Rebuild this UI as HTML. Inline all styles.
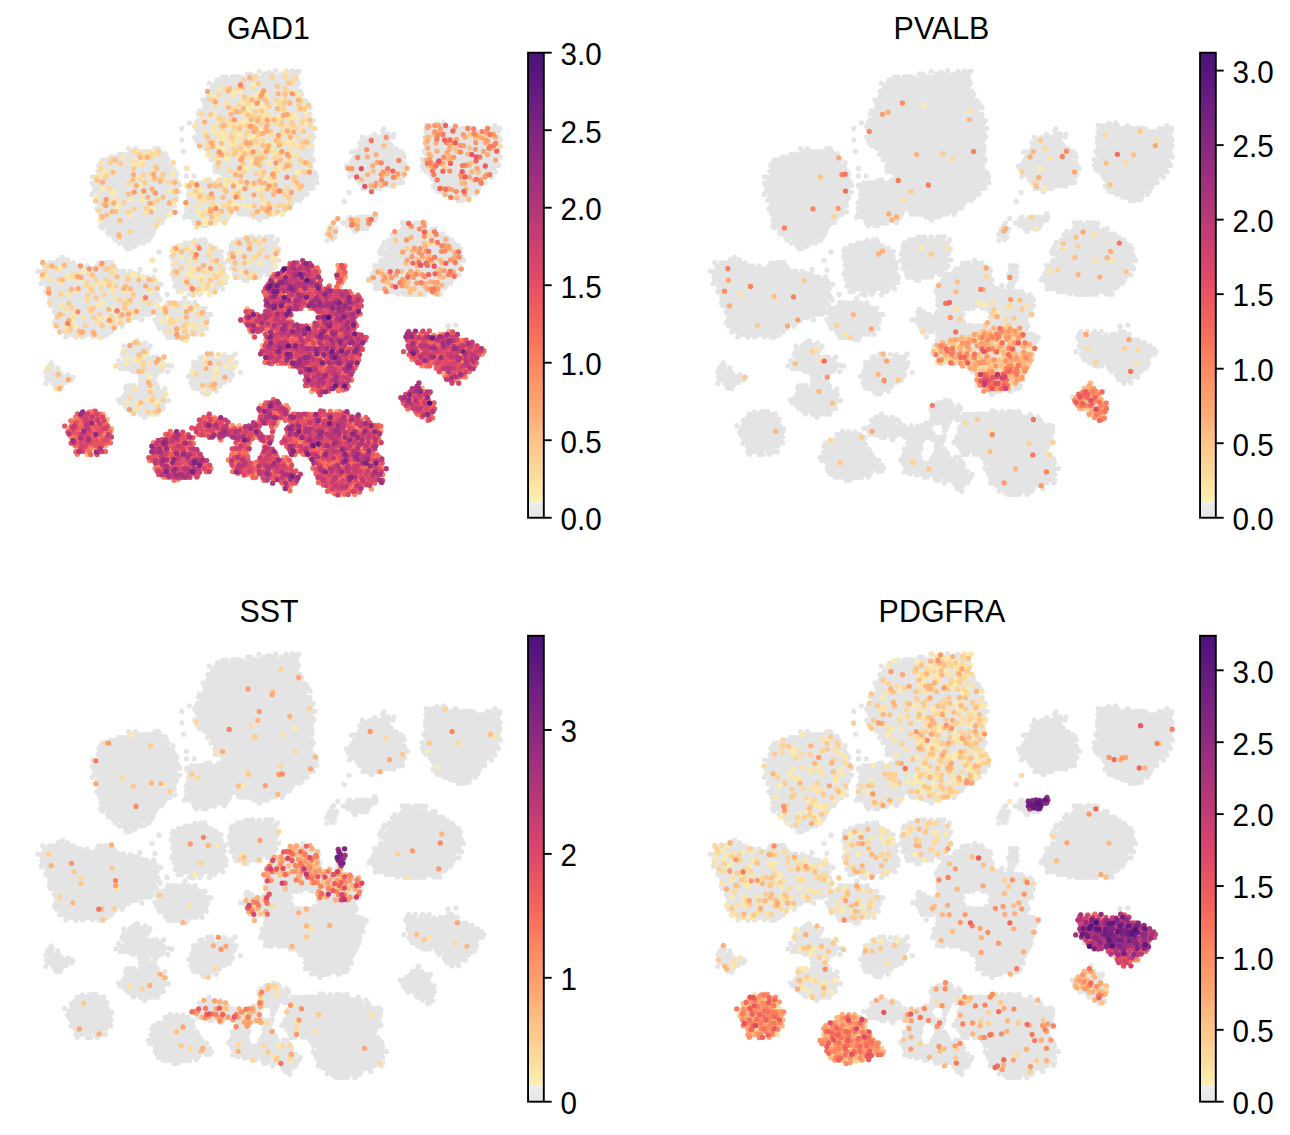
<!DOCTYPE html>
<html><head><meta charset="utf-8"><style>
html,body{margin:0;padding:0;background:#fff;width:1290px;height:1135px;overflow:hidden}
svg{display:block}
text{font-family:"Liberation Sans",sans-serif;fill:#000}
.ti{font-size:31.7px;text-anchor:middle}
.tk{font-size:31.3px}
</style></head><body>
<svg width="1290" height="1135" viewBox="0 0 1290 1135">
<defs>
<linearGradient id="cbg" x1="0" y1="1" x2="0" y2="0"><stop offset="0" stop-color="#e5e5e5"/><stop offset="0.036" stop-color="#efefef"/><stop offset="0.0360" stop-color="#fcf0b2"/><stop offset="0.0842" stop-color="#fddea0"/><stop offset="0.1324" stop-color="#fecd90"/><stop offset="0.1806" stop-color="#febd82"/><stop offset="0.2288" stop-color="#feaa74"/><stop offset="0.2770" stop-color="#fd9a6a"/><stop offset="0.3252" stop-color="#fc8961"/><stop offset="0.3734" stop-color="#f8765c"/><stop offset="0.4216" stop-color="#f3655c"/><stop offset="0.4698" stop-color="#eb5760"/><stop offset="0.5180" stop-color="#df4a68"/><stop offset="0.5662" stop-color="#d2426f"/><stop offset="0.6144" stop-color="#c43c75"/><stop offset="0.6626" stop-color="#b3367a"/><stop offset="0.7108" stop-color="#a5317e"/><stop offset="0.7590" stop-color="#962c80"/><stop offset="0.8072" stop-color="#862781"/><stop offset="0.8554" stop-color="#782281"/><stop offset="0.9036" stop-color="#6a1c81"/><stop offset="0.9518" stop-color="#5a167e"/><stop offset="1.0000" stop-color="#4c117a"/></linearGradient>
<g id="grey">
<path fill="none" stroke="#e4e4e4" stroke-width="5.3" stroke-linecap="round" d="M931.1 71.4h0M941.0 72.3h0M947.5 71.0h0M957.9 71.3h0M964.0 71.0h0M967.5 71.9h0M970.8 71.2h0M919.6 74.1h0M922.7 74.1h0M936.6 74.0h0M939.2 74.7h0M942.9 74.1h0M946.5 74.8h0M952.6 74.2h0M955.7 74.1h0M958.9 74.3h0M962.6 73.7h0M968.7 74.5h0M894.8 77.5h0M898.1 77.1h0M904.4 76.8h0M908.3 76.5h0M910.8 77.2h0M914.6 77.7h0M921.5 77.5h0M924.7 77.5h0M927.9 76.7h0M930.7 77.7h0M934.3 76.6h0M937.6 77.4h0M941.0 77.2h0M943.5 77.2h0M947.5 77.6h0M950.8 77.1h0M954.0 77.1h0M957.5 77.0h0M960.4 76.8h0M964.0 77.0h0M967.2 76.7h0M889.6 80.0h0M892.6 80.1h0M896.3 79.9h0M899.7 80.1h0M903.0 79.6h0M906.6 80.0h0M909.6 80.0h0M912.6 80.1h0M916.0 79.7h0M919.5 80.2h0M922.9 80.1h0M925.9 79.9h0M929.3 79.6h0M932.9 80.0h0M935.6 80.4h0M939.8 79.6h0M942.5 79.7h0M946.1 79.6h0M949.3 80.1h0M952.8 79.4h0M955.5 79.9h0M959.3 80.0h0M962.6 80.1h0M965.4 80.0h0M968.8 79.9h0M881.4 83.1h0M888.2 82.5h0M890.9 82.7h0M894.2 82.7h0M898.0 82.9h0M901.9 82.6h0M904.5 82.7h0M907.6 83.5h0M911.0 82.8h0M914.4 83.6h0M917.7 82.6h0M921.5 82.7h0M923.8 83.2h0M928.0 82.4h0M930.6 82.8h0M934.0 82.4h0M937.2 83.4h0M941.2 82.5h0M944.1 82.9h0M947.4 82.8h0M951.3 82.7h0M953.9 82.8h0M957.2 82.7h0M960.6 82.5h0M964.4 82.6h0M970.3 82.9h0M885.6 86.1h0M890.0 85.9h0M893.0 85.4h0M896.5 85.7h0M899.2 86.0h0M902.5 85.6h0M906.8 85.5h0M909.6 86.0h0M912.8 85.3h0M916.0 85.7h0M919.0 86.1h0M922.8 85.9h0M926.1 85.8h0M929.2 85.3h0M932.8 85.7h0M936.4 85.3h0M939.3 86.3h0M942.1 85.3h0M945.9 86.2h0M948.8 85.7h0M952.4 85.5h0M955.6 86.1h0M959.1 85.3h0M962.1 85.7h0M965.2 85.5h0M968.8 85.1h0M884.2 88.4h0M887.8 88.4h0M891.4 88.7h0M894.5 88.6h0M897.6 88.5h0M901.6 88.4h0M904.5 88.6h0M908.1 88.7h0M911.1 88.3h0M914.6 87.7h0M917.9 88.3h0M921.3 88.5h0M924.8 88.4h0M927.1 88.6h0M930.8 88.5h0M934.6 88.3h0M937.8 88.8h0M941.2 88.0h0M944.2 88.4h0M947.4 88.3h0M950.7 88.8h0M954.6 88.8h0M957.0 88.9h0M960.3 88.5h0M964.3 88.4h0M967.5 88.5h0M880.1 91.4h0M883.3 91.9h0M886.8 91.7h0M889.7 91.2h0M892.8 91.7h0M896.0 91.5h0M900.1 90.9h0M903.0 91.1h0M906.2 91.6h0M909.2 91.0h0M912.7 91.5h0M916.0 91.1h0M919.6 91.1h0M922.3 91.5h0M926.7 91.3h0M929.3 91.1h0M932.4 91.1h0M936.0 91.2h0M939.0 91.7h0M942.1 91.7h0M945.8 91.1h0M949.1 91.3h0M952.5 91.4h0M956.3 91.7h0M959.4 91.1h0M962.2 91.8h0M965.8 91.4h0M968.9 91.7h0M971.7 91.2h0M881.6 94.2h0M884.7 94.8h0M888.4 94.5h0M891.2 94.5h0M894.7 94.5h0M898.1 95.1h0M901.3 94.0h0M905.0 94.7h0M908.3 93.5h0M910.9 94.1h0M914.0 94.3h0M918.0 94.6h0M921.4 94.3h0M924.9 94.4h0M926.9 94.2h0M930.8 94.4h0M934.2 94.2h0M938.0 94.1h0M940.5 94.4h0M944.4 94.3h0M947.5 94.1h0M950.4 94.1h0M953.8 94.7h0M957.3 94.7h0M960.7 94.0h0M964.0 94.3h0M967.7 93.7h0M970.5 94.4h0M973.7 94.3h0M879.9 97.2h0M883.0 97.3h0M886.8 97.0h0M890.1 97.0h0M893.3 97.1h0M896.2 97.2h0M899.3 96.6h0M902.9 97.0h0M905.9 97.8h0M909.6 96.9h0M913.0 97.3h0M916.0 97.0h0M918.8 97.2h0M923.3 97.5h0M926.3 96.9h0M929.0 97.4h0M932.7 97.0h0M935.8 97.4h0M939.4 97.0h0M942.5 96.6h0M945.4 97.3h0M949.0 96.8h0M952.5 97.5h0M955.4 97.0h0M958.9 97.8h0M962.6 97.2h0M965.2 97.3h0M969.1 97.0h0M972.0 97.0h0M875.0 100.0h0M878.2 100.4h0M881.6 100.2h0M885.2 100.0h0M888.2 100.2h0M891.3 100.4h0M894.5 100.0h0M898.0 99.9h0M901.3 99.9h0M903.9 100.4h0M907.8 100.3h0M910.9 100.2h0M914.1 100.5h0M917.8 99.9h0M920.3 99.3h0M924.3 99.8h0M927.5 99.9h0M931.3 99.9h0M934.2 99.8h0M937.3 100.1h0M940.8 99.9h0M944.3 100.0h0M947.7 100.2h0M950.4 99.8h0M954.4 99.9h0M957.6 99.7h0M960.0 99.4h0M963.8 99.9h0M968.0 100.2h0M970.8 100.3h0M973.4 100.0h0M977.2 100.6h0M876.6 103.2h0M879.5 102.9h0M883.5 103.0h0M886.7 102.2h0M889.5 102.8h0M892.9 102.2h0M896.7 103.0h0M899.1 102.8h0M903.0 103.2h0M906.5 102.6h0M909.4 103.0h0M913.2 102.8h0M916.0 103.1h0M919.5 103.3h0M922.9 103.2h0M925.5 102.5h0M928.9 102.7h0M932.8 102.8h0M936.1 102.7h0M939.6 103.1h0M942.0 102.6h0M945.7 103.1h0M949.4 103.4h0M952.0 102.9h0M955.7 102.8h0M959.0 102.2h0M962.4 102.7h0M965.3 103.3h0M968.7 102.9h0M972.0 102.4h0M975.4 103.0h0M978.5 103.0h0M877.9 105.3h0M882.0 105.8h0M884.4 106.3h0M888.2 105.8h0M890.5 106.1h0M894.7 106.1h0M898.5 105.3h0M901.8 106.0h0M904.6 105.0h0M908.5 105.8h0M911.4 105.4h0M914.7 105.9h0M918.2 105.4h0M920.4 105.5h0M924.1 105.8h0M927.6 105.8h0M931.4 106.2h0M934.3 105.2h0M937.6 105.6h0M940.9 105.7h0M944.2 105.0h0M947.6 105.9h0M950.9 105.7h0M954.3 105.2h0M957.3 105.9h0M960.5 105.7h0M964.3 105.6h0M967.0 105.5h0M970.7 105.4h0M973.9 105.6h0M977.2 105.9h0M980.7 105.7h0M876.7 108.7h0M879.8 108.2h0M882.8 108.5h0M886.6 108.5h0M889.5 108.7h0M892.7 108.8h0M897.2 108.4h0M900.0 108.3h0M903.0 108.7h0M906.6 108.6h0M910.0 108.2h0M912.8 108.6h0M916.2 108.5h0M920.0 108.5h0M923.1 108.7h0M926.7 108.5h0M929.6 108.8h0M931.7 108.7h0M936.3 109.1h0M938.9 108.5h0M942.9 108.3h0M945.6 108.8h0M949.4 109.0h0M952.8 108.7h0M955.5 108.4h0M959.1 108.7h0M962.4 108.8h0M965.4 108.5h0M968.6 109.2h0M972.2 108.9h0M976.0 108.7h0M982.1 108.1h0M871.3 110.8h0M874.7 111.8h0M878.0 111.5h0M881.5 112.1h0M885.2 111.2h0M888.0 111.8h0M891.5 111.5h0M895.1 111.6h0M898.1 112.4h0M901.4 111.0h0M904.7 111.5h0M908.4 111.5h0M911.0 111.6h0M914.1 111.3h0M917.9 111.2h0M920.5 111.1h0M924.2 111.6h0M927.6 111.4h0M930.7 111.5h0M934.1 111.6h0M937.7 111.9h0M941.1 111.3h0M943.9 111.5h0M947.7 111.9h0M950.6 111.0h0M953.5 111.1h0M957.3 111.3h0M960.6 111.4h0M964.1 110.9h0M967.3 111.4h0M970.5 111.3h0M973.3 111.6h0M977.0 111.4h0M870.4 114.1h0M873.4 114.3h0M876.5 114.6h0M880.1 114.5h0M883.0 114.3h0M886.0 114.5h0M889.4 114.2h0M893.3 114.2h0M896.4 114.1h0M900.5 113.9h0M902.8 114.3h0M907.1 114.1h0M909.6 114.6h0M912.2 114.6h0M916.3 114.8h0M920.0 114.5h0M923.1 114.1h0M925.7 114.3h0M929.5 114.3h0M932.8 114.5h0M936.5 114.3h0M939.2 114.5h0M942.7 114.5h0M946.4 114.1h0M949.4 114.8h0M952.9 113.9h0M955.7 114.7h0M959.1 114.5h0M962.4 114.8h0M965.8 114.3h0M969.0 114.8h0M972.4 113.9h0M975.0 114.6h0M978.4 114.4h0M982.0 114.4h0M875.1 116.9h0M878.0 116.9h0M881.3 117.4h0M884.6 117.2h0M887.9 117.1h0M891.6 117.4h0M894.4 117.2h0M897.7 117.4h0M901.1 116.9h0M904.9 117.0h0M907.9 117.4h0M911.0 117.1h0M914.7 117.8h0M918.0 117.4h0M921.1 117.2h0M924.9 116.9h0M927.5 117.6h0M930.8 116.8h0M934.5 117.5h0M938.1 117.8h0M940.2 117.1h0M944.1 117.3h0M947.3 117.2h0M950.9 117.2h0M953.9 117.2h0M957.1 116.9h0M960.6 117.4h0M963.4 117.1h0M967.7 117.2h0M970.4 117.2h0M974.4 117.1h0M977.0 117.4h0M980.4 117.0h0M870.0 119.9h0M872.7 120.0h0M876.4 119.9h0M880.2 120.2h0M883.4 119.9h0M886.9 119.8h0M890.0 119.6h0M893.1 119.7h0M895.9 120.2h0M899.7 120.2h0M903.0 120.1h0M906.2 120.0h0M909.6 120.7h0M912.5 119.6h0M915.9 119.8h0M919.6 120.3h0M923.1 120.0h0M926.3 120.6h0M929.6 120.4h0M932.4 120.3h0M936.2 119.7h0M939.3 120.2h0M942.3 120.3h0M946.2 120.1h0M949.1 120.0h0M952.6 120.4h0M955.4 120.1h0M959.1 119.8h0M962.0 120.0h0M965.2 120.1h0M968.9 119.7h0M972.3 119.8h0M975.3 120.4h0M978.6 119.2h0M982.2 119.7h0M985.2 120.5h0M868.5 122.7h0M871.9 122.6h0M875.2 122.6h0M877.4 122.6h0M881.7 122.9h0M884.9 122.7h0M888.2 122.6h0M891.9 123.3h0M894.8 122.7h0M897.8 123.1h0M901.4 122.6h0M904.8 123.1h0M908.1 123.0h0M911.3 122.9h0M914.4 122.7h0M918.2 122.4h0M921.1 123.1h0M925.1 122.8h0M928.1 123.3h0M931.3 123.4h0M933.8 123.2h0M937.6 123.0h0M940.9 122.6h0M943.7 123.0h0M947.5 122.5h0M950.8 122.6h0M953.9 122.9h0M957.7 122.3h0M960.7 123.1h0M963.6 122.8h0M967.4 123.2h0M970.3 122.4h0M973.7 122.7h0M977.2 122.9h0M979.9 123.1h0M983.3 123.0h0M866.7 125.9h0M869.9 125.9h0M872.7 125.8h0M876.6 126.0h0M879.6 125.7h0M883.4 126.7h0M886.6 126.0h0M889.7 126.4h0M893.1 125.7h0M896.5 125.4h0M899.4 125.7h0M902.8 126.1h0M906.2 126.5h0M909.7 125.6h0M913.0 126.0h0M916.2 125.9h0M919.4 125.5h0M922.8 126.3h0M926.0 125.8h0M928.9 125.6h0M932.8 125.7h0M936.3 126.1h0M939.1 125.7h0M942.8 125.9h0M945.8 125.2h0M949.6 125.8h0M952.5 125.5h0M956.2 125.7h0M959.1 125.2h0M962.2 125.7h0M965.8 126.0h0M968.9 126.1h0M972.2 125.7h0M975.6 125.2h0M978.2 126.3h0M981.6 125.6h0M868.4 128.4h0M871.4 128.3h0M874.7 128.5h0M877.9 128.9h0M881.8 128.7h0M885.0 128.2h0M887.9 128.4h0M891.5 128.8h0M894.9 128.2h0M898.0 128.9h0M901.2 128.7h0M904.1 128.6h0M907.8 128.0h0M911.4 129.0h0M914.7 128.5h0M917.8 128.4h0M921.3 128.7h0M924.8 128.6h0M928.0 128.5h0M930.8 128.6h0M934.0 128.3h0M937.8 128.8h0M940.7 128.3h0M944.1 128.4h0M947.7 128.5h0M950.4 128.3h0M954.2 129.2h0M957.5 128.2h0M960.4 128.6h0M963.9 128.6h0M967.9 128.3h0M970.3 128.6h0M973.9 128.6h0M977.4 128.6h0M980.8 128.6h0M983.9 128.1h0M986.8 128.5h0M869.9 131.6h0M873.3 131.2h0M876.8 131.6h0M879.8 131.4h0M883.2 131.0h0M886.8 130.7h0M889.4 131.2h0M893.2 131.5h0M896.4 131.1h0M900.0 131.7h0M902.3 131.5h0M905.7 131.3h0M909.7 131.4h0M912.5 131.2h0M916.5 131.5h0M919.6 130.9h0M922.9 131.5h0M925.8 131.8h0M929.3 131.7h0M932.5 131.6h0M936.1 131.4h0M939.3 131.5h0M942.5 131.1h0M945.9 131.4h0M949.2 131.2h0M952.9 131.7h0M956.1 132.0h0M959.3 131.4h0M962.0 131.8h0M965.7 131.7h0M969.3 131.4h0M972.0 131.6h0M975.4 131.2h0M979.0 131.4h0M982.3 131.1h0M871.2 134.1h0M875.1 134.5h0M877.6 134.5h0M881.9 134.4h0M884.9 134.3h0M888.2 134.2h0M891.8 134.3h0M894.3 134.5h0M898.3 134.4h0M901.0 134.5h0M903.7 134.8h0M908.1 133.7h0M910.6 135.0h0M914.6 134.1h0M917.9 134.2h0M921.0 134.4h0M924.5 134.0h0M927.8 134.4h0M930.7 134.6h0M934.4 134.0h0M938.1 134.5h0M941.3 134.1h0M944.0 134.3h0M947.3 134.2h0M950.4 134.9h0M954.3 134.7h0M957.9 134.3h0M961.3 133.6h0M963.9 134.1h0M967.3 133.9h0M970.9 134.9h0M974.0 134.5h0M976.5 134.1h0M980.6 134.1h0M983.9 134.2h0M866.8 137.2h0M870.4 137.7h0M874.0 137.1h0M876.8 136.8h0M880.1 137.3h0M883.1 137.6h0M886.5 136.7h0M890.2 137.2h0M893.3 137.0h0M896.2 136.8h0M899.4 137.4h0M903.1 136.7h0M906.3 137.2h0M909.4 137.3h0M912.6 137.5h0M916.1 137.2h0M918.5 137.0h0M922.8 137.0h0M926.0 136.9h0M929.6 136.8h0M932.5 137.6h0M936.3 137.1h0M938.9 136.6h0M942.6 137.2h0M945.7 137.1h0M949.7 137.4h0M952.4 137.1h0M955.6 137.2h0M959.0 137.2h0M962.2 137.4h0M965.7 136.8h0M969.8 137.2h0M972.1 136.8h0M975.6 137.0h0M979.3 137.3h0M982.0 136.6h0M985.7 136.7h0M868.3 139.7h0M874.8 139.6h0M878.0 140.2h0M881.8 140.3h0M885.1 140.6h0M888.0 140.4h0M891.2 140.6h0M895.0 139.7h0M898.2 140.3h0M901.1 140.1h0M904.9 140.6h0M907.7 140.5h0M910.9 139.8h0M914.9 140.3h0M917.6 140.5h0M921.3 140.1h0M924.3 139.3h0M927.7 140.3h0M931.0 140.3h0M934.3 140.4h0M936.7 140.2h0M940.6 140.1h0M944.4 140.4h0M947.8 140.4h0M950.5 140.1h0M953.5 140.1h0M956.9 140.3h0M960.8 139.9h0M963.8 140.1h0M967.1 139.6h0M970.7 139.8h0M974.0 139.7h0M976.8 140.7h0M980.7 140.4h0M983.7 140.0h0M869.9 142.9h0M873.3 143.3h0M876.4 143.2h0M880.1 143.0h0M883.2 142.7h0M886.3 143.0h0M889.9 142.8h0M893.4 143.0h0M896.4 142.9h0M900.0 143.1h0M903.1 142.5h0M906.8 142.5h0M909.7 142.6h0M912.4 141.9h0M916.2 143.0h0M919.4 142.7h0M922.3 142.9h0M926.0 142.4h0M929.2 142.8h0M932.3 143.2h0M935.5 143.5h0M939.6 142.7h0M943.0 143.2h0M946.2 142.9h0M948.9 142.2h0M952.5 142.8h0M955.6 143.5h0M959.2 142.4h0M962.3 143.0h0M965.3 142.9h0M968.8 142.4h0M972.4 143.1h0M974.8 143.0h0M978.7 142.8h0M981.6 142.6h0M871.6 145.6h0M875.0 145.8h0M877.9 145.8h0M881.8 145.4h0M884.4 146.0h0M888.3 146.0h0M891.9 145.7h0M894.4 145.8h0M897.8 145.9h0M901.5 145.8h0M904.8 145.8h0M908.0 145.4h0M911.7 145.5h0M914.4 145.5h0M917.7 145.6h0M920.5 146.2h0M924.5 145.7h0M927.7 146.1h0M931.3 145.8h0M934.6 145.0h0M937.9 145.7h0M940.7 145.4h0M944.2 145.2h0M947.6 145.5h0M951.0 145.2h0M954.2 145.6h0M957.0 146.1h0M961.0 145.4h0M963.9 146.2h0M967.3 145.5h0M970.3 145.5h0M974.1 146.0h0M977.1 145.4h0M980.2 145.2h0M983.9 145.7h0M876.9 148.3h0M879.2 148.5h0M882.5 148.5h0M886.8 149.0h0M889.4 148.7h0M892.7 148.7h0M896.7 148.4h0M900.1 148.7h0M903.7 148.4h0M906.0 149.0h0M909.8 148.8h0M912.6 148.6h0M916.0 149.1h0M919.6 148.4h0M922.5 148.2h0M925.9 148.6h0M929.5 148.9h0M932.5 149.0h0M935.4 148.6h0M939.5 148.5h0M942.6 148.9h0M945.7 148.7h0M949.5 148.3h0M952.8 148.6h0M955.3 148.7h0M959.3 148.6h0M962.5 148.8h0M965.7 148.7h0M969.2 148.9h0M972.3 148.1h0M975.2 148.5h0M979.2 148.8h0M982.7 148.8h0M881.2 151.3h0M884.7 151.4h0M888.4 151.7h0M891.4 152.0h0M894.9 151.1h0M898.4 151.1h0M900.9 151.3h0M904.5 151.4h0M907.9 151.2h0M911.0 151.7h0M914.6 151.4h0M917.6 151.5h0M920.8 151.1h0M924.7 151.7h0M927.6 151.9h0M931.0 151.7h0M934.5 151.5h0M937.7 151.9h0M941.2 150.9h0M944.4 150.8h0M947.2 151.6h0M950.5 151.8h0M954.0 151.6h0M957.5 151.7h0M961.1 151.0h0M964.0 151.5h0M967.6 151.6h0M970.5 151.1h0M973.4 151.2h0M977.3 151.5h0M981.0 151.6h0M984.1 151.1h0M879.7 154.3h0M883.1 153.9h0M886.5 154.0h0M890.0 155.0h0M893.7 155.1h0M896.3 154.2h0M899.9 154.1h0M903.2 154.2h0M906.4 154.2h0M910.1 154.7h0M913.1 154.0h0M916.6 154.2h0M919.1 154.4h0M923.1 153.9h0M926.3 154.3h0M929.3 154.5h0M932.6 154.1h0M936.3 153.6h0M939.6 154.0h0M943.0 154.0h0M946.3 153.8h0M949.7 154.4h0M952.4 154.3h0M956.1 154.3h0M959.3 154.4h0M962.1 154.9h0M965.7 154.5h0M969.1 154.4h0M972.8 154.5h0M975.5 154.4h0M978.8 154.0h0M884.7 157.2h0M888.3 157.5h0M891.7 156.9h0M894.7 157.0h0M898.2 156.8h0M900.8 157.2h0M904.4 157.0h0M907.9 156.9h0M911.2 156.8h0M914.1 157.3h0M917.7 157.5h0M921.2 156.9h0M924.2 156.8h0M927.7 157.3h0M931.0 157.2h0M934.0 157.5h0M937.8 157.4h0M940.5 157.1h0M944.0 157.6h0M947.4 157.8h0M950.9 157.0h0M954.4 157.7h0M957.3 157.0h0M960.7 156.8h0M963.7 156.5h0M967.1 156.8h0M970.6 157.2h0M974.2 157.2h0M977.1 157.5h0M980.3 156.5h0M983.4 157.0h0M883.0 159.8h0M886.7 159.8h0M889.8 159.9h0M892.7 160.6h0M896.2 159.7h0M899.6 160.6h0M902.5 160.4h0M906.1 160.1h0M909.6 160.3h0M912.7 160.6h0M916.1 159.6h0M919.5 160.3h0M923.0 160.3h0M926.0 160.5h0M929.6 159.8h0M932.6 159.8h0M935.9 160.1h0M939.2 160.0h0M942.8 160.3h0M946.3 159.1h0M949.0 159.9h0M952.3 159.8h0M955.5 160.3h0M959.5 159.7h0M962.6 159.4h0M965.8 160.5h0M969.3 159.8h0M972.0 160.0h0M976.0 160.2h0M978.9 160.2h0M981.9 159.4h0M985.3 159.9h0M887.9 162.6h0M890.9 163.0h0M894.9 162.8h0M898.2 162.9h0M901.8 162.8h0M904.6 162.5h0M907.9 162.7h0M911.0 163.3h0M914.7 163.2h0M917.9 162.6h0M921.1 163.2h0M924.1 162.8h0M927.7 163.2h0M931.0 163.1h0M934.5 162.8h0M937.6 162.5h0M940.7 163.0h0M944.3 163.0h0M947.5 163.1h0M951.0 162.9h0M953.6 163.8h0M958.1 162.6h0M961.2 162.8h0M964.4 162.6h0M967.3 162.8h0M970.8 163.2h0M974.0 162.2h0M977.2 162.6h0M981.0 162.7h0M983.2 162.9h0M886.9 166.0h0M890.1 165.8h0M892.8 166.1h0M896.2 165.8h0M899.9 165.7h0M902.8 165.4h0M906.6 166.3h0M909.3 166.1h0M913.5 166.3h0M916.5 165.6h0M919.1 165.6h0M922.9 166.2h0M926.5 165.8h0M929.5 165.7h0M932.2 165.6h0M936.3 166.0h0M939.3 165.8h0M943.3 165.9h0M945.8 165.4h0M949.0 165.9h0M952.4 165.9h0M955.7 166.6h0M959.0 166.1h0M962.2 165.9h0M966.0 165.9h0M968.5 166.2h0M972.5 165.5h0M975.5 166.0h0M978.6 166.0h0M981.8 165.8h0M887.7 168.5h0M891.2 168.6h0M894.6 168.7h0M897.8 168.2h0M902.0 168.6h0M904.7 168.2h0M907.7 168.4h0M911.5 168.3h0M914.6 168.5h0M917.6 168.8h0M921.2 168.3h0M924.6 168.2h0M927.8 168.6h0M931.7 168.7h0M934.9 168.8h0M937.5 168.8h0M940.5 168.2h0M944.2 169.1h0M947.8 168.2h0M950.2 168.7h0M953.6 168.3h0M957.2 168.3h0M960.4 168.5h0M964.3 168.4h0M967.3 168.7h0M970.7 168.6h0M973.7 168.6h0M976.7 168.6h0M980.9 168.8h0M982.9 168.7h0M887.0 171.3h0M890.1 171.5h0M893.2 171.4h0M896.4 171.8h0M899.7 171.2h0M902.9 171.1h0M906.4 171.7h0M909.6 171.9h0M913.3 171.4h0M916.5 171.4h0M919.5 171.4h0M922.8 171.1h0M926.0 171.1h0M929.8 171.3h0M932.7 171.0h0M935.8 171.6h0M938.7 171.6h0M942.4 172.1h0M946.1 171.8h0M949.3 171.8h0M952.2 172.0h0M956.0 171.0h0M959.2 171.5h0M962.8 171.4h0M965.7 171.6h0M969.0 172.0h0M972.4 171.3h0M975.7 171.5h0M979.4 171.2h0M981.7 172.1h0M985.5 171.9h0M894.6 174.2h0M898.2 174.0h0M901.4 174.2h0M905.0 174.2h0M908.1 174.6h0M911.0 174.4h0M914.5 174.8h0M918.0 174.1h0M921.7 174.2h0M924.4 174.4h0M927.9 174.1h0M930.9 174.2h0M934.4 174.1h0M937.5 173.9h0M941.4 174.5h0M944.6 174.1h0M947.0 173.8h0M950.4 174.5h0M954.0 174.2h0M957.0 174.8h0M960.3 174.3h0M963.9 174.3h0M967.3 174.4h0M971.4 174.7h0M974.0 174.0h0M977.7 174.8h0M980.3 174.5h0M983.1 174.0h0M987.5 173.8h0M896.7 177.2h0M899.3 176.7h0M902.8 177.5h0M906.4 177.4h0M909.4 176.7h0M912.8 176.6h0M915.9 177.3h0M919.2 176.7h0M922.9 177.3h0M926.1 176.6h0M929.5 177.1h0M932.8 177.5h0M936.1 177.5h0M939.4 177.0h0M942.4 177.7h0M946.5 177.1h0M949.2 177.3h0M952.7 176.7h0M956.0 177.2h0M959.1 177.1h0M962.8 177.1h0M966.2 177.7h0M968.8 177.5h0M972.6 177.1h0M975.0 177.1h0M979.0 177.9h0M982.6 177.5h0M985.6 177.5h0M988.6 177.0h0M891.2 180.2h0M895.0 179.7h0M898.0 180.0h0M901.2 180.3h0M904.5 180.2h0M908.0 180.2h0M911.1 179.8h0M914.7 180.0h0M918.0 179.9h0M920.9 180.2h0M924.4 180.0h0M927.9 180.0h0M931.0 180.2h0M934.0 180.3h0M937.6 179.9h0M940.9 179.8h0M943.7 180.0h0M947.4 180.5h0M951.2 179.9h0M954.2 180.3h0M957.5 180.0h0M960.6 179.7h0M964.2 180.2h0M967.3 180.0h0M971.1 180.2h0M974.3 179.7h0M977.0 179.8h0M980.7 179.9h0M984.2 180.1h0M987.4 179.9h0M893.2 182.7h0M895.9 182.9h0M899.6 183.1h0M903.2 183.2h0M906.0 182.8h0M909.0 182.9h0M912.7 182.2h0M916.3 183.0h0M919.0 182.2h0M922.6 182.9h0M926.0 183.2h0M930.0 182.9h0M932.5 182.7h0M936.5 182.8h0M939.4 183.1h0M942.8 183.0h0M946.4 183.0h0M949.2 182.5h0M952.3 182.8h0M956.0 182.7h0M959.1 182.8h0M961.5 182.9h0M966.1 182.4h0M969.2 182.5h0M972.1 182.8h0M975.8 182.8h0M978.8 183.1h0M982.4 182.8h0M985.6 183.3h0M988.9 182.6h0M897.6 185.3h0M901.5 186.1h0M904.9 186.0h0M908.4 186.2h0M911.1 185.8h0M913.8 186.0h0M917.8 185.8h0M921.4 185.3h0M924.4 185.5h0M928.2 185.4h0M930.8 185.9h0M934.8 185.7h0M937.2 185.5h0M941.0 185.9h0M943.8 186.1h0M947.2 185.5h0M950.7 185.4h0M953.7 185.7h0M956.7 185.6h0M960.3 185.8h0M963.7 186.0h0M967.4 185.9h0M970.6 185.5h0M974.0 185.9h0M977.2 185.8h0M980.6 185.7h0M983.6 185.8h0M896.1 188.9h0M899.9 189.2h0M902.7 188.7h0M906.4 188.9h0M909.2 188.6h0M912.7 188.8h0M917.1 188.8h0M919.9 188.8h0M922.7 188.7h0M926.1 188.6h0M929.6 188.8h0M932.4 188.0h0M935.8 188.7h0M939.7 188.7h0M942.7 188.9h0M946.2 188.4h0M949.1 188.8h0M952.3 188.4h0M955.7 188.6h0M959.4 188.5h0M962.1 188.5h0M965.9 188.1h0M969.1 188.9h0M972.2 188.5h0M975.2 188.4h0M978.8 189.0h0M982.4 188.5h0M985.1 188.3h0M898.0 191.6h0M901.6 191.2h0M904.5 191.5h0M908.1 191.3h0M911.3 191.7h0M914.5 191.6h0M918.1 191.1h0M921.1 191.5h0M925.0 190.9h0M927.5 191.0h0M930.7 191.5h0M934.0 191.4h0M937.6 191.4h0M941.1 191.5h0M943.9 191.3h0M947.6 191.3h0M950.9 191.4h0M953.9 191.3h0M957.1 191.5h0M960.5 191.2h0M963.9 192.1h0M967.6 191.3h0M970.3 191.7h0M973.6 191.8h0M977.0 191.8h0M905.6 194.0h0M909.5 194.3h0M912.7 194.2h0M916.3 194.0h0M919.6 194.5h0M922.2 194.4h0M926.0 194.5h0M929.5 193.7h0M933.2 194.3h0M936.2 194.6h0M938.9 194.3h0M942.5 195.0h0M945.4 194.8h0M949.4 194.3h0M952.1 194.3h0M956.0 194.0h0M959.1 194.5h0M962.6 194.2h0M965.8 194.5h0M968.3 194.0h0M971.8 194.1h0M975.8 194.5h0M979.0 194.2h0M904.5 197.4h0M907.8 197.5h0M911.1 197.3h0M914.8 197.2h0M917.3 197.5h0M921.1 197.4h0M923.6 197.2h0M927.7 197.1h0M931.0 196.9h0M934.0 197.3h0M937.5 197.4h0M941.0 197.0h0M944.2 197.1h0M947.7 197.7h0M950.8 197.0h0M954.7 197.1h0M957.2 197.1h0M960.1 197.6h0M964.3 197.5h0M967.5 197.1h0M970.5 197.0h0M974.1 197.5h0M906.2 200.2h0M909.8 199.6h0M912.9 200.4h0M916.5 200.1h0M919.3 200.2h0M922.7 199.7h0M925.4 200.2h0M929.7 200.6h0M933.1 200.2h0M936.0 200.1h0M939.5 199.7h0M942.6 200.0h0M946.1 200.2h0M948.6 199.6h0M952.5 200.2h0M955.5 200.1h0M959.1 199.9h0M962.2 200.2h0M966.0 199.9h0M969.1 200.1h0M972.1 199.9h0M908.2 203.2h0M911.2 202.9h0M914.5 203.5h0M917.6 203.2h0M921.2 202.5h0M924.6 203.3h0M927.8 202.6h0M931.2 203.1h0M934.2 203.2h0M937.1 202.6h0M940.8 202.9h0M944.5 203.2h0M947.3 203.2h0M951.3 203.2h0M954.1 202.8h0M957.2 202.3h0M960.5 202.5h0M964.1 203.0h0M909.8 205.6h0M913.3 206.2h0M916.4 205.3h0M919.3 205.8h0M922.8 205.8h0M926.3 205.5h0M929.0 205.3h0M933.0 206.0h0M935.8 205.7h0M939.6 205.6h0M942.7 206.0h0M945.9 206.0h0M949.5 205.6h0M951.9 205.7h0M955.3 205.2h0M959.2 205.4h0M962.2 205.8h0M910.8 208.1h0M914.2 208.5h0M917.7 208.5h0M921.2 208.2h0M924.2 209.0h0M927.6 208.6h0M931.2 208.2h0M934.4 208.5h0M937.3 208.6h0M941.3 208.7h0M944.1 209.1h0M947.6 209.2h0M951.2 208.6h0M953.9 208.5h0M957.7 208.2h0M961.4 207.8h0M909.9 211.3h0M916.6 211.0h0M919.1 211.4h0M922.8 211.3h0M925.6 212.1h0M929.5 211.9h0M932.9 211.7h0M935.4 211.6h0M939.3 211.5h0M942.3 211.1h0M945.9 211.7h0M949.5 211.5h0M951.9 211.4h0M955.6 211.3h0M911.1 214.1h0M914.4 214.2h0M918.2 213.7h0M920.8 214.5h0M924.4 214.3h0M927.1 214.5h0M930.8 214.7h0M933.6 214.4h0M937.7 214.8h0M940.9 214.1h0M944.2 214.2h0M947.5 213.7h0M954.1 214.3h0M925.9 217.0h0M929.0 216.9h0M935.6 216.8h0M939.0 216.9h0M931.4 220.1h0M800.7 148.6h0M807.3 148.7h0M827.0 148.7h0M830.1 148.4h0M802.6 152.0h0M805.6 151.4h0M809.0 151.7h0M812.0 151.6h0M815.1 151.8h0M818.5 151.3h0M822.2 151.8h0M825.2 151.3h0M829.2 151.3h0M831.8 151.3h0M791.0 154.3h0M793.9 154.6h0M797.2 154.7h0M800.7 154.2h0M804.3 154.2h0M807.4 154.7h0M810.4 154.1h0M814.1 154.6h0M816.5 154.5h0M820.8 154.1h0M824.1 154.2h0M826.9 154.2h0M830.6 154.2h0M833.5 154.3h0M837.2 153.7h0M782.7 157.1h0M785.8 157.1h0M789.6 157.1h0M792.1 158.3h0M795.5 157.0h0M798.7 157.3h0M802.1 156.9h0M805.9 157.6h0M809.0 156.8h0M812.3 157.0h0M815.6 157.2h0M818.5 157.4h0M822.1 157.1h0M825.1 157.4h0M828.5 157.2h0M831.7 156.8h0M834.9 156.7h0M838.5 157.5h0M774.2 160.2h0M777.3 159.8h0M780.7 160.2h0M784.5 159.8h0M787.2 160.0h0M790.4 159.6h0M794.2 159.9h0M797.8 159.7h0M801.1 160.4h0M803.8 160.1h0M806.5 160.1h0M810.6 159.8h0M814.2 159.3h0M817.3 160.0h0M820.5 159.6h0M823.9 159.9h0M827.1 160.3h0M830.1 159.2h0M833.7 160.1h0M836.9 159.8h0M840.0 160.1h0M772.8 163.2h0M776.1 162.7h0M779.0 163.1h0M782.3 162.7h0M785.6 163.3h0M788.6 163.2h0M792.7 163.4h0M795.8 163.6h0M799.2 162.6h0M801.9 162.9h0M805.7 163.0h0M809.2 163.2h0M811.5 162.9h0M815.5 163.1h0M818.6 163.2h0M822.1 163.3h0M825.2 162.9h0M828.3 162.6h0M831.9 162.7h0M835.4 163.0h0M838.6 162.9h0M845.1 162.7h0M770.8 165.6h0M774.5 166.5h0M777.0 165.7h0M780.6 166.1h0M784.2 165.5h0M787.7 165.9h0M790.7 166.0h0M794.1 166.0h0M797.0 165.9h0M800.9 165.5h0M805.0 166.2h0M807.3 165.6h0M810.5 165.7h0M814.0 165.3h0M816.8 166.1h0M820.0 166.3h0M823.7 165.3h0M826.8 166.2h0M830.4 165.4h0M834.0 165.9h0M836.8 165.4h0M839.8 165.7h0M843.7 166.2h0M772.5 168.6h0M775.3 168.7h0M779.5 168.8h0M782.1 168.6h0M785.9 168.9h0M789.4 168.9h0M792.3 168.8h0M795.6 168.5h0M798.5 168.7h0M802.2 168.1h0M806.0 168.5h0M809.0 168.7h0M812.1 168.6h0M815.8 168.3h0M818.4 168.9h0M822.2 168.4h0M825.7 168.2h0M828.7 168.7h0M832.0 168.7h0M835.1 168.1h0M838.4 168.8h0M841.9 168.6h0M845.1 168.9h0M770.1 171.4h0M774.2 171.4h0M777.7 171.6h0M780.6 171.3h0M784.6 172.1h0M787.5 171.5h0M791.0 171.6h0M794.1 171.5h0M797.8 171.3h0M800.8 171.1h0M804.1 171.6h0M807.3 171.6h0M810.1 171.3h0M813.8 171.5h0M817.2 171.3h0M820.5 171.6h0M824.5 171.5h0M827.2 171.6h0M830.3 171.4h0M833.9 171.4h0M836.8 171.5h0M840.8 171.2h0M843.5 171.6h0M847.1 172.0h0M772.1 175.0h0M776.6 174.1h0M778.6 174.4h0M782.4 174.3h0M785.3 173.9h0M789.3 173.9h0M791.8 174.5h0M795.9 174.2h0M798.7 174.8h0M802.2 174.5h0M805.2 173.9h0M809.0 174.8h0M811.9 174.1h0M815.4 174.7h0M818.8 174.4h0M822.4 174.5h0M825.9 173.9h0M828.8 174.4h0M831.6 174.4h0M835.4 174.2h0M838.4 174.7h0M842.0 174.3h0M845.3 174.2h0M848.6 174.5h0M764.6 176.9h0M767.6 177.7h0M771.3 176.7h0M774.5 177.2h0M777.8 177.3h0M780.6 177.8h0M783.4 176.9h0M787.8 177.2h0M790.9 176.9h0M794.3 177.0h0M797.0 176.8h0M801.0 177.1h0M804.2 177.3h0M807.2 176.8h0M810.6 177.4h0M813.5 177.0h0M816.9 176.5h0M820.5 177.3h0M823.7 177.2h0M827.1 177.5h0M830.6 177.5h0M833.4 177.3h0M836.9 176.8h0M840.4 176.7h0M843.2 177.5h0M847.1 176.6h0M769.3 180.1h0M772.1 180.2h0M775.9 180.3h0M779.1 180.1h0M782.4 180.6h0M785.3 179.7h0M788.8 179.1h0M792.2 180.5h0M795.9 180.3h0M798.9 179.8h0M802.2 179.6h0M805.0 180.3h0M808.9 180.4h0M811.8 180.0h0M815.0 180.5h0M818.8 179.7h0M821.8 180.4h0M825.0 179.9h0M828.7 179.7h0M832.4 180.5h0M835.1 180.0h0M838.8 180.2h0M842.1 179.7h0M845.2 179.6h0M848.4 180.1h0M764.1 183.1h0M767.8 183.5h0M771.2 183.1h0M774.2 182.6h0M777.5 182.8h0M780.8 183.2h0M783.9 183.4h0M787.2 182.5h0M791.0 182.8h0M793.8 183.0h0M797.2 182.9h0M800.5 182.9h0M803.7 183.1h0M807.1 182.9h0M809.9 183.0h0M813.7 182.8h0M817.0 182.7h0M820.1 183.1h0M823.6 182.8h0M826.9 182.6h0M830.6 182.7h0M833.7 182.6h0M836.5 182.4h0M840.4 182.3h0M843.0 182.7h0M847.0 182.6h0M850.4 182.8h0M766.2 185.6h0M769.5 185.7h0M772.7 185.5h0M775.9 185.3h0M779.0 185.9h0M782.3 185.5h0M786.1 186.0h0M788.8 185.8h0M792.6 185.5h0M795.5 185.7h0M799.5 185.7h0M802.3 184.9h0M805.7 186.0h0M808.6 186.0h0M812.3 186.0h0M815.5 185.8h0M819.6 186.3h0M821.8 185.2h0M825.5 185.9h0M828.7 185.7h0M832.4 184.8h0M835.0 185.9h0M838.7 185.9h0M841.7 186.3h0M845.5 186.0h0M851.6 185.3h0M767.7 188.8h0M771.0 188.3h0M774.3 188.6h0M776.6 188.2h0M780.7 188.4h0M784.2 189.2h0M787.4 188.4h0M790.7 188.3h0M793.8 188.4h0M797.5 188.4h0M800.7 188.7h0M803.6 188.8h0M807.7 188.5h0M810.6 188.9h0M814.2 188.7h0M817.1 188.7h0M820.1 188.3h0M823.6 188.7h0M826.7 188.7h0M829.8 188.3h0M833.4 188.7h0M837.5 188.1h0M840.3 188.5h0M843.7 188.4h0M847.1 187.9h0M766.2 191.2h0M769.2 191.3h0M772.8 191.0h0M776.0 191.6h0M779.2 191.4h0M782.7 191.7h0M785.9 191.5h0M789.3 191.7h0M792.1 191.1h0M795.6 191.3h0M798.9 191.4h0M802.7 191.5h0M805.7 191.7h0M808.7 191.4h0M811.7 191.2h0M815.7 191.4h0M818.7 192.0h0M822.6 191.5h0M825.2 191.1h0M828.7 191.1h0M832.0 191.3h0M835.3 191.4h0M839.0 191.4h0M842.4 191.3h0M845.7 191.2h0M848.6 191.4h0M851.5 192.1h0M764.1 194.3h0M771.1 194.4h0M774.4 194.4h0M777.6 194.4h0M781.0 194.6h0M784.7 194.2h0M788.0 194.6h0M791.1 194.2h0M794.2 194.5h0M797.3 194.6h0M800.3 194.1h0M804.2 194.5h0M806.8 194.5h0M810.6 194.6h0M813.8 194.3h0M816.9 194.3h0M820.3 194.5h0M823.1 194.3h0M827.4 193.5h0M830.5 194.4h0M833.7 194.4h0M836.7 194.6h0M840.3 193.8h0M843.7 194.0h0M846.5 194.4h0M769.3 197.0h0M772.1 197.3h0M776.1 197.1h0M779.1 197.3h0M782.7 197.7h0M786.0 197.4h0M788.9 196.8h0M792.8 196.9h0M795.9 197.2h0M798.8 197.2h0M802.8 197.6h0M805.5 197.1h0M808.3 196.8h0M812.0 197.2h0M815.6 197.0h0M819.2 196.9h0M822.3 196.9h0M825.3 197.2h0M828.9 197.0h0M831.9 197.1h0M835.4 197.6h0M838.8 197.1h0M841.8 197.5h0M845.6 197.5h0M848.5 196.9h0M767.9 200.4h0M771.0 199.9h0M774.5 199.9h0M778.0 200.0h0M781.2 199.8h0M784.4 200.2h0M787.5 200.4h0M791.0 200.1h0M794.1 200.2h0M797.4 199.9h0M800.5 200.0h0M803.7 199.5h0M807.5 199.9h0M811.3 200.1h0M814.1 200.3h0M817.2 200.0h0M820.0 199.8h0M823.4 199.7h0M826.6 200.1h0M829.8 200.5h0M833.4 200.2h0M837.1 200.2h0M840.3 200.0h0M843.6 200.3h0M847.1 200.1h0M772.9 203.0h0M775.7 203.6h0M779.0 203.4h0M782.2 202.4h0M785.8 202.7h0M788.3 202.8h0M793.1 202.8h0M795.8 202.8h0M799.0 202.9h0M802.3 202.9h0M805.7 203.0h0M808.9 202.4h0M811.9 202.5h0M815.4 203.3h0M818.8 202.7h0M822.7 203.1h0M825.2 203.0h0M829.0 203.2h0M831.8 202.9h0M835.1 202.5h0M838.7 202.3h0M841.8 203.2h0M845.4 202.9h0M771.3 205.5h0M774.6 206.2h0M777.8 205.6h0M781.2 205.6h0M784.1 205.3h0M787.1 205.5h0M791.2 205.8h0M794.1 205.6h0M797.2 205.4h0M800.5 206.1h0M803.9 206.4h0M807.4 205.6h0M810.9 205.7h0M814.1 205.6h0M817.6 205.9h0M820.5 206.0h0M823.6 205.1h0M826.8 206.0h0M830.8 205.3h0M833.8 205.9h0M836.5 205.2h0M840.8 205.9h0M843.4 205.9h0M846.3 205.9h0M769.0 208.8h0M772.4 208.8h0M775.9 209.0h0M778.8 208.6h0M782.7 208.7h0M785.3 208.3h0M788.9 208.2h0M792.2 208.4h0M795.5 208.4h0M798.7 208.8h0M802.6 208.5h0M806.0 208.9h0M808.7 209.1h0M812.6 208.8h0M815.4 208.7h0M818.6 208.8h0M822.0 208.2h0M825.0 208.4h0M828.4 208.7h0M832.2 208.6h0M835.2 208.5h0M838.4 208.3h0M842.0 208.4h0M771.1 211.1h0M774.4 211.4h0M777.2 211.7h0M780.9 212.0h0M784.0 211.9h0M787.6 211.2h0M791.0 211.7h0M794.4 211.3h0M796.6 211.3h0M800.7 211.8h0M804.3 211.9h0M807.5 211.5h0M810.4 211.6h0M813.7 211.6h0M817.1 211.7h0M820.4 211.3h0M823.6 211.7h0M826.9 211.9h0M830.1 211.6h0M833.6 211.1h0M836.9 211.6h0M840.5 211.4h0M843.2 211.3h0M846.7 212.0h0M772.3 214.0h0M775.5 213.9h0M779.1 214.8h0M781.5 214.3h0M785.9 214.7h0M789.5 214.4h0M791.9 214.0h0M795.6 214.1h0M799.2 214.1h0M801.9 214.3h0M805.8 214.1h0M808.6 214.0h0M812.2 214.4h0M815.3 214.1h0M819.0 215.0h0M822.9 215.0h0M825.2 214.4h0M828.7 214.2h0M831.8 214.3h0M835.4 214.7h0M839.0 214.2h0M841.8 214.6h0M774.3 216.9h0M778.2 216.8h0M780.9 217.2h0M783.6 217.1h0M787.1 216.7h0M790.2 217.1h0M794.3 217.4h0M797.3 217.3h0M800.0 217.2h0M803.7 217.3h0M807.4 217.2h0M810.4 217.1h0M814.4 217.0h0M817.2 217.4h0M820.8 216.7h0M823.8 216.8h0M826.9 217.4h0M829.8 217.2h0M833.6 217.4h0M836.9 217.2h0M773.0 220.2h0M775.4 219.9h0M778.8 219.6h0M782.2 219.5h0M785.3 219.8h0M788.9 219.4h0M792.2 220.5h0M795.6 219.8h0M798.8 220.6h0M802.5 220.2h0M805.7 220.0h0M809.4 219.9h0M811.5 220.2h0M815.7 220.1h0M818.9 220.1h0M822.2 220.6h0M825.8 220.2h0M828.7 219.9h0M831.6 219.6h0M834.9 219.9h0M774.0 223.6h0M777.7 223.1h0M780.6 222.5h0M784.3 223.3h0M787.3 222.5h0M791.0 222.7h0M794.2 222.6h0M797.3 222.6h0M800.5 222.6h0M804.0 222.8h0M807.3 222.7h0M810.9 222.7h0M813.7 223.2h0M817.2 222.7h0M820.3 222.6h0M824.0 222.9h0M827.0 222.4h0M830.6 223.2h0M834.0 222.5h0M772.8 225.9h0M775.9 225.9h0M779.2 225.5h0M782.7 225.8h0M785.8 225.7h0M789.8 225.9h0M792.7 225.7h0M795.9 225.6h0M798.9 225.7h0M802.3 226.3h0M805.4 226.0h0M809.0 225.8h0M812.8 225.7h0M815.0 226.1h0M819.0 225.3h0M822.3 225.5h0M825.4 226.1h0M828.4 225.7h0M774.2 227.9h0M781.3 228.5h0M784.2 227.9h0M787.6 228.7h0M791.2 228.8h0M794.2 228.7h0M796.8 228.9h0M800.7 228.7h0M804.1 228.5h0M807.2 228.6h0M810.7 229.0h0M814.0 228.8h0M816.9 229.2h0M820.9 228.9h0M823.4 228.8h0M826.7 228.5h0M779.5 231.3h0M782.2 231.4h0M784.9 231.2h0M789.3 231.4h0M792.3 231.5h0M795.6 231.2h0M798.9 231.0h0M802.4 231.4h0M805.8 231.3h0M809.4 231.5h0M812.0 231.8h0M815.2 231.9h0M819.4 231.1h0M821.7 231.6h0M825.6 231.7h0M780.7 234.0h0M784.1 234.0h0M787.4 234.7h0M790.7 234.6h0M794.1 234.1h0M797.6 234.2h0M800.8 234.3h0M804.3 234.5h0M807.3 234.1h0M811.2 234.3h0M813.9 234.4h0M817.1 234.0h0M820.3 234.1h0M824.1 235.0h0M785.7 237.3h0M789.4 237.4h0M791.9 237.2h0M795.6 237.5h0M798.3 237.2h0M802.3 237.3h0M805.5 237.1h0M808.9 236.7h0M812.2 236.7h0M815.2 237.4h0M818.9 237.3h0M822.4 237.3h0M787.4 240.1h0M794.3 240.2h0M797.4 239.9h0M800.3 240.1h0M803.9 239.9h0M807.7 240.0h0M811.0 240.6h0M820.5 240.1h0M791.8 243.2h0M795.9 242.6h0M799.2 243.1h0M802.1 242.4h0M805.9 242.9h0M808.7 243.1h0M812.0 243.2h0M816.0 242.7h0M797.4 246.1h0M804.0 245.7h0M807.0 246.2h0M798.9 248.7h0M802.3 248.6h0M878.5 180.3h0M881.6 180.0h0M863.7 182.8h0M866.6 183.2h0M869.7 183.0h0M873.3 182.8h0M876.2 182.2h0M879.8 182.5h0M883.2 182.7h0M886.3 183.3h0M889.9 182.6h0M858.4 185.5h0M861.7 185.0h0M864.6 185.7h0M868.5 185.3h0M871.7 186.4h0M874.8 185.5h0M877.6 185.2h0M881.3 185.6h0M884.9 186.2h0M887.8 185.8h0M891.8 185.9h0M859.9 187.8h0M863.6 188.8h0M867.2 188.6h0M870.0 188.9h0M872.7 188.7h0M876.4 189.2h0M879.8 188.9h0M883.0 187.6h0M886.9 188.9h0M890.1 188.5h0M861.9 191.5h0M864.8 191.3h0M867.9 191.3h0M871.5 191.7h0M875.1 191.1h0M877.6 192.0h0M881.5 191.2h0M884.9 191.2h0M887.9 190.7h0M891.2 191.9h0M894.9 191.3h0M860.5 194.6h0M863.1 194.2h0M867.1 194.0h0M869.4 194.9h0M873.6 194.4h0M877.0 194.4h0M880.1 194.5h0M883.4 194.0h0M886.5 194.4h0M889.4 193.9h0M893.0 194.8h0M896.3 194.6h0M900.0 194.7h0M862.0 196.9h0M865.4 197.1h0M868.3 197.2h0M871.6 197.0h0M875.1 197.8h0M878.1 197.4h0M881.2 197.3h0M884.6 197.6h0M888.0 197.4h0M891.5 196.8h0M894.7 197.2h0M898.3 197.1h0M860.2 199.9h0M863.1 200.1h0M866.9 200.1h0M869.3 200.4h0M872.7 200.4h0M877.0 201.0h0M879.5 199.9h0M883.2 200.2h0M886.3 200.4h0M889.7 200.1h0M893.1 200.3h0M896.5 199.6h0M899.9 199.8h0M902.7 199.9h0M858.3 202.7h0M862.0 203.1h0M865.0 203.2h0M868.3 202.8h0M871.8 203.0h0M875.6 202.5h0M878.5 202.6h0M881.8 202.6h0M884.3 203.4h0M888.1 203.4h0M891.2 202.7h0M895.1 202.7h0M898.0 202.6h0M901.3 202.3h0M904.5 202.9h0M859.8 205.7h0M863.8 205.1h0M866.3 205.5h0M870.1 205.5h0M873.4 205.1h0M876.2 205.9h0M879.1 205.8h0M883.5 205.9h0M886.6 205.4h0M889.5 206.0h0M893.1 206.2h0M896.4 205.8h0M899.6 206.2h0M858.4 208.5h0M861.3 208.8h0M864.8 208.3h0M868.2 208.9h0M871.8 208.2h0M874.2 209.0h0M878.2 209.2h0M881.6 208.7h0M884.7 208.6h0M888.1 208.6h0M891.9 208.5h0M894.6 208.9h0M897.7 208.5h0M901.3 208.1h0M904.7 208.5h0M908.1 208.6h0M860.3 211.6h0M862.8 211.4h0M866.6 211.9h0M870.3 211.1h0M872.5 211.2h0M877.2 211.5h0M879.9 211.7h0M883.1 211.6h0M886.2 211.2h0M889.9 211.5h0M893.3 211.5h0M896.7 211.6h0M899.8 211.8h0M903.0 211.1h0M858.4 214.0h0M861.5 214.4h0M864.8 214.8h0M868.6 214.2h0M872.1 214.3h0M875.0 214.9h0M878.8 214.3h0M881.7 214.3h0M885.1 214.3h0M888.5 213.8h0M891.5 214.7h0M894.8 213.8h0M898.1 214.0h0M901.2 214.3h0M856.6 217.2h0M860.0 216.7h0M863.4 216.9h0M866.6 217.4h0M870.3 217.3h0M873.3 217.1h0M876.3 217.3h0M879.9 217.0h0M883.3 216.8h0M886.5 217.0h0M889.5 216.9h0M892.9 216.9h0M896.3 217.2h0M900.5 216.6h0M865.6 219.9h0M867.9 219.7h0M871.6 219.9h0M875.0 219.8h0M877.9 220.4h0M881.9 220.2h0M884.5 220.4h0M889.1 219.7h0M891.6 220.0h0M894.8 220.1h0M898.2 219.8h0M866.5 223.0h0M870.5 223.1h0M873.4 222.8h0M876.4 223.2h0M880.2 222.7h0M883.1 222.8h0M886.4 223.2h0M896.4 222.8h0M868.5 225.8h0M875.1 225.6h0M878.2 225.5h0M867.2 240.3h0M873.0 239.8h0M876.7 240.0h0M857.6 243.0h0M862.0 243.1h0M865.2 242.6h0M868.7 243.3h0M872.4 243.3h0M875.4 242.3h0M877.8 242.5h0M850.3 245.7h0M853.4 245.9h0M857.1 246.1h0M860.0 245.6h0M863.8 246.0h0M867.1 245.8h0M869.9 245.9h0M872.8 246.0h0M876.4 245.6h0M879.9 245.4h0M883.0 246.2h0M845.1 248.4h0M848.5 248.6h0M851.8 248.9h0M854.4 248.6h0M857.9 248.8h0M861.5 248.1h0M865.2 248.9h0M868.1 249.1h0M871.5 248.5h0M874.9 248.6h0M878.0 249.1h0M881.4 248.8h0M884.7 248.4h0M887.9 248.3h0M844.3 250.8h0M846.7 251.6h0M849.9 251.0h0M853.5 251.6h0M857.0 250.9h0M860.0 251.6h0M863.9 251.7h0M866.3 251.5h0M869.9 251.6h0M873.4 251.9h0M876.3 251.7h0M879.7 251.2h0M882.9 251.3h0M886.6 251.6h0M888.9 251.4h0M893.2 251.6h0M845.1 254.7h0M848.6 254.9h0M851.5 254.0h0M855.0 253.9h0M858.0 254.1h0M861.5 254.9h0M864.7 254.4h0M868.1 254.0h0M871.7 254.6h0M875.3 254.2h0M878.5 254.5h0M881.4 254.6h0M884.6 254.7h0M887.7 254.0h0M890.7 254.4h0M843.4 256.3h0M847.1 257.0h0M850.7 257.7h0M853.3 257.1h0M856.9 257.2h0M860.5 257.7h0M862.9 256.5h0M866.9 257.7h0M869.9 257.0h0M873.3 257.0h0M875.8 256.6h0M879.6 257.4h0M882.9 257.1h0M886.0 257.4h0M889.1 257.3h0M893.1 257.2h0M844.8 259.7h0M848.5 260.3h0M852.0 259.9h0M855.1 260.5h0M858.5 259.9h0M862.1 261.1h0M864.9 259.7h0M868.2 259.6h0M871.3 259.9h0M874.8 259.9h0M878.0 259.6h0M881.6 259.9h0M884.7 260.2h0M888.0 260.1h0M892.2 259.7h0M846.7 262.8h0M850.3 262.5h0M853.2 262.8h0M856.5 262.7h0M859.9 262.9h0M862.9 263.0h0M866.6 263.0h0M869.9 262.9h0M873.0 262.8h0M876.1 262.9h0M880.2 262.7h0M883.2 262.3h0M886.1 263.0h0M889.5 262.9h0M893.2 262.7h0M896.7 262.4h0M844.8 265.1h0M848.6 265.7h0M851.8 265.7h0M855.3 267.0h0M858.6 265.8h0M861.7 266.4h0M864.6 265.8h0M868.7 265.5h0M872.0 265.5h0M874.9 265.6h0M878.2 265.0h0M881.4 265.7h0M884.7 266.1h0M888.3 265.6h0M891.6 265.5h0M894.7 265.9h0M846.9 268.4h0M850.2 269.2h0M853.2 268.1h0M856.2 268.7h0M859.9 269.3h0M863.0 268.1h0M866.6 268.8h0M870.4 269.2h0M873.6 268.6h0M876.5 268.4h0M880.0 268.7h0M882.8 268.5h0M886.1 268.7h0M889.9 268.8h0M892.8 268.4h0M896.3 268.1h0M845.5 271.7h0M848.3 271.9h0M851.8 271.5h0M855.2 271.3h0M858.3 271.5h0M861.7 271.4h0M865.2 271.3h0M867.9 271.5h0M871.5 271.6h0M875.4 271.8h0M878.5 271.5h0M881.6 271.4h0M884.9 271.7h0M888.4 271.5h0M891.2 271.8h0M894.2 271.3h0M843.9 274.4h0M847.2 274.2h0M850.0 273.8h0M853.6 274.1h0M856.9 274.1h0M859.7 273.7h0M863.2 274.1h0M866.7 273.9h0M870.0 274.1h0M873.1 274.0h0M876.4 274.4h0M880.2 274.1h0M883.1 274.6h0M886.3 274.7h0M889.6 274.3h0M893.2 274.4h0M896.6 274.6h0M847.9 277.1h0M851.8 276.9h0M855.5 276.7h0M859.0 277.3h0M861.9 276.9h0M864.7 277.3h0M868.9 277.2h0M872.0 277.3h0M874.7 277.4h0M878.5 277.2h0M881.7 277.3h0M885.2 277.1h0M888.0 277.5h0M891.0 277.2h0M894.6 277.1h0M898.3 277.3h0M846.2 279.3h0M850.5 280.2h0M853.9 280.3h0M857.1 280.1h0M859.7 279.8h0M863.6 280.1h0M866.9 280.5h0M869.9 280.7h0M873.1 280.0h0M876.8 280.3h0M879.8 280.3h0M882.7 280.2h0M886.7 280.1h0M889.8 280.1h0M892.8 280.6h0M896.4 280.0h0M848.8 282.6h0M851.8 282.6h0M855.2 282.3h0M858.6 282.5h0M861.8 282.9h0M865.0 282.9h0M868.8 282.6h0M871.4 283.2h0M875.1 283.3h0M878.3 282.8h0M881.5 283.0h0M885.0 283.0h0M887.9 282.8h0M891.9 282.7h0M895.1 282.5h0M897.7 282.4h0M847.0 286.2h0M850.5 285.5h0M853.3 285.5h0M856.4 286.1h0M859.8 285.6h0M862.8 285.8h0M866.2 286.4h0M869.9 285.7h0M873.3 285.5h0M876.4 285.7h0M879.9 285.9h0M883.1 285.1h0M886.3 285.5h0M889.6 285.8h0M893.0 286.3h0M851.4 288.3h0M855.3 288.7h0M857.9 288.9h0M861.9 288.6h0M864.6 289.1h0M869.1 288.5h0M871.0 289.3h0M875.0 288.8h0M878.4 288.4h0M881.4 288.5h0M884.9 288.5h0M888.5 288.6h0M894.7 288.7h0M850.1 291.5h0M853.0 291.4h0M863.6 291.0h0M866.7 291.2h0M870.5 291.1h0M873.4 292.0h0M882.8 291.2h0M886.6 291.6h0M861.6 294.1h0M865.3 294.9h0M871.7 294.4h0M881.5 294.6h0M917.9 237.3h0M921.0 237.5h0M924.5 236.9h0M931.1 237.1h0M937.8 237.2h0M940.6 237.0h0M943.8 236.7h0M909.7 240.0h0M913.1 239.8h0M916.1 239.7h0M919.6 239.5h0M922.9 239.9h0M926.5 240.1h0M929.5 239.9h0M932.8 240.3h0M936.1 240.6h0M939.3 240.7h0M942.2 239.9h0M949.3 240.0h0M904.4 243.0h0M907.7 242.8h0M911.1 243.3h0M914.7 242.5h0M917.8 242.8h0M921.2 243.1h0M924.3 243.3h0M928.1 242.6h0M931.0 242.6h0M933.8 242.5h0M937.2 242.6h0M941.0 243.0h0M944.0 242.6h0M947.6 243.1h0M903.1 246.0h0M906.1 246.3h0M909.8 245.5h0M912.8 245.7h0M915.8 245.6h0M919.2 246.1h0M923.3 245.9h0M926.5 245.5h0M929.4 245.7h0M932.9 245.6h0M935.9 245.7h0M939.1 245.4h0M942.8 245.5h0M945.9 245.3h0M904.3 248.8h0M907.5 248.3h0M911.3 249.2h0M914.8 249.0h0M917.5 249.0h0M921.0 248.5h0M925.2 249.1h0M927.8 248.3h0M931.1 248.9h0M934.4 249.1h0M937.5 248.8h0M941.3 248.6h0M944.1 249.1h0M947.6 248.8h0M950.6 248.8h0M902.9 251.1h0M905.7 250.9h0M909.4 251.5h0M912.2 251.3h0M916.3 251.2h0M919.7 251.3h0M922.9 251.5h0M926.4 251.9h0M929.0 251.8h0M933.1 250.9h0M936.4 251.6h0M939.0 251.9h0M942.7 251.3h0M945.7 251.4h0M949.1 251.5h0M901.3 253.9h0M905.1 254.0h0M908.0 254.5h0M911.5 254.4h0M914.8 254.5h0M917.9 254.3h0M921.2 254.1h0M924.2 254.4h0M928.3 253.8h0M931.0 254.5h0M934.1 254.2h0M937.9 253.9h0M941.1 254.5h0M944.2 254.6h0M947.7 254.3h0M903.6 257.3h0M905.6 257.0h0M909.7 257.3h0M912.9 257.1h0M916.0 256.9h0M918.9 257.3h0M922.9 257.9h0M926.3 257.1h0M929.6 257.4h0M932.2 257.2h0M936.1 256.9h0M939.1 257.0h0M942.8 257.0h0M946.0 256.7h0M901.3 260.1h0M904.6 259.8h0M907.9 260.1h0M911.2 259.7h0M914.6 259.7h0M918.0 259.4h0M921.0 259.8h0M924.5 259.8h0M928.3 259.9h0M931.3 260.1h0M934.3 260.5h0M937.7 259.7h0M940.9 259.8h0M944.3 260.0h0M946.8 259.7h0M950.7 260.2h0M903.0 262.2h0M906.6 262.9h0M909.5 263.0h0M912.8 263.1h0M916.1 262.8h0M919.2 263.4h0M922.2 262.3h0M926.0 262.6h0M930.1 263.5h0M932.7 262.6h0M936.1 262.7h0M939.7 263.0h0M942.9 263.4h0M945.8 263.4h0M904.9 265.9h0M908.1 266.6h0M911.5 265.8h0M914.5 265.5h0M917.9 265.5h0M921.4 265.7h0M924.0 265.9h0M928.1 266.0h0M931.2 266.2h0M934.1 265.9h0M937.6 265.9h0M940.6 266.1h0M947.9 265.9h0M903.0 268.4h0M906.7 268.8h0M909.4 268.4h0M912.8 268.8h0M916.4 268.9h0M919.6 268.8h0M922.5 268.5h0M926.1 268.8h0M929.0 268.9h0M933.0 268.1h0M935.4 268.3h0M939.0 268.7h0M942.9 269.0h0M945.8 268.4h0M907.9 271.3h0M911.2 271.4h0M914.4 271.7h0M918.0 272.1h0M921.1 271.5h0M924.7 271.6h0M927.6 271.5h0M930.6 271.3h0M934.4 271.5h0M937.4 271.4h0M941.7 271.9h0M906.4 274.1h0M909.7 274.4h0M912.9 274.2h0M916.2 274.4h0M919.3 274.4h0M922.4 274.3h0M926.2 273.8h0M929.3 274.3h0M932.4 274.5h0M939.3 274.5h0M943.1 274.3h0M907.8 277.3h0M911.7 277.3h0M914.3 276.8h0M917.6 277.0h0M920.8 276.9h0M924.2 277.0h0M927.7 277.1h0M931.4 277.1h0M916.4 280.2h0M918.9 280.6h0M734.7 257.4h0M730.1 260.0h0M733.0 259.5h0M739.5 259.9h0M714.8 262.7h0M721.3 262.9h0M724.3 262.9h0M728.4 263.2h0M731.2 262.7h0M734.7 262.8h0M737.5 263.1h0M741.3 263.1h0M745.2 262.8h0M770.8 263.0h0M774.0 263.2h0M778.0 262.7h0M781.0 262.7h0M783.7 262.3h0M716.4 265.7h0M719.4 265.8h0M723.4 265.7h0M726.5 265.5h0M729.7 265.9h0M733.0 265.2h0M736.1 265.7h0M739.5 265.9h0M742.8 265.2h0M746.1 265.5h0M749.8 265.9h0M752.9 266.2h0M759.1 266.0h0M769.4 266.0h0M772.5 265.4h0M775.9 265.6h0M779.0 265.6h0M782.7 265.7h0M785.4 265.9h0M717.8 268.9h0M721.8 268.1h0M725.5 268.4h0M728.4 268.3h0M731.5 268.7h0M734.9 268.7h0M737.7 269.1h0M740.8 268.5h0M744.0 268.9h0M747.9 268.5h0M751.6 268.8h0M754.3 268.6h0M757.8 268.6h0M761.4 268.8h0M764.4 268.8h0M767.5 268.9h0M771.4 268.8h0M774.2 268.6h0M777.4 269.0h0M781.2 268.5h0M784.3 268.5h0M787.5 268.5h0M710.0 271.2h0M713.6 271.3h0M716.8 271.5h0M719.8 271.7h0M723.1 271.6h0M726.4 271.6h0M729.4 271.1h0M733.1 271.5h0M736.3 271.3h0M739.1 271.6h0M743.1 271.4h0M745.7 271.0h0M749.7 271.4h0M752.8 271.3h0M756.3 271.5h0M759.1 271.0h0M762.5 271.1h0M765.6 271.8h0M769.6 271.6h0M772.6 272.1h0M775.7 271.5h0M779.0 271.2h0M782.8 271.4h0M785.6 271.2h0M789.0 271.3h0M792.0 271.2h0M795.8 271.0h0M802.4 271.3h0M714.8 274.3h0M717.9 274.6h0M721.6 274.4h0M725.2 274.0h0M728.1 274.1h0M730.9 274.2h0M734.4 274.8h0M737.8 273.9h0M741.8 274.6h0M744.8 274.5h0M748.0 274.7h0M751.5 274.2h0M754.8 273.6h0M757.7 274.3h0M761.0 274.5h0M764.4 274.8h0M767.1 274.1h0M771.1 274.5h0M773.9 274.3h0M777.4 274.3h0M780.8 274.0h0M783.9 274.0h0M787.4 274.7h0M791.2 274.6h0M794.1 273.8h0M797.4 273.9h0M800.3 274.1h0M804.0 274.4h0M806.9 273.8h0M810.6 274.3h0M713.9 277.0h0M716.3 277.1h0M719.7 276.7h0M723.0 277.0h0M726.8 277.4h0M729.1 276.6h0M733.5 277.1h0M735.7 277.0h0M740.0 277.3h0M743.5 277.7h0M746.1 277.5h0M749.1 277.4h0M752.9 277.3h0M756.3 277.8h0M759.2 277.0h0M762.7 277.1h0M766.3 277.2h0M768.9 277.3h0M772.5 276.8h0M776.2 277.0h0M779.1 277.4h0M782.3 277.0h0M785.7 277.3h0M789.1 277.5h0M792.2 277.6h0M795.9 277.4h0M799.0 276.8h0M802.2 277.4h0M805.9 277.1h0M808.9 277.3h0M812.5 277.3h0M815.2 276.9h0M818.9 277.1h0M825.5 277.0h0M714.9 279.9h0M718.1 280.2h0M721.5 279.5h0M724.3 280.5h0M728.0 280.4h0M731.3 280.1h0M734.5 280.2h0M738.2 280.1h0M741.5 280.1h0M744.0 280.2h0M748.1 279.8h0M751.4 279.7h0M754.4 280.2h0M757.0 280.2h0M761.0 280.3h0M764.2 280.0h0M767.6 280.0h0M770.7 280.4h0M773.9 279.9h0M777.6 279.8h0M781.1 279.9h0M784.0 280.2h0M788.0 280.0h0M791.1 279.9h0M794.0 280.1h0M797.6 280.2h0M800.4 279.9h0M803.9 280.2h0M808.0 280.0h0M811.1 280.7h0M813.7 279.8h0M817.5 279.6h0M820.9 280.0h0M824.0 280.2h0M826.6 280.3h0M719.9 282.3h0M723.1 283.3h0M726.6 282.9h0M729.7 283.2h0M732.7 283.0h0M736.6 282.6h0M739.5 283.1h0M743.5 282.6h0M746.5 283.4h0M749.7 282.9h0M752.8 282.5h0M756.5 282.5h0M759.4 282.8h0M762.8 282.8h0M766.4 282.4h0M768.7 282.9h0M772.2 283.1h0M776.1 283.1h0M778.9 282.7h0M782.3 282.9h0M785.8 283.1h0M788.9 283.5h0M792.5 283.0h0M795.0 282.6h0M799.3 282.7h0M802.1 282.6h0M805.5 283.1h0M808.9 283.2h0M811.9 283.1h0M815.5 282.9h0M818.4 282.9h0M822.2 282.4h0M825.9 282.9h0M828.3 283.2h0M718.4 285.4h0M721.3 286.0h0M725.0 286.0h0M727.4 286.2h0M731.1 285.6h0M734.9 285.6h0M737.8 285.8h0M741.2 285.8h0M744.4 285.5h0M747.7 285.7h0M751.0 285.9h0M755.0 285.4h0M757.8 285.9h0M760.7 285.6h0M764.2 285.7h0M767.5 285.6h0M771.2 285.3h0M774.4 286.0h0M777.7 285.3h0M780.4 285.6h0M783.9 285.5h0M787.8 285.5h0M791.0 286.1h0M794.5 286.3h0M797.7 285.8h0M800.2 285.7h0M803.8 286.3h0M807.5 285.8h0M810.2 285.4h0M813.7 285.8h0M817.4 285.9h0M820.5 286.0h0M823.4 285.6h0M826.9 285.8h0M720.0 289.1h0M723.3 288.4h0M726.5 288.8h0M729.9 288.1h0M732.4 289.1h0M736.5 288.7h0M739.5 288.9h0M743.3 288.9h0M746.0 288.7h0M750.1 288.6h0M752.5 288.9h0M756.0 288.7h0M759.9 289.0h0M762.4 288.9h0M766.4 289.1h0M769.3 288.7h0M773.2 288.2h0M775.6 288.4h0M779.5 288.9h0M782.6 289.0h0M785.7 288.4h0M789.0 288.1h0M792.0 288.7h0M795.7 288.4h0M799.3 288.8h0M802.3 288.6h0M805.9 289.3h0M808.7 288.6h0M812.1 288.8h0M815.2 288.6h0M819.3 288.6h0M821.8 288.8h0M825.6 288.5h0M829.1 288.7h0M717.9 291.5h0M721.8 292.0h0M724.5 291.1h0M728.3 291.7h0M732.1 291.3h0M735.1 291.8h0M738.0 290.5h0M741.3 291.4h0M743.9 291.7h0M747.6 291.1h0M751.0 291.8h0M755.0 291.8h0M757.9 291.5h0M760.5 291.1h0M764.3 291.4h0M767.4 292.0h0M771.3 291.2h0M774.5 291.5h0M778.3 291.8h0M781.1 291.6h0M784.5 291.5h0M788.0 291.5h0M790.3 291.5h0M794.3 291.0h0M796.8 291.4h0M801.0 291.7h0M803.1 291.7h0M807.1 291.2h0M810.5 292.2h0M813.4 291.4h0M816.5 291.6h0M820.5 291.5h0M823.9 291.1h0M827.0 291.4h0M723.1 294.2h0M726.6 294.4h0M729.6 294.4h0M732.8 294.5h0M736.4 293.7h0M739.8 294.2h0M742.8 294.5h0M746.2 294.4h0M749.1 294.7h0M752.7 294.7h0M756.1 294.4h0M759.7 294.6h0M762.7 294.5h0M766.6 294.4h0M769.2 294.5h0M772.2 294.5h0M775.8 294.4h0M778.5 294.6h0M782.6 294.1h0M786.1 294.2h0M788.7 294.0h0M792.3 294.2h0M795.7 294.2h0M799.1 294.5h0M802.0 294.7h0M805.3 294.6h0M809.2 294.3h0M812.0 294.0h0M816.1 293.9h0M818.7 294.3h0M822.4 294.6h0M825.3 294.1h0M829.3 294.3h0M721.9 297.5h0M724.8 297.3h0M727.6 296.8h0M731.2 296.9h0M734.4 297.3h0M737.9 297.1h0M741.9 297.0h0M744.5 297.5h0M747.8 297.5h0M750.9 297.6h0M754.6 296.7h0M757.7 297.4h0M760.9 297.3h0M764.2 297.4h0M767.6 297.5h0M771.1 297.5h0M774.5 297.1h0M777.5 297.3h0M781.2 297.4h0M783.8 297.6h0M787.6 297.6h0M790.5 297.1h0M793.9 296.9h0M797.8 297.2h0M800.4 296.8h0M803.8 297.4h0M807.7 297.4h0M810.5 297.3h0M813.3 296.8h0M817.1 297.3h0M820.4 297.3h0M823.6 297.1h0M827.1 297.1h0M830.2 297.1h0M722.5 300.2h0M726.3 299.8h0M730.0 300.5h0M732.8 300.1h0M736.4 300.0h0M739.7 299.7h0M742.7 300.2h0M746.2 300.7h0M749.4 300.0h0M752.9 300.3h0M756.2 300.5h0M759.5 300.4h0M762.6 300.4h0M766.2 299.7h0M769.7 300.4h0M772.4 300.2h0M776.4 300.0h0M779.7 300.0h0M782.9 300.2h0M785.0 300.1h0M789.0 300.2h0M792.3 300.4h0M795.8 300.1h0M799.0 300.1h0M802.1 300.2h0M805.3 299.9h0M808.6 300.4h0M812.6 299.9h0M815.4 299.6h0M818.3 300.2h0M822.8 299.9h0M825.7 299.6h0M832.1 300.2h0M721.3 303.0h0M725.1 302.7h0M727.9 303.0h0M731.5 303.2h0M734.9 302.6h0M738.1 302.6h0M741.3 303.1h0M744.7 302.9h0M747.6 303.2h0M751.3 302.3h0M754.8 303.2h0M757.2 303.3h0M761.3 303.1h0M764.0 302.7h0M767.7 303.1h0M771.1 303.4h0M774.1 302.5h0M777.3 303.1h0M781.1 303.2h0M784.3 303.2h0M787.5 303.1h0M791.1 303.1h0M793.9 302.6h0M797.3 303.7h0M800.7 302.6h0M803.7 302.7h0M807.5 303.2h0M810.2 302.7h0M813.7 302.2h0M817.1 302.8h0M820.5 302.6h0M823.6 303.0h0M827.0 303.2h0M722.9 305.6h0M726.5 306.0h0M729.5 305.9h0M733.1 305.4h0M736.2 306.4h0M739.3 305.8h0M742.6 305.7h0M746.2 305.5h0M749.7 306.2h0M753.0 305.2h0M756.1 305.7h0M759.4 306.1h0M762.4 306.0h0M765.8 305.9h0M769.3 305.8h0M772.9 306.2h0M775.5 305.8h0M778.5 305.6h0M782.9 305.4h0M785.6 305.5h0M789.0 305.9h0M792.6 305.5h0M795.4 305.7h0M799.2 305.9h0M802.6 305.9h0M805.5 305.9h0M808.6 306.2h0M812.1 305.6h0M815.4 305.9h0M818.7 305.2h0M822.6 305.6h0M824.9 305.2h0M828.6 305.3h0M728.5 308.5h0M731.2 308.6h0M734.7 309.0h0M737.9 308.5h0M741.2 308.2h0M744.7 308.5h0M748.4 308.5h0M751.2 308.4h0M754.7 309.2h0M758.5 308.5h0M761.5 308.9h0M764.7 308.7h0M767.8 308.7h0M770.7 308.7h0M774.7 308.3h0M777.8 308.4h0M780.9 309.1h0M783.8 309.0h0M786.9 309.1h0M790.6 309.7h0M794.0 308.3h0M797.0 308.6h0M800.4 308.7h0M803.7 309.0h0M807.8 308.4h0M810.8 308.6h0M814.1 308.9h0M817.2 308.6h0M819.8 309.3h0M823.3 309.0h0M830.0 308.8h0M726.2 311.3h0M729.9 311.6h0M733.1 311.0h0M736.7 311.6h0M739.7 311.5h0M743.2 311.3h0M746.2 311.3h0M749.9 311.9h0M752.7 312.2h0M755.9 311.4h0M759.5 311.2h0M762.6 311.2h0M765.8 311.5h0M769.6 311.2h0M772.0 311.1h0M775.4 311.4h0M779.4 311.7h0M782.1 312.0h0M785.4 311.4h0M789.1 311.2h0M792.6 311.2h0M795.6 311.2h0M798.7 311.4h0M802.1 311.4h0M805.7 311.1h0M808.8 311.0h0M812.4 311.4h0M815.7 311.3h0M818.7 311.4h0M821.9 311.2h0M825.7 311.5h0M728.0 314.2h0M731.6 314.2h0M734.4 314.5h0M737.9 313.8h0M741.1 314.4h0M744.9 313.7h0M747.8 314.2h0M751.0 314.0h0M754.6 314.4h0M757.4 314.1h0M761.7 313.9h0M763.8 314.2h0M767.9 314.4h0M770.8 314.5h0M774.1 314.4h0M777.9 314.0h0M780.8 313.9h0M783.6 314.0h0M787.7 315.0h0M791.3 314.2h0M794.3 314.4h0M797.8 314.4h0M800.6 314.5h0M804.3 314.1h0M807.4 314.1h0M811.1 314.1h0M813.8 314.6h0M817.4 314.2h0M820.5 314.0h0M822.8 313.7h0M729.3 317.3h0M732.9 316.9h0M735.8 316.9h0M739.2 317.9h0M743.1 317.6h0M746.2 317.3h0M749.5 317.5h0M752.9 317.1h0M755.9 316.7h0M759.0 317.5h0M762.5 317.6h0M765.4 317.3h0M769.7 316.7h0M772.1 317.2h0M776.0 317.3h0M779.0 317.4h0M782.7 316.5h0M785.4 317.1h0M788.9 317.0h0M792.5 316.7h0M795.6 317.7h0M799.2 317.2h0M802.2 317.5h0M805.8 317.4h0M808.6 317.1h0M727.9 320.3h0M731.2 320.1h0M734.8 320.2h0M737.7 320.4h0M740.8 320.2h0M744.2 319.9h0M748.0 320.0h0M751.6 319.7h0M754.0 319.7h0M758.1 319.8h0M761.5 319.9h0M763.9 319.7h0M767.7 319.9h0M770.5 320.2h0M774.5 319.8h0M777.4 320.3h0M780.9 320.0h0M784.2 320.5h0M787.7 320.2h0M790.2 320.0h0M793.8 319.9h0M797.8 320.1h0M800.4 320.3h0M813.6 319.9h0M726.4 322.8h0M730.0 322.9h0M733.3 323.5h0M736.3 322.6h0M739.7 323.4h0M743.5 323.4h0M746.5 323.2h0M749.3 322.3h0M752.9 322.8h0M756.0 322.6h0M759.7 322.5h0M762.5 323.3h0M765.9 322.8h0M769.4 322.8h0M772.8 323.3h0M776.0 323.1h0M779.2 322.8h0M782.2 323.4h0M786.0 322.4h0M789.3 323.0h0M792.8 323.1h0M795.8 322.9h0M728.4 326.1h0M731.5 325.0h0M735.0 325.9h0M738.2 326.1h0M742.1 325.5h0M744.7 326.6h0M747.7 326.1h0M751.4 325.9h0M754.0 325.8h0M757.6 325.5h0M760.8 325.6h0M764.5 325.3h0M767.6 325.7h0M770.6 325.6h0M774.2 325.6h0M777.0 325.8h0M780.7 325.8h0M783.6 326.1h0M787.1 325.9h0M793.9 326.3h0M732.9 329.0h0M736.6 328.7h0M739.8 329.0h0M742.5 328.8h0M746.2 328.5h0M749.5 328.5h0M752.7 328.8h0M756.0 328.2h0M759.4 328.8h0M762.7 328.0h0M765.5 328.9h0M769.3 328.6h0M772.3 328.8h0M776.2 328.6h0M779.2 328.8h0M782.6 328.7h0M786.2 328.1h0M731.6 332.0h0M734.3 331.2h0M737.9 331.8h0M741.4 331.0h0M744.2 331.6h0M748.4 331.2h0M751.0 331.2h0M754.4 331.9h0M757.6 330.8h0M760.8 331.1h0M764.5 331.7h0M767.5 331.4h0M771.4 331.8h0M774.3 331.0h0M777.6 331.6h0M783.4 331.8h0M739.4 335.0h0M743.0 334.1h0M745.9 334.8h0M750.0 334.4h0M752.6 334.1h0M756.1 334.9h0M759.2 334.7h0M762.9 334.1h0M766.1 334.7h0M769.4 334.4h0M772.4 335.4h0M776.4 334.9h0M779.2 334.7h0M737.9 336.9h0M747.8 337.2h0M754.6 336.9h0M764.6 336.7h0M771.2 337.2h0M774.7 336.9h0M856.9 297.8h0M839.9 302.4h0M843.1 302.9h0M846.8 302.8h0M849.3 303.3h0M853.6 302.3h0M856.8 302.6h0M860.8 303.0h0M867.0 302.7h0M838.1 306.2h0M841.6 305.8h0M845.7 306.0h0M848.7 305.3h0M851.3 305.8h0M855.2 306.0h0M858.5 305.8h0M861.6 305.7h0M865.0 305.4h0M868.1 305.8h0M833.5 308.4h0M836.8 308.7h0M840.0 308.6h0M843.2 308.9h0M846.6 308.8h0M850.0 308.3h0M853.3 308.7h0M856.9 308.9h0M860.0 308.8h0M863.1 308.0h0M867.0 308.6h0M870.1 308.1h0M873.3 308.7h0M876.9 308.3h0M828.6 311.5h0M831.9 312.0h0M835.7 311.4h0M838.3 312.0h0M841.4 311.5h0M845.4 311.7h0M848.1 311.4h0M851.5 311.4h0M854.8 311.5h0M858.2 311.5h0M861.4 311.3h0M864.7 311.8h0M868.2 311.6h0M871.3 311.6h0M874.7 311.6h0M829.7 314.1h0M833.5 313.7h0M836.9 314.4h0M840.4 314.3h0M843.4 314.7h0M846.7 314.0h0M850.1 314.1h0M853.6 314.3h0M857.3 314.6h0M859.9 314.2h0M863.1 314.5h0M866.6 314.5h0M869.8 314.4h0M873.3 314.0h0M877.1 314.3h0M879.8 314.4h0M882.8 314.7h0M831.9 316.8h0M835.1 317.2h0M839.0 317.1h0M841.7 317.3h0M845.6 317.0h0M848.6 317.4h0M851.5 316.8h0M855.2 316.8h0M857.8 316.9h0M861.8 317.3h0M864.6 317.5h0M868.1 317.3h0M871.2 317.4h0M875.5 317.0h0M877.8 317.1h0M826.9 319.3h0M830.4 319.7h0M833.6 320.4h0M837.1 320.5h0M840.5 320.1h0M843.2 319.9h0M847.1 319.9h0M850.2 319.8h0M853.9 320.1h0M856.5 320.5h0M859.9 320.2h0M864.1 320.5h0M866.4 319.7h0M870.0 320.1h0M873.1 320.3h0M876.6 320.1h0M879.4 319.7h0M829.1 323.3h0M831.8 322.8h0M835.4 322.7h0M838.9 323.1h0M841.4 322.5h0M845.5 322.6h0M848.5 322.9h0M851.8 322.8h0M855.2 323.4h0M858.4 323.0h0M861.7 323.0h0M865.0 323.2h0M868.1 322.5h0M872.1 322.9h0M875.1 323.1h0M878.5 322.5h0M830.8 325.9h0M834.0 325.9h0M836.8 325.5h0M840.4 325.8h0M843.6 325.7h0M847.0 325.5h0M850.3 325.7h0M853.4 325.8h0M856.1 325.8h0M860.8 325.4h0M863.7 325.6h0M867.0 325.6h0M869.8 325.4h0M873.6 325.9h0M875.8 325.7h0M831.5 328.6h0M835.5 328.6h0M838.1 328.3h0M842.0 328.9h0M845.0 328.4h0M848.5 328.6h0M851.7 328.8h0M855.1 328.3h0M858.1 328.6h0M861.2 328.7h0M864.8 329.4h0M868.2 328.4h0M871.6 328.9h0M875.0 328.3h0M878.2 328.4h0M837.0 331.3h0M840.3 331.1h0M843.6 331.1h0M847.1 332.1h0M850.2 331.4h0M853.4 331.4h0M856.9 331.7h0M860.4 331.7h0M863.6 331.5h0M866.2 331.4h0M869.9 331.4h0M872.7 331.1h0M838.0 334.1h0M842.1 335.4h0M845.4 334.1h0M848.6 334.4h0M851.5 334.7h0M855.1 334.4h0M858.0 334.0h0M861.6 334.0h0M864.8 334.0h0M868.4 334.2h0M874.2 334.3h0M840.4 337.4h0M843.7 337.4h0M847.5 337.6h0M849.9 336.9h0M853.7 337.3h0M856.9 336.8h0M859.4 336.7h0M854.8 339.6h0M858.1 340.0h0M1055.9 128.8h0M1054.8 131.1h0M1046.7 134.3h0M1055.6 134.1h0M1060.0 133.8h0M1065.9 134.1h0M1034.5 137.2h0M1041.6 137.5h0M1045.5 137.3h0M1048.5 137.2h0M1051.6 137.3h0M1055.1 137.0h0M1058.2 137.3h0M1061.3 137.0h0M1064.9 137.1h0M1036.5 139.6h0M1040.5 139.9h0M1043.1 140.2h0M1046.4 139.8h0M1049.8 140.3h0M1053.4 139.6h0M1055.9 140.1h0M1059.6 139.9h0M1032.0 142.6h0M1034.9 142.9h0M1038.0 143.1h0M1041.4 142.7h0M1045.1 142.7h0M1048.3 143.2h0M1051.7 143.3h0M1054.6 143.3h0M1057.9 142.4h0M1061.3 143.5h0M1033.4 145.7h0M1036.4 145.7h0M1040.1 145.4h0M1043.0 145.3h0M1046.4 145.7h0M1049.6 145.4h0M1052.8 145.9h0M1056.2 145.9h0M1059.5 145.5h0M1063.2 145.5h0M1031.9 148.4h0M1035.2 148.0h0M1038.7 149.1h0M1042.3 148.4h0M1044.7 148.3h0M1047.8 147.9h0M1051.7 148.6h0M1054.8 148.1h0M1058.1 149.2h0M1061.4 148.9h0M1064.3 149.0h0M1068.0 148.7h0M1023.3 152.1h0M1026.8 151.8h0M1029.9 151.8h0M1033.1 151.1h0M1035.9 151.5h0M1039.8 151.5h0M1042.9 151.5h0M1046.5 151.1h0M1050.4 152.1h0M1053.2 151.6h0M1056.6 151.7h0M1059.5 151.6h0M1063.6 151.4h0M1066.2 151.2h0M1069.5 150.8h0M1072.9 151.8h0M1028.5 154.3h0M1031.7 154.8h0M1035.0 154.5h0M1038.1 154.3h0M1041.4 154.1h0M1044.6 154.2h0M1047.8 154.5h0M1051.7 154.1h0M1054.9 154.1h0M1058.2 154.5h0M1060.9 153.6h0M1064.8 154.5h0M1068.0 154.2h0M1071.0 153.5h0M1075.0 153.6h0M1026.5 157.5h0M1029.8 157.1h0M1033.0 157.7h0M1037.1 156.8h0M1039.4 157.3h0M1043.3 157.2h0M1046.5 157.1h0M1050.1 157.4h0M1053.5 157.4h0M1056.2 157.0h0M1059.6 157.2h0M1062.8 156.9h0M1066.2 157.0h0M1069.6 157.6h0M1073.3 157.0h0M1076.2 157.1h0M1025.1 159.9h0M1028.4 159.7h0M1031.7 159.7h0M1035.1 160.0h0M1038.4 160.4h0M1041.7 160.1h0M1045.1 159.9h0M1048.2 160.2h0M1051.1 159.9h0M1055.4 160.1h0M1058.2 160.2h0M1061.3 159.9h0M1064.6 160.4h0M1068.5 159.9h0M1071.3 160.2h0M1023.4 162.7h0M1026.4 163.1h0M1030.2 163.3h0M1033.1 162.6h0M1037.4 163.1h0M1040.1 162.6h0M1043.0 163.1h0M1045.6 162.5h0M1049.9 162.3h0M1053.3 162.8h0M1055.9 162.8h0M1059.7 162.8h0M1063.1 162.4h0M1066.1 163.0h0M1069.6 162.9h0M1073.7 162.7h0M1076.0 163.0h0M1018.5 166.0h0M1021.4 165.6h0M1024.5 166.5h0M1028.0 165.4h0M1031.7 165.6h0M1035.2 165.5h0M1038.3 165.8h0M1041.7 166.3h0M1044.8 165.5h0M1048.3 165.5h0M1051.7 165.8h0M1054.8 165.3h0M1057.6 165.5h0M1061.3 165.1h0M1064.5 165.8h0M1067.7 166.0h0M1071.3 166.2h0M1074.3 165.9h0M1077.0 165.5h0M1020.1 168.7h0M1023.4 168.9h0M1026.7 168.5h0M1030.2 168.6h0M1033.4 168.4h0M1036.6 168.9h0M1040.2 168.3h0M1043.2 168.3h0M1046.7 168.3h0M1049.2 168.2h0M1052.7 169.3h0M1056.2 168.8h0M1059.5 168.7h0M1063.3 168.9h0M1066.7 168.9h0M1069.5 168.7h0M1072.9 168.4h0M1079.1 168.4h0M1022.1 171.6h0M1024.9 171.8h0M1028.4 171.3h0M1031.0 171.6h0M1035.2 171.8h0M1038.0 171.5h0M1041.1 171.6h0M1045.0 171.3h0M1048.4 171.8h0M1051.8 171.3h0M1054.8 171.8h0M1058.1 171.4h0M1061.3 171.8h0M1064.7 171.0h0M1068.2 172.4h0M1071.5 171.9h0M1074.7 171.5h0M1023.5 174.7h0M1027.1 174.8h0M1030.4 174.7h0M1033.1 174.3h0M1036.5 174.2h0M1039.2 174.6h0M1042.9 174.2h0M1046.3 174.9h0M1050.0 174.8h0M1053.2 174.6h0M1056.7 174.3h0M1059.8 173.8h0M1062.7 174.4h0M1065.6 174.4h0M1069.7 174.2h0M1073.2 174.5h0M1076.6 174.4h0M1021.7 176.8h0M1028.7 177.0h0M1030.9 177.4h0M1035.1 177.5h0M1038.3 177.4h0M1041.8 177.0h0M1044.2 177.4h0M1048.2 177.1h0M1051.1 177.7h0M1054.8 177.2h0M1057.8 177.0h0M1061.4 176.8h0M1065.0 177.0h0M1068.3 177.2h0M1071.0 177.8h0M1074.5 177.0h0M1029.8 179.8h0M1033.7 179.9h0M1036.0 179.6h0M1039.7 179.9h0M1043.6 180.3h0M1046.5 180.1h0M1049.7 179.5h0M1053.1 180.0h0M1056.7 180.1h0M1060.0 179.9h0M1062.9 179.9h0M1066.1 180.3h0M1069.6 179.7h0M1072.7 180.6h0M1032.0 182.8h0M1035.0 182.7h0M1038.2 182.6h0M1041.6 182.3h0M1045.2 182.9h0M1048.3 182.8h0M1051.6 182.7h0M1054.5 182.7h0M1057.6 183.1h0M1061.2 182.8h0M1064.4 183.0h0M1068.2 182.8h0M1071.5 183.0h0M1074.6 182.4h0M1036.6 186.3h0M1043.0 185.1h0M1046.7 185.5h0M1050.0 185.8h0M1053.2 185.2h0M1056.3 185.6h0M1059.8 185.4h0M1062.6 186.0h0M1065.8 185.8h0M1035.1 188.5h0M1038.1 188.2h0M1042.1 188.8h0M1045.2 188.7h0M1048.5 188.5h0M1051.9 188.6h0M1043.2 191.7h0M1109.0 123.3h0M1115.7 123.0h0M1098.2 125.3h0M1101.2 126.2h0M1104.6 125.8h0M1107.5 125.6h0M1110.5 125.6h0M1113.8 125.7h0M1117.4 125.6h0M1127.4 125.9h0M1167.0 125.7h0M1099.4 128.0h0M1102.5 128.3h0M1106.2 127.6h0M1109.4 128.6h0M1112.4 128.7h0M1116.3 128.0h0M1119.0 128.6h0M1122.4 128.5h0M1125.8 128.6h0M1128.9 128.0h0M1132.5 129.0h0M1136.0 128.7h0M1139.3 128.2h0M1142.5 128.7h0M1145.5 129.0h0M1159.3 128.4h0M1162.1 129.1h0M1165.0 128.5h0M1168.2 129.1h0M1171.7 128.5h0M1098.1 131.7h0M1101.0 131.9h0M1104.2 130.8h0M1107.5 131.6h0M1111.0 131.6h0M1114.4 130.7h0M1118.1 131.6h0M1120.8 130.9h0M1124.3 131.1h0M1126.8 131.6h0M1130.8 131.4h0M1133.7 131.6h0M1137.3 131.5h0M1140.7 131.0h0M1144.0 131.1h0M1147.3 131.3h0M1150.3 131.9h0M1153.8 131.5h0M1157.3 132.1h0M1159.5 131.6h0M1163.6 131.8h0M1166.9 131.4h0M1170.4 131.4h0M1099.8 134.6h0M1102.5 134.5h0M1105.8 134.6h0M1109.0 134.8h0M1112.6 134.1h0M1115.3 134.6h0M1119.2 134.0h0M1122.1 134.1h0M1125.6 134.2h0M1129.0 134.3h0M1132.1 134.9h0M1135.5 134.1h0M1139.0 134.0h0M1142.3 134.3h0M1145.8 134.0h0M1148.2 134.6h0M1152.0 134.8h0M1155.6 134.1h0M1158.8 133.9h0M1161.7 134.3h0M1165.3 133.8h0M1097.4 137.6h0M1100.5 137.3h0M1104.4 136.7h0M1107.7 137.1h0M1110.9 137.1h0M1114.1 136.9h0M1116.9 137.7h0M1120.5 137.1h0M1123.9 137.1h0M1127.1 137.3h0M1130.7 137.0h0M1133.8 137.3h0M1137.0 137.3h0M1141.0 137.5h0M1144.0 136.7h0M1147.4 137.3h0M1150.9 137.0h0M1153.6 137.6h0M1156.8 137.5h0M1160.5 136.5h0M1163.5 137.0h0M1166.6 136.6h0M1170.3 136.9h0M1099.4 140.4h0M1102.6 139.8h0M1105.6 139.9h0M1109.1 139.3h0M1112.0 140.3h0M1116.1 140.3h0M1119.0 139.8h0M1122.4 140.1h0M1125.6 140.4h0M1128.8 139.3h0M1132.5 140.3h0M1135.5 140.3h0M1139.3 139.2h0M1142.3 139.7h0M1145.7 140.1h0M1149.1 139.9h0M1151.9 140.1h0M1156.1 140.2h0M1158.4 140.0h0M1161.9 140.4h0M1165.3 139.9h0M1168.7 139.8h0M1172.1 139.7h0M1097.4 142.8h0M1100.6 142.8h0M1104.7 142.5h0M1107.6 142.7h0M1111.1 142.5h0M1113.8 142.8h0M1118.1 142.6h0M1120.2 142.6h0M1124.3 143.1h0M1127.3 142.9h0M1130.2 143.0h0M1133.9 142.7h0M1137.5 143.2h0M1140.4 142.9h0M1143.3 142.5h0M1147.5 142.5h0M1150.2 143.2h0M1153.0 142.6h0M1157.3 142.7h0M1160.1 142.5h0M1163.7 142.6h0M1167.0 142.8h0M1170.2 143.2h0M1099.5 146.1h0M1102.3 145.3h0M1106.1 145.4h0M1109.1 146.3h0M1112.3 145.8h0M1115.8 145.7h0M1119.2 145.9h0M1122.4 146.2h0M1126.0 145.4h0M1129.4 145.7h0M1132.2 145.5h0M1135.8 145.7h0M1138.6 145.5h0M1142.5 145.6h0M1145.4 146.5h0M1148.9 145.9h0M1152.1 145.7h0M1155.1 145.9h0M1158.8 145.5h0M1162.0 146.2h0M1165.4 145.7h0M1168.4 145.5h0M1172.0 146.0h0M1098.0 148.9h0M1100.5 148.5h0M1104.7 148.8h0M1107.6 148.8h0M1110.6 148.3h0M1114.2 148.7h0M1118.0 148.6h0M1120.9 149.1h0M1123.9 148.6h0M1127.4 148.7h0M1130.8 148.9h0M1133.6 148.3h0M1137.3 148.2h0M1141.1 148.4h0M1143.7 148.8h0M1147.3 148.8h0M1150.5 148.2h0M1153.7 148.4h0M1156.6 148.5h0M1160.7 148.4h0M1163.5 148.4h0M1167.2 148.0h0M1170.4 148.7h0M1096.0 151.3h0M1099.6 151.4h0M1101.9 151.6h0M1105.9 151.5h0M1109.1 151.6h0M1113.0 151.8h0M1115.9 151.5h0M1118.9 152.0h0M1121.8 151.2h0M1125.7 151.5h0M1129.1 151.4h0M1132.9 151.9h0M1135.1 151.2h0M1138.5 151.9h0M1142.1 151.0h0M1145.4 151.1h0M1148.8 151.7h0M1151.8 151.6h0M1155.5 151.3h0M1158.9 151.3h0M1162.2 151.4h0M1165.2 151.9h0M1168.9 151.4h0M1097.8 153.9h0M1100.8 154.2h0M1104.7 154.1h0M1107.5 154.6h0M1110.9 154.5h0M1113.8 154.6h0M1117.4 154.4h0M1120.9 153.7h0M1124.4 154.1h0M1127.7 154.2h0M1130.7 153.8h0M1133.6 154.6h0M1137.0 154.3h0M1140.5 153.9h0M1143.7 154.2h0M1147.3 154.1h0M1150.2 154.7h0M1154.1 154.3h0M1156.7 154.4h0M1160.2 154.7h0M1163.6 154.1h0M1166.8 154.0h0M1170.2 153.9h0M1099.7 156.8h0M1103.2 156.6h0M1106.1 157.0h0M1109.2 157.1h0M1112.5 157.4h0M1115.7 157.2h0M1119.4 157.1h0M1121.7 157.0h0M1125.5 156.9h0M1129.1 157.2h0M1132.0 157.0h0M1135.1 157.0h0M1139.4 156.6h0M1142.7 157.1h0M1145.4 157.0h0M1148.4 157.3h0M1152.0 156.9h0M1155.3 157.6h0M1158.5 157.1h0M1162.4 156.8h0M1165.5 157.8h0M1168.6 156.6h0M1172.1 157.0h0M1094.2 159.6h0M1097.8 160.5h0M1101.2 159.9h0M1103.7 160.1h0M1107.4 159.9h0M1110.9 160.8h0M1114.1 159.8h0M1117.1 160.3h0M1120.5 159.5h0M1123.9 160.1h0M1127.0 160.0h0M1130.2 160.4h0M1133.6 160.0h0M1137.0 159.9h0M1140.7 159.9h0M1143.8 160.4h0M1147.9 160.3h0M1150.5 160.1h0M1153.4 159.7h0M1156.7 160.2h0M1160.3 159.9h0M1164.4 160.0h0M1167.2 160.2h0M1096.2 162.5h0M1099.6 162.9h0M1102.7 162.6h0M1106.0 163.1h0M1109.3 163.0h0M1112.6 162.8h0M1116.0 162.8h0M1119.1 163.0h0M1122.7 163.4h0M1126.1 162.9h0M1128.8 163.0h0M1132.0 162.6h0M1135.0 163.3h0M1139.3 162.6h0M1142.3 163.0h0M1146.0 163.3h0M1148.6 163.0h0M1151.6 162.9h0M1155.4 162.8h0M1158.4 162.8h0M1162.7 162.7h0M1165.3 163.2h0M1168.9 162.8h0M1094.3 165.3h0M1097.7 165.6h0M1100.7 166.1h0M1104.2 165.4h0M1107.7 165.7h0M1110.9 165.7h0M1114.2 165.8h0M1117.2 166.4h0M1120.8 165.0h0M1124.3 165.3h0M1127.5 166.2h0M1130.5 165.7h0M1134.3 165.9h0M1137.4 165.7h0M1140.5 165.1h0M1143.7 165.7h0M1147.3 165.9h0M1150.0 165.5h0M1153.1 165.7h0M1157.5 165.8h0M1160.1 165.7h0M1163.6 165.3h0M1166.6 165.6h0M1170.5 165.5h0M1095.7 169.0h0M1099.5 168.2h0M1102.5 168.7h0M1105.6 168.3h0M1109.6 169.4h0M1113.0 168.8h0M1115.8 168.3h0M1119.3 168.4h0M1122.4 168.6h0M1126.0 168.8h0M1128.4 168.4h0M1132.6 169.0h0M1135.8 168.9h0M1138.6 168.6h0M1142.2 168.9h0M1145.5 168.4h0M1149.1 168.6h0M1152.3 168.1h0M1155.4 168.8h0M1159.1 168.6h0M1161.5 168.2h0M1165.6 168.9h0M1097.9 171.0h0M1101.3 171.7h0M1104.1 170.9h0M1107.3 171.5h0M1111.4 171.2h0M1114.3 171.7h0M1117.7 171.3h0M1121.0 171.1h0M1123.5 171.5h0M1127.1 170.8h0M1131.1 171.7h0M1134.2 171.2h0M1137.1 171.0h0M1140.6 171.4h0M1143.9 171.9h0M1147.0 171.4h0M1150.1 172.0h0M1154.2 170.8h0M1156.4 172.0h0M1161.0 171.7h0M1164.1 171.1h0M1167.0 171.8h0M1102.2 174.4h0M1105.6 174.5h0M1109.3 174.7h0M1112.7 174.7h0M1115.5 174.8h0M1119.0 174.6h0M1122.4 174.7h0M1125.9 174.4h0M1129.2 174.3h0M1132.3 174.8h0M1135.8 174.4h0M1138.8 174.7h0M1142.0 174.3h0M1145.2 174.2h0M1148.8 174.5h0M1152.1 174.6h0M1154.9 175.0h0M1158.9 174.5h0M1161.8 174.6h0M1104.3 177.7h0M1107.6 177.3h0M1110.7 177.3h0M1114.3 177.0h0M1116.9 177.1h0M1121.1 177.0h0M1123.9 177.5h0M1127.3 176.6h0M1131.1 177.2h0M1133.8 177.1h0M1137.4 177.0h0M1141.1 177.3h0M1144.0 177.3h0M1147.0 177.2h0M1151.0 177.0h0M1153.7 177.3h0M1156.8 177.4h0M1163.4 177.1h0M1105.6 179.4h0M1109.0 179.7h0M1112.2 180.4h0M1116.0 180.3h0M1119.0 179.7h0M1122.1 180.5h0M1124.9 179.9h0M1129.0 179.6h0M1132.6 179.8h0M1135.6 180.5h0M1139.1 180.0h0M1142.2 180.4h0M1146.0 180.2h0M1148.3 179.9h0M1152.4 179.8h0M1107.6 183.1h0M1110.7 182.7h0M1114.3 182.4h0M1117.5 183.1h0M1120.9 182.9h0M1123.9 182.8h0M1127.8 183.0h0M1130.7 182.6h0M1134.1 183.1h0M1136.6 183.4h0M1140.8 182.8h0M1143.3 183.6h0M1147.4 182.7h0M1150.0 183.2h0M1153.2 182.9h0M1157.0 182.5h0M1105.1 186.1h0M1109.7 184.6h0M1112.5 185.6h0M1115.7 185.2h0M1119.0 185.1h0M1122.5 186.0h0M1126.0 185.2h0M1128.6 185.5h0M1132.7 185.6h0M1136.0 185.8h0M1139.1 185.3h0M1141.6 185.5h0M1145.1 185.2h0M1148.9 186.2h0M1151.8 185.7h0M1107.5 187.8h0M1111.0 188.6h0M1114.5 188.2h0M1117.4 188.9h0M1120.3 188.6h0M1123.4 189.2h0M1127.1 188.6h0M1130.8 188.1h0M1133.8 188.1h0M1137.4 189.1h0M1139.9 188.6h0M1143.4 188.7h0M1147.3 188.9h0M1150.6 188.1h0M1109.2 191.2h0M1112.6 191.9h0M1115.5 191.7h0M1119.1 191.5h0M1122.3 191.5h0M1125.9 191.0h0M1128.8 191.3h0M1132.1 191.0h0M1135.4 191.1h0M1139.0 191.5h0M1142.3 191.6h0M1145.4 191.2h0M1149.0 191.3h0M1117.0 194.5h0M1120.9 194.2h0M1124.3 194.3h0M1127.9 194.2h0M1131.1 194.7h0M1134.1 194.1h0M1137.2 193.9h0M1140.3 194.1h0M1147.3 194.2h0M1122.7 196.9h0M1125.4 197.3h0M1128.9 197.3h0M1132.7 196.9h0M1135.8 196.9h0M1138.9 197.2h0M1141.9 196.5h0M1130.4 200.5h0M1133.9 200.5h0M1137.3 199.6h0M1140.6 199.5h0M1005.4 222.8h0M1003.5 225.8h0M1001.9 228.5h0M1005.6 228.6h0M1008.6 228.7h0M1000.6 231.5h0M1003.7 231.4h0M1007.2 232.0h0M998.6 234.4h0M1001.8 234.1h0M1004.9 234.3h0M1003.1 237.3h0M1006.7 237.3h0M998.8 240.3h0M1004.5 239.5h0M1046.8 214.0h0M1021.6 217.1h0M1028.5 217.7h0M1031.9 217.2h0M1035.6 217.2h0M1039.0 217.2h0M1041.0 217.6h0M1044.8 217.1h0M1048.1 217.2h0M1019.9 219.6h0M1023.7 219.9h0M1027.1 220.4h0M1029.8 220.4h0M1033.5 220.0h0M1037.0 220.2h0M1040.0 219.7h0M1043.6 220.0h0M1046.9 220.0h0M1015.4 222.9h0M1018.6 223.4h0M1022.0 223.0h0M1025.1 223.1h0M1028.5 222.9h0M1032.0 222.9h0M1035.2 222.8h0M1038.6 223.0h0M1041.4 222.7h0M1019.9 225.8h0M1023.7 225.3h0M1026.2 225.7h0M1029.8 225.5h0M1033.2 225.3h0M1037.1 225.8h0M1040.1 225.6h0M1025.2 228.7h0M1028.5 228.8h0M1032.0 228.0h0M1035.5 228.7h0M1038.4 228.5h0M1027.0 231.4h0M1074.3 222.7h0M1077.6 223.2h0M1081.1 222.9h0M1087.8 222.7h0M1090.8 223.1h0M1094.5 222.9h0M1097.9 223.1h0M1076.3 225.4h0M1079.6 225.5h0M1083.2 226.2h0M1085.7 225.1h0M1092.7 225.6h0M1096.4 225.8h0M1074.8 228.5h0M1078.0 228.4h0M1080.9 228.6h0M1084.7 228.0h0M1087.5 228.4h0M1091.2 228.5h0M1094.5 229.0h0M1097.8 228.7h0M1104.2 229.1h0M1107.3 228.6h0M1066.8 231.7h0M1072.7 231.3h0M1076.5 231.3h0M1079.8 231.8h0M1082.8 231.4h0M1085.9 231.5h0M1089.4 231.5h0M1092.6 231.5h0M1096.5 231.5h0M1099.1 231.2h0M1102.8 231.4h0M1106.0 231.5h0M1064.3 234.7h0M1067.6 234.7h0M1071.6 234.9h0M1074.5 233.9h0M1078.0 234.6h0M1081.3 234.4h0M1085.0 234.7h0M1087.5 234.5h0M1090.7 234.3h0M1093.8 234.1h0M1097.3 233.8h0M1100.9 234.4h0M1104.1 233.9h0M1108.0 234.3h0M1110.7 234.2h0M1114.5 234.0h0M1066.4 237.0h0M1069.3 237.0h0M1072.3 237.3h0M1076.4 236.9h0M1080.0 237.4h0M1083.3 237.4h0M1086.5 237.3h0M1089.1 237.2h0M1092.3 236.9h0M1096.0 236.8h0M1098.9 237.4h0M1102.5 237.1h0M1106.0 236.8h0M1109.2 236.9h0M1112.6 237.3h0M1115.8 237.6h0M1119.1 237.3h0M1061.3 240.0h0M1065.1 239.8h0M1067.5 239.8h0M1071.7 240.0h0M1074.7 240.2h0M1078.4 239.8h0M1081.3 240.1h0M1084.4 240.1h0M1087.2 240.2h0M1090.6 240.3h0M1094.3 239.5h0M1097.5 240.2h0M1100.7 239.4h0M1104.2 240.0h0M1107.5 240.1h0M1111.2 240.3h0M1114.5 240.0h0M1118.0 239.6h0M1120.3 239.7h0M1124.0 240.1h0M1056.1 242.3h0M1059.8 242.4h0M1063.2 243.2h0M1065.7 243.0h0M1069.8 243.1h0M1073.3 243.4h0M1076.3 243.0h0M1079.5 242.8h0M1083.2 243.2h0M1086.2 243.4h0M1089.9 243.3h0M1092.8 243.0h0M1096.6 243.4h0M1099.6 242.8h0M1102.6 243.0h0M1106.0 243.3h0M1109.5 242.4h0M1112.6 243.1h0M1115.5 242.5h0M1119.1 242.9h0M1122.9 243.0h0M1126.1 243.4h0M1055.3 245.5h0M1061.7 246.6h0M1064.6 245.6h0M1067.9 245.5h0M1070.7 245.6h0M1074.2 245.7h0M1077.8 245.6h0M1081.3 245.4h0M1084.8 246.0h0M1088.0 245.6h0M1091.1 246.1h0M1094.5 245.3h0M1097.8 245.6h0M1100.9 245.7h0M1103.8 245.5h0M1107.2 245.5h0M1111.0 246.0h0M1114.3 246.0h0M1117.4 245.7h0M1120.5 246.0h0M1124.0 245.9h0M1127.4 246.3h0M1130.4 245.7h0M1053.1 248.4h0M1060.1 248.6h0M1063.3 248.9h0M1066.3 248.7h0M1069.0 248.6h0M1072.6 248.9h0M1076.2 248.8h0M1079.4 248.4h0M1082.6 249.0h0M1086.3 248.6h0M1089.5 248.4h0M1092.8 248.5h0M1096.7 248.3h0M1099.4 248.3h0M1102.2 248.2h0M1106.4 248.8h0M1109.6 248.9h0M1112.4 248.3h0M1115.6 248.2h0M1119.0 248.5h0M1122.3 249.1h0M1125.3 248.7h0M1128.8 248.5h0M1132.2 249.0h0M1051.6 251.7h0M1055.0 251.3h0M1058.4 251.7h0M1061.2 251.4h0M1064.6 251.2h0M1067.3 251.4h0M1071.3 251.9h0M1074.7 252.0h0M1077.8 251.5h0M1081.2 251.4h0M1084.8 251.2h0M1087.8 251.5h0M1091.0 252.3h0M1094.5 251.4h0M1098.0 251.5h0M1101.1 251.3h0M1103.7 252.1h0M1107.7 251.4h0M1110.5 251.3h0M1114.0 251.4h0M1116.8 251.3h0M1121.2 251.7h0M1124.6 251.6h0M1127.2 251.9h0M1130.5 251.6h0M1053.3 253.9h0M1056.7 254.6h0M1060.2 254.2h0M1063.0 253.9h0M1065.8 254.5h0M1069.6 254.1h0M1073.1 254.7h0M1076.0 254.5h0M1079.5 254.4h0M1083.1 254.2h0M1086.3 253.8h0M1089.5 255.0h0M1093.2 254.6h0M1095.7 254.5h0M1099.3 254.2h0M1102.7 254.4h0M1106.2 254.3h0M1108.6 254.2h0M1112.9 254.3h0M1116.1 254.5h0M1119.1 254.6h0M1122.8 254.7h0M1125.4 254.4h0M1129.1 254.5h0M1131.9 254.1h0M1058.0 256.9h0M1061.4 257.2h0M1064.6 257.0h0M1068.3 257.6h0M1071.5 257.1h0M1074.6 257.5h0M1078.1 257.4h0M1081.4 257.6h0M1084.5 256.8h0M1087.9 257.3h0M1091.6 257.2h0M1094.4 257.3h0M1097.4 256.9h0M1100.6 256.8h0M1104.5 257.5h0M1106.9 257.2h0M1110.9 257.3h0M1114.5 256.4h0M1117.8 256.9h0M1119.9 257.5h0M1124.1 256.7h0M1126.6 257.1h0M1131.0 257.5h0M1133.7 257.0h0M1053.1 260.1h0M1056.1 260.5h0M1060.4 260.4h0M1063.1 260.5h0M1066.6 260.0h0M1069.6 260.3h0M1073.0 259.9h0M1076.2 260.4h0M1079.5 260.0h0M1082.9 259.4h0M1086.3 260.6h0M1089.4 259.5h0M1092.8 260.0h0M1095.5 259.8h0M1099.5 260.4h0M1102.6 260.0h0M1106.1 259.8h0M1109.1 260.0h0M1112.5 260.0h0M1115.8 260.3h0M1118.9 260.0h0M1122.4 260.0h0M1126.1 260.0h0M1129.5 260.1h0M1131.9 260.0h0M1135.4 260.4h0M1052.0 262.9h0M1054.8 262.4h0M1057.8 263.2h0M1061.2 262.3h0M1064.9 262.4h0M1068.1 263.6h0M1071.7 262.9h0M1074.3 262.6h0M1077.9 262.9h0M1081.6 262.9h0M1084.8 263.1h0M1088.3 262.1h0M1091.1 262.6h0M1094.2 262.3h0M1097.7 262.5h0M1101.3 263.5h0M1104.7 262.4h0M1107.5 263.2h0M1110.4 263.2h0M1114.5 262.6h0M1117.6 263.0h0M1120.8 263.2h0M1124.0 263.1h0M1127.3 262.7h0M1130.3 263.1h0M1046.7 265.7h0M1049.8 265.9h0M1052.4 265.9h0M1056.3 265.7h0M1059.2 265.5h0M1062.9 265.6h0M1066.3 265.5h0M1069.5 265.7h0M1073.4 265.7h0M1075.6 265.3h0M1079.6 266.0h0M1082.6 265.5h0M1086.2 265.2h0M1089.5 265.8h0M1092.8 265.2h0M1096.1 266.0h0M1099.2 265.5h0M1102.3 265.7h0M1106.1 265.8h0M1109.3 266.1h0M1112.3 265.3h0M1115.4 265.7h0M1119.1 265.8h0M1122.8 265.5h0M1125.6 265.2h0M1128.5 265.3h0M1132.1 266.4h0M1047.9 268.4h0M1051.3 268.5h0M1054.3 268.4h0M1058.2 269.0h0M1061.7 269.0h0M1065.2 268.7h0M1068.3 269.0h0M1071.2 268.7h0M1074.9 269.1h0M1077.6 269.1h0M1081.1 268.3h0M1084.2 268.1h0M1087.7 268.6h0M1091.5 268.9h0M1094.8 269.4h0M1098.2 268.5h0M1100.8 268.7h0M1104.2 268.8h0M1107.5 268.5h0M1111.2 268.8h0M1114.6 269.1h0M1117.3 268.9h0M1121.0 268.9h0M1124.3 268.5h0M1127.2 268.3h0M1130.3 268.4h0M1133.5 268.9h0M1046.7 271.2h0M1050.0 271.6h0M1052.9 271.4h0M1056.0 271.9h0M1059.7 271.1h0M1062.5 271.9h0M1065.8 271.4h0M1069.4 271.3h0M1073.0 271.7h0M1076.0 271.3h0M1079.7 271.6h0M1083.1 271.1h0M1086.4 271.8h0M1089.0 271.5h0M1092.8 271.5h0M1096.3 271.9h0M1099.7 271.2h0M1103.1 271.8h0M1105.7 271.2h0M1109.4 271.3h0M1112.3 271.2h0M1116.1 271.4h0M1119.5 271.1h0M1122.2 271.6h0M1126.0 272.1h0M1044.8 273.8h0M1047.9 274.1h0M1051.6 274.0h0M1055.1 274.0h0M1058.0 274.4h0M1061.2 274.0h0M1064.3 274.3h0M1067.7 274.8h0M1071.4 274.2h0M1074.1 274.6h0M1078.4 274.0h0M1080.6 274.5h0M1084.9 274.5h0M1087.4 274.1h0M1091.2 274.0h0M1094.4 274.5h0M1097.9 274.0h0M1100.9 274.5h0M1104.2 274.5h0M1107.4 274.0h0M1110.4 274.2h0M1114.1 274.6h0M1117.5 274.0h0M1120.8 274.8h0M1123.8 274.4h0M1126.8 275.0h0M1130.9 274.7h0M1042.9 277.3h0M1046.3 277.3h0M1050.0 277.4h0M1053.1 277.1h0M1056.8 277.6h0M1059.6 276.7h0M1063.0 277.5h0M1066.3 277.1h0M1069.9 277.6h0M1072.7 276.9h0M1076.1 276.8h0M1079.7 276.8h0M1083.2 277.1h0M1086.0 277.5h0M1089.6 277.3h0M1092.9 277.0h0M1096.6 276.8h0M1099.2 276.9h0M1102.3 277.5h0M1106.3 277.6h0M1109.3 276.7h0M1112.1 276.9h0M1115.6 277.3h0M1119.2 277.2h0M1122.0 277.4h0M1125.7 276.7h0M1041.0 279.9h0M1044.7 279.9h0M1047.9 280.2h0M1051.5 279.9h0M1054.9 280.1h0M1058.4 280.6h0M1061.9 279.9h0M1064.8 280.0h0M1068.1 280.2h0M1071.2 280.0h0M1074.8 279.9h0M1077.7 279.7h0M1080.8 280.3h0M1084.8 280.0h0M1087.5 280.5h0M1091.0 279.8h0M1094.2 280.2h0M1097.7 280.5h0M1101.2 280.1h0M1103.7 279.8h0M1108.0 280.4h0M1111.1 280.3h0M1114.2 280.1h0M1117.2 280.3h0M1120.9 279.7h0M1123.7 280.2h0M1046.7 282.9h0M1049.9 283.0h0M1052.5 283.4h0M1056.1 283.1h0M1059.5 282.7h0M1063.3 282.6h0M1066.1 282.2h0M1069.7 282.7h0M1072.6 283.2h0M1076.1 282.1h0M1079.6 282.6h0M1082.5 282.6h0M1085.6 282.7h0M1089.3 283.1h0M1093.0 282.7h0M1096.5 282.8h0M1099.7 283.0h0M1102.6 282.2h0M1106.2 282.4h0M1109.4 282.4h0M1111.9 282.4h0M1115.4 282.6h0M1119.2 283.0h0M1122.5 283.2h0M1048.3 285.6h0M1051.8 285.8h0M1054.3 285.7h0M1058.2 285.8h0M1060.8 285.9h0M1064.4 285.8h0M1067.3 286.2h0M1071.7 285.7h0M1074.1 285.9h0M1078.4 286.1h0M1081.8 285.3h0M1084.8 285.6h0M1087.6 286.0h0M1091.1 285.4h0M1093.7 285.6h0M1097.4 286.5h0M1100.7 286.2h0M1104.1 286.2h0M1107.8 286.2h0M1111.0 286.0h0M1114.1 285.5h0M1117.9 286.3h0M1047.1 288.9h0M1049.6 288.4h0M1052.8 288.4h0M1056.8 288.1h0M1059.3 288.3h0M1062.5 288.3h0M1066.6 288.5h0M1069.6 288.5h0M1073.0 288.9h0M1076.3 288.6h0M1079.2 288.2h0M1082.8 288.7h0M1086.3 288.7h0M1089.1 288.4h0M1092.8 288.4h0M1095.7 288.1h0M1099.0 288.8h0M1102.7 289.0h0M1106.0 288.7h0M1109.5 289.0h0M1112.4 287.8h0M1115.7 288.3h0M1058.0 291.5h0M1061.6 291.4h0M1065.0 291.4h0M1067.7 290.9h0M1071.4 291.8h0M1074.3 291.5h0M1077.6 291.2h0M1081.6 291.8h0M1083.8 291.7h0M1087.8 292.0h0M1091.1 291.5h0M1094.1 291.4h0M1097.5 291.0h0M1101.2 291.3h0M1104.3 291.7h0M1107.0 291.3h0M1110.6 291.2h0M1069.7 294.0h0M1075.9 294.1h0M1079.7 294.4h0M1082.3 294.4h0M1086.5 294.3h0M1089.6 294.3h0M1092.4 294.1h0M1096.2 294.5h0M1106.2 293.8h0M1109.1 294.1h0M1112.3 294.3h0M1080.7 331.7h0M1087.3 331.5h0M1094.8 331.4h0M1101.3 331.4h0M1120.7 331.2h0M1124.1 332.0h0M1079.2 334.2h0M1083.3 334.4h0M1086.2 334.6h0M1092.7 334.4h0M1098.8 334.1h0M1106.0 334.8h0M1112.3 334.4h0M1116.0 334.6h0M1119.3 334.6h0M1122.5 334.4h0M1125.9 334.3h0M1129.2 334.5h0M1077.9 337.2h0M1081.5 336.5h0M1084.2 337.1h0M1088.0 337.4h0M1091.4 337.4h0M1094.5 337.1h0M1097.4 337.6h0M1100.8 337.1h0M1104.7 337.5h0M1107.4 337.5h0M1111.2 337.1h0M1114.4 337.6h0M1117.2 337.3h0M1120.6 337.2h0M1123.7 337.0h0M1127.6 337.0h0M1079.7 339.7h0M1082.6 340.5h0M1086.1 339.8h0M1089.4 339.9h0M1092.9 339.6h0M1095.8 340.1h0M1099.0 339.7h0M1102.5 340.1h0M1105.9 340.2h0M1109.5 340.7h0M1112.3 340.2h0M1115.6 340.0h0M1119.3 340.7h0M1122.1 340.4h0M1125.4 340.7h0M1129.2 339.8h0M1132.3 340.0h0M1135.7 340.2h0M1138.3 340.2h0M1081.0 343.2h0M1084.7 343.4h0M1087.3 342.7h0M1091.1 343.4h0M1094.6 342.8h0M1097.6 343.1h0M1100.7 343.1h0M1104.3 343.3h0M1107.6 342.7h0M1110.3 342.9h0M1114.9 343.2h0M1117.3 342.6h0M1120.6 342.8h0M1124.0 343.2h0M1127.9 342.8h0M1130.3 343.0h0M1133.7 342.9h0M1136.7 343.2h0M1140.5 343.5h0M1144.0 342.5h0M1079.7 345.7h0M1083.1 345.8h0M1085.7 344.9h0M1089.3 345.7h0M1092.6 346.0h0M1095.8 345.8h0M1099.2 345.9h0M1102.7 345.5h0M1105.7 346.0h0M1109.1 345.3h0M1112.6 345.5h0M1115.4 345.8h0M1119.1 346.1h0M1122.0 345.5h0M1126.0 346.5h0M1129.0 345.7h0M1132.3 345.6h0M1135.4 346.0h0M1139.0 345.4h0M1142.5 345.7h0M1145.1 345.7h0M1149.4 345.7h0M1081.0 348.3h0M1084.2 349.5h0M1087.5 348.3h0M1091.3 348.8h0M1094.2 348.2h0M1097.0 348.5h0M1100.6 348.5h0M1104.7 348.4h0M1107.0 348.2h0M1111.2 348.6h0M1114.4 348.8h0M1118.0 348.6h0M1120.7 347.9h0M1124.2 348.6h0M1127.0 348.5h0M1130.7 348.7h0M1133.9 348.6h0M1137.0 349.1h0M1141.0 348.1h0M1143.9 348.6h0M1146.8 348.4h0M1150.8 348.9h0M1153.7 348.7h0M1075.8 351.7h0M1082.9 351.9h0M1086.0 351.5h0M1088.9 351.4h0M1092.7 351.2h0M1096.1 352.0h0M1099.2 351.3h0M1103.0 351.7h0M1105.8 351.7h0M1109.0 351.0h0M1112.4 351.7h0M1115.9 351.6h0M1118.9 351.2h0M1122.6 351.6h0M1126.3 351.1h0M1129.3 351.7h0M1132.3 350.9h0M1134.9 351.7h0M1139.2 351.7h0M1142.0 351.3h0M1145.5 351.0h0M1148.8 351.5h0M1152.3 351.1h0M1155.7 351.4h0M1081.2 354.3h0M1085.0 353.9h0M1087.5 353.8h0M1090.6 354.6h0M1094.7 354.6h0M1097.6 354.4h0M1101.5 354.8h0M1104.1 354.7h0M1107.5 354.8h0M1111.0 354.3h0M1113.8 354.3h0M1117.5 354.3h0M1120.7 354.1h0M1124.0 354.3h0M1127.7 354.4h0M1130.8 354.1h0M1133.7 354.0h0M1137.0 354.5h0M1141.0 354.2h0M1144.5 354.4h0M1147.4 353.9h0M1150.5 354.5h0M1154.1 354.2h0M1083.1 356.6h0M1086.0 357.0h0M1089.4 357.7h0M1092.6 357.2h0M1096.1 356.9h0M1098.8 357.3h0M1102.7 357.3h0M1105.9 356.9h0M1109.5 357.0h0M1112.9 357.0h0M1115.7 357.1h0M1119.6 357.2h0M1122.8 357.1h0M1126.3 357.4h0M1129.4 357.4h0M1132.1 357.7h0M1135.8 357.8h0M1138.5 356.9h0M1142.5 357.5h0M1144.9 357.1h0M1148.6 357.3h0M1084.2 359.7h0M1088.1 360.2h0M1091.5 360.1h0M1094.3 359.7h0M1097.6 360.2h0M1100.6 360.2h0M1104.1 359.8h0M1107.8 359.8h0M1110.8 360.3h0M1114.6 360.5h0M1117.4 360.4h0M1120.6 360.1h0M1124.5 360.2h0M1127.1 359.9h0M1130.2 359.8h0M1134.6 360.2h0M1137.2 360.0h0M1141.0 360.3h0M1144.0 359.9h0M1147.2 360.4h0M1089.6 362.8h0M1093.0 363.6h0M1095.7 362.6h0M1099.5 362.8h0M1102.7 362.7h0M1106.1 362.6h0M1109.0 362.8h0M1112.5 362.7h0M1115.7 362.7h0M1119.2 362.7h0M1122.5 363.4h0M1125.9 363.1h0M1128.8 362.4h0M1132.2 362.7h0M1135.5 363.1h0M1138.5 362.6h0M1142.1 363.1h0M1145.4 362.2h0M1148.6 363.1h0M1094.4 365.5h0M1097.8 366.2h0M1101.7 365.8h0M1107.6 365.4h0M1110.5 366.4h0M1115.1 365.9h0M1117.4 365.8h0M1121.3 365.4h0M1123.9 365.7h0M1127.9 366.2h0M1130.6 365.7h0M1133.9 365.7h0M1137.3 365.4h0M1140.4 365.5h0M1144.0 365.6h0M1147.2 366.1h0M1109.0 368.2h0M1112.9 368.9h0M1116.0 368.7h0M1119.1 368.5h0M1122.4 368.5h0M1125.6 368.8h0M1128.9 368.4h0M1131.9 368.6h0M1135.0 368.7h0M1139.1 369.4h0M1142.0 368.6h0M1145.4 368.6h0M1111.0 371.3h0M1118.0 372.0h0M1120.9 371.8h0M1123.9 370.8h0M1127.2 371.4h0M1130.7 371.5h0M1134.0 371.4h0M1137.8 371.9h0M1140.8 371.5h0M1116.1 374.4h0M1118.8 374.6h0M1122.7 374.1h0M1125.7 374.5h0M1128.9 374.3h0M1132.4 374.5h0M1135.5 374.4h0M1117.7 377.0h0M1120.6 377.3h0M1123.9 377.6h0M1127.6 376.6h0M1131.1 377.1h0M1134.1 376.7h0M1137.5 377.1h0M1118.7 379.5h0M1122.2 380.3h0M1126.1 379.9h0M1128.9 379.6h0M1124.0 382.9h0M1130.7 382.8h0M1090.8 383.0h0M1089.3 385.8h0M1084.1 388.5h0M1087.6 388.9h0M1091.0 388.4h0M1093.9 388.4h0M1082.4 391.8h0M1086.0 391.6h0M1089.4 391.3h0M1092.9 391.5h0M1095.9 391.5h0M1099.2 391.8h0M1102.4 391.7h0M1078.3 394.1h0M1081.2 394.5h0M1084.8 394.4h0M1087.4 394.5h0M1090.9 394.4h0M1094.8 394.5h0M1097.6 394.8h0M1101.0 394.0h0M1072.5 397.2h0M1076.2 397.6h0M1079.8 397.1h0M1082.9 397.6h0M1086.5 397.3h0M1089.3 397.4h0M1092.1 396.7h0M1095.4 397.3h0M1099.5 397.1h0M1074.7 400.1h0M1077.8 400.3h0M1080.8 399.9h0M1084.2 399.7h0M1087.6 400.5h0M1091.1 400.4h0M1094.1 400.5h0M1097.8 400.2h0M1100.7 399.5h0M1075.4 403.0h0M1079.4 402.7h0M1082.5 403.6h0M1086.6 403.2h0M1089.5 403.0h0M1092.6 403.0h0M1096.3 403.2h0M1099.3 402.7h0M1102.1 403.2h0M1106.0 403.0h0M1077.6 405.4h0M1081.4 405.9h0M1084.8 405.5h0M1087.5 405.4h0M1091.3 405.5h0M1094.7 406.0h0M1097.6 406.0h0M1101.0 405.8h0M1104.5 406.0h0M1080.0 409.0h0M1082.2 408.1h0M1085.9 408.2h0M1089.2 408.8h0M1092.5 408.5h0M1095.7 409.3h0M1099.2 408.6h0M1102.5 408.4h0M1106.3 408.5h0M1087.8 411.4h0M1091.0 411.7h0M1094.7 411.4h0M1097.8 411.8h0M1101.0 411.8h0M1104.8 411.3h0M1089.1 414.1h0M1092.8 414.6h0M1096.2 414.6h0M1099.0 414.3h0M1102.6 414.0h0M1094.3 417.1h0M1100.5 417.6h0M1104.4 417.7h0M1099.4 420.5h0M1101.9 419.6h0M723.2 362.9h0M721.7 366.0h0M724.4 366.0h0M719.6 368.4h0M723.3 368.6h0M730.0 367.9h0M717.8 371.8h0M721.8 371.6h0M724.1 371.2h0M728.3 371.6h0M730.5 371.9h0M723.3 374.5h0M726.5 374.0h0M729.7 374.2h0M733.0 374.5h0M739.7 374.9h0M718.7 376.9h0M721.6 376.9h0M725.3 377.1h0M728.4 377.2h0M731.2 377.7h0M734.5 377.0h0M738.1 377.3h0M741.4 376.8h0M744.9 377.1h0M719.9 379.8h0M723.1 379.5h0M726.8 379.4h0M729.6 380.1h0M733.3 380.2h0M736.4 380.1h0M740.1 379.5h0M743.3 380.1h0M717.8 383.3h0M725.0 382.9h0M728.3 382.9h0M731.8 383.2h0M733.9 383.1h0M738.0 382.4h0M726.8 385.8h0M729.2 385.7h0M733.3 385.6h0M728.0 388.2h0M731.7 388.7h0M809.2 340.6h0M804.4 343.8h0M806.9 342.3h0M810.0 342.9h0M817.2 342.8h0M795.9 346.0h0M802.1 345.8h0M805.3 345.9h0M808.9 346.0h0M812.3 345.5h0M815.3 345.4h0M822.0 346.0h0M800.8 348.6h0M803.8 348.3h0M807.0 348.8h0M810.2 348.8h0M814.0 348.2h0M817.0 349.0h0M820.4 348.6h0M795.6 351.4h0M799.4 351.5h0M802.4 351.5h0M805.5 351.5h0M809.2 351.1h0M812.8 351.5h0M815.4 351.8h0M818.5 351.5h0M794.2 354.5h0M797.3 354.1h0M801.0 354.3h0M804.1 354.2h0M807.2 354.5h0M810.8 354.5h0M813.7 354.8h0M817.3 354.6h0M796.1 357.1h0M799.2 357.3h0M802.3 357.2h0M805.9 356.9h0M809.1 357.5h0M812.3 357.0h0M815.1 356.9h0M818.7 357.4h0M821.4 357.6h0M825.1 357.4h0M828.4 357.0h0M835.8 356.9h0M790.7 360.2h0M797.6 359.6h0M801.0 360.3h0M803.9 360.0h0M807.2 359.8h0M810.6 360.3h0M814.1 360.2h0M816.7 359.8h0M820.8 360.2h0M823.9 360.6h0M826.7 360.4h0M830.6 359.8h0M833.1 359.7h0M792.4 363.0h0M795.8 363.3h0M798.7 363.2h0M802.1 362.7h0M805.3 362.5h0M809.2 363.4h0M812.3 363.6h0M815.1 362.5h0M819.0 363.3h0M821.6 362.7h0M825.4 362.7h0M828.7 362.2h0M831.6 363.2h0M835.5 363.3h0M787.8 366.0h0M794.8 366.1h0M797.0 366.2h0M800.3 365.6h0M803.6 365.5h0M806.7 365.6h0M810.6 366.6h0M813.9 365.9h0M817.3 366.0h0M819.8 365.7h0M824.2 365.0h0M827.0 365.9h0M830.7 365.5h0M833.1 365.9h0M836.9 365.6h0M840.6 365.3h0M843.7 366.2h0M792.6 368.7h0M795.2 368.4h0M799.1 368.5h0M802.1 368.7h0M805.4 368.7h0M808.5 368.6h0M811.6 368.5h0M815.4 368.5h0M818.6 368.4h0M821.6 368.6h0M825.4 368.0h0M828.7 368.1h0M831.9 369.0h0M834.7 369.3h0M804.1 371.0h0M807.4 371.5h0M810.4 371.2h0M814.1 371.2h0M817.0 371.6h0M820.3 371.7h0M823.6 371.7h0M827.2 371.5h0M830.3 372.0h0M833.4 371.1h0M839.9 371.5h0M811.8 374.9h0M825.5 374.0h0M828.2 374.3h0M814.1 376.5h0M815.9 374.7h0M819.2 374.4h0M817.3 377.1h0M820.4 377.4h0M827.1 377.1h0M812.5 379.7h0M815.3 380.4h0M818.9 380.0h0M821.6 380.2h0M825.4 380.1h0M817.7 382.9h0M820.5 382.9h0M823.8 382.7h0M827.2 382.9h0M818.7 386.0h0M814.0 383.0h0M798.6 385.9h0M802.3 385.7h0M805.8 385.4h0M812.1 385.4h0M815.4 385.5h0M822.2 385.6h0M825.2 386.0h0M829.1 386.0h0M797.7 388.7h0M800.6 389.0h0M803.9 388.4h0M806.6 388.3h0M811.1 388.3h0M814.2 388.4h0M817.6 388.7h0M820.3 388.5h0M823.8 388.5h0M827.4 389.0h0M829.6 388.7h0M836.9 388.9h0M798.9 391.7h0M802.4 391.4h0M806.2 391.4h0M809.2 391.3h0M812.0 391.6h0M814.8 391.7h0M819.1 391.7h0M822.0 391.9h0M825.4 391.7h0M829.1 391.3h0M831.9 391.3h0M835.0 392.1h0M797.5 394.4h0M800.5 394.5h0M803.6 394.6h0M807.1 394.0h0M811.0 394.4h0M813.4 394.6h0M817.2 394.6h0M819.9 393.8h0M823.6 394.2h0M827.3 394.5h0M830.7 394.4h0M833.7 394.6h0M837.3 394.6h0M795.3 397.1h0M799.6 397.1h0M801.7 397.2h0M805.8 397.0h0M808.9 397.3h0M812.2 396.9h0M815.8 397.5h0M818.8 397.4h0M822.9 397.4h0M825.3 397.5h0M828.2 397.5h0M831.7 397.0h0M835.0 397.3h0M790.7 400.1h0M793.5 400.5h0M797.5 399.8h0M801.0 399.5h0M804.3 400.2h0M807.1 399.7h0M810.8 400.4h0M813.7 400.2h0M817.7 399.6h0M820.7 399.8h0M824.0 400.4h0M827.0 400.4h0M831.1 399.6h0M834.2 400.1h0M836.8 400.0h0M840.5 400.7h0M792.3 403.1h0M796.2 403.2h0M799.1 403.3h0M802.2 403.5h0M805.9 403.2h0M809.2 403.0h0M812.3 402.5h0M815.4 402.7h0M818.3 403.0h0M821.9 402.8h0M825.9 403.2h0M828.7 403.0h0M831.9 403.0h0M835.5 402.7h0M797.4 405.9h0M800.5 406.0h0M804.2 406.1h0M807.0 405.9h0M810.2 405.7h0M814.2 405.4h0M817.3 405.9h0M820.2 405.8h0M823.6 405.3h0M827.3 405.5h0M830.5 406.0h0M833.6 405.6h0M799.2 408.7h0M801.6 409.2h0M805.4 408.9h0M809.0 408.6h0M811.8 409.0h0M815.3 408.3h0M818.7 408.7h0M822.1 409.0h0M825.1 408.5h0M829.1 408.4h0M831.7 408.5h0M835.3 408.4h0M803.7 411.5h0M807.6 410.9h0M810.4 411.2h0M813.9 410.9h0M817.2 411.9h0M820.0 411.5h0M823.8 411.4h0M827.1 412.0h0M830.7 410.9h0M805.5 413.8h0M812.3 414.3h0M815.5 414.5h0M818.7 414.2h0M821.7 414.1h0M825.3 414.2h0M829.1 414.3h0M816.9 417.4h0M879.6 354.1h0M883.2 353.9h0M890.5 354.4h0M896.3 354.7h0M872.0 357.6h0M874.3 357.0h0M880.9 357.6h0M884.7 357.0h0M895.2 357.1h0M897.3 357.3h0M901.3 356.8h0M904.5 357.5h0M873.5 359.8h0M876.5 360.2h0M879.7 360.1h0M882.5 360.6h0M886.4 360.5h0M889.7 360.3h0M893.2 360.4h0M896.1 360.2h0M899.2 359.8h0M902.6 360.1h0M865.5 362.7h0M868.1 362.4h0M871.9 362.9h0M875.4 362.8h0M878.1 362.5h0M881.8 362.9h0M885.0 362.5h0M887.7 363.0h0M891.2 362.8h0M894.4 362.9h0M897.9 362.9h0M901.0 363.6h0M904.5 363.3h0M908.2 362.7h0M866.2 365.3h0M869.9 365.9h0M872.9 365.8h0M876.4 365.7h0M880.0 365.5h0M883.3 365.6h0M886.1 365.5h0M889.7 365.7h0M892.9 366.0h0M896.3 365.1h0M899.4 365.8h0M903.0 365.5h0M906.5 366.2h0M865.2 368.5h0M868.0 368.6h0M871.6 368.9h0M875.6 368.7h0M878.0 368.5h0M881.9 368.6h0M884.5 368.5h0M888.1 368.6h0M891.5 368.9h0M894.2 368.8h0M898.0 368.4h0M901.6 369.1h0M904.8 368.2h0M863.8 371.7h0M866.6 371.7h0M869.8 371.4h0M872.9 371.4h0M876.3 371.7h0M879.6 371.5h0M883.0 371.5h0M886.3 371.0h0M890.0 371.6h0M893.3 371.7h0M896.7 371.8h0M899.7 372.0h0M902.9 371.1h0M864.9 373.9h0M868.3 374.4h0M871.5 374.4h0M874.9 374.3h0M878.5 374.1h0M881.0 374.7h0M885.1 375.0h0M888.0 374.1h0M891.6 374.5h0M895.1 374.6h0M897.9 373.5h0M901.2 374.8h0M904.5 374.4h0M860.6 376.3h0M863.3 377.1h0M866.7 377.1h0M870.4 377.0h0M873.5 377.3h0M876.6 377.4h0M879.4 377.7h0M883.0 377.4h0M886.6 377.5h0M889.8 377.1h0M892.6 376.7h0M896.4 377.2h0M900.1 376.6h0M903.0 376.9h0M864.5 380.1h0M868.2 380.0h0M871.0 380.0h0M875.0 379.9h0M878.1 380.5h0M881.0 380.4h0M884.6 380.0h0M888.4 380.1h0M891.3 380.9h0M895.2 380.2h0M898.2 379.8h0M901.3 380.3h0M863.2 382.8h0M867.1 383.2h0M870.2 383.1h0M873.6 382.3h0M876.6 382.6h0M879.9 383.2h0M882.9 382.6h0M886.1 383.7h0M889.4 383.1h0M893.6 382.7h0M896.5 382.2h0M864.7 386.5h0M868.5 385.8h0M871.2 385.6h0M874.5 385.5h0M878.3 385.7h0M881.6 385.5h0M885.3 385.5h0M887.9 385.6h0M891.3 386.3h0M866.6 388.4h0M870.5 388.8h0M873.4 388.9h0M876.0 388.5h0M879.7 389.1h0M883.0 388.3h0M886.3 388.7h0M874.5 392.0h0M881.3 391.9h0M888.2 391.2h0M876.1 393.7h0M879.7 393.8h0M754.6 411.8h0M761.4 412.0h0M764.2 411.5h0M767.5 411.5h0M749.2 414.1h0M752.8 414.2h0M755.9 414.0h0M759.4 414.1h0M762.6 414.2h0M766.2 414.4h0M768.9 414.3h0M772.8 414.5h0M775.6 414.2h0M747.9 417.1h0M751.1 417.7h0M754.8 417.0h0M758.0 417.2h0M760.8 417.4h0M764.3 416.9h0M767.9 417.0h0M770.5 417.5h0M774.8 417.3h0M743.1 420.6h0M746.3 419.7h0M749.5 420.3h0M752.6 419.7h0M755.7 420.1h0M759.4 419.8h0M762.2 420.4h0M765.9 420.7h0M769.3 419.9h0M772.3 420.7h0M775.6 420.3h0M779.0 419.3h0M744.4 422.6h0M747.8 422.7h0M751.1 422.8h0M754.3 423.0h0M757.7 423.3h0M761.1 423.7h0M764.0 422.8h0M767.5 422.8h0M771.1 423.2h0M774.3 423.0h0M777.4 422.9h0M736.9 425.7h0M743.1 426.5h0M746.6 426.1h0M749.6 425.9h0M752.7 425.5h0M756.3 425.9h0M758.9 425.7h0M762.3 426.1h0M765.7 425.9h0M769.9 426.6h0M772.6 425.2h0M775.9 426.0h0M779.4 425.9h0M741.3 429.0h0M744.7 428.5h0M748.0 428.8h0M751.2 428.2h0M754.8 428.8h0M757.8 428.9h0M760.9 428.3h0M764.4 428.3h0M767.6 428.6h0M770.7 428.5h0M773.7 429.0h0M777.0 428.7h0M781.1 429.0h0M783.6 428.8h0M739.8 432.1h0M742.5 431.2h0M746.1 432.3h0M749.3 432.1h0M752.7 431.5h0M756.1 431.2h0M759.6 431.5h0M762.3 431.8h0M766.2 431.5h0M769.6 431.7h0M772.3 432.1h0M775.9 431.5h0M779.7 431.7h0M782.4 431.7h0M741.3 434.8h0M744.4 435.1h0M747.8 435.0h0M751.0 433.9h0M754.4 434.7h0M758.1 434.3h0M761.1 434.9h0M764.4 433.8h0M768.0 434.3h0M770.8 434.2h0M774.3 434.1h0M777.1 434.3h0M780.3 434.2h0M742.9 437.0h0M746.7 437.9h0M749.6 437.2h0M752.7 437.8h0M756.5 436.6h0M759.9 437.4h0M762.7 437.3h0M766.2 437.3h0M769.4 437.1h0M772.5 437.1h0M776.0 436.8h0M779.4 436.8h0M782.8 437.2h0M744.6 440.3h0M747.8 440.3h0M750.7 439.8h0M754.1 439.8h0M757.5 440.2h0M760.9 440.0h0M764.2 440.5h0M767.8 439.9h0M771.1 440.2h0M774.1 440.0h0M777.3 440.1h0M780.5 440.1h0M743.0 443.0h0M746.1 442.7h0M749.0 442.9h0M752.9 442.8h0M755.9 442.5h0M759.3 442.8h0M762.9 443.3h0M765.9 442.9h0M769.3 442.9h0M772.2 442.8h0M775.9 442.8h0M778.7 442.7h0M782.5 442.9h0M747.6 446.2h0M751.5 445.9h0M754.5 445.6h0M757.7 446.2h0M760.9 445.8h0M764.3 445.8h0M767.7 445.6h0M770.8 446.1h0M773.9 445.9h0M777.6 446.0h0M749.7 449.1h0M752.6 448.2h0M755.7 448.7h0M759.9 448.9h0M762.8 448.3h0M766.2 448.5h0M769.7 448.5h0M772.7 448.7h0M747.8 451.5h0M751.3 451.6h0M754.0 451.5h0M757.8 451.1h0M761.0 451.4h0M767.8 451.9h0M771.3 451.3h0M774.0 451.5h0M777.4 451.7h0M749.4 454.3h0M759.2 454.4h0M762.6 454.5h0M769.3 454.2h0M842.5 431.5h0M848.8 431.8h0M855.0 431.9h0M837.1 434.3h0M840.2 434.3h0M843.1 435.0h0M847.3 434.2h0M849.9 434.5h0M853.7 434.3h0M856.3 434.5h0M860.1 434.3h0M838.7 437.2h0M841.7 437.2h0M845.5 437.3h0M848.6 437.1h0M851.8 437.3h0M855.1 437.6h0M858.1 437.2h0M861.9 437.2h0M864.9 437.7h0M830.4 440.2h0M833.7 439.9h0M837.1 440.2h0M839.7 440.0h0M843.6 440.6h0M846.3 440.2h0M850.1 439.8h0M853.8 441.0h0M856.6 440.4h0M860.0 440.4h0M863.5 440.0h0M825.6 442.8h0M828.3 442.7h0M831.9 443.6h0M835.3 443.1h0M838.1 443.1h0M841.9 442.9h0M845.1 442.7h0M848.6 442.7h0M851.8 443.0h0M855.4 443.4h0M857.7 442.9h0M861.9 442.9h0M865.3 443.8h0M823.9 445.9h0M827.2 446.1h0M830.8 446.1h0M833.6 445.2h0M837.3 445.7h0M839.9 446.2h0M843.4 445.7h0M846.3 445.8h0M850.2 446.1h0M853.5 445.9h0M857.0 445.6h0M860.0 446.1h0M863.5 445.5h0M826.0 449.1h0M828.8 448.7h0M832.0 449.0h0M835.6 448.8h0M838.6 449.1h0M841.9 448.2h0M845.7 448.6h0M848.8 448.8h0M851.5 448.1h0M854.9 448.8h0M858.1 448.4h0M862.3 449.1h0M865.1 448.2h0M868.8 448.8h0M823.5 451.9h0M827.1 451.7h0M830.8 451.6h0M832.8 451.3h0M837.1 451.7h0M839.4 451.6h0M843.7 451.7h0M847.5 451.9h0M850.3 452.2h0M853.9 451.6h0M856.0 451.4h0M860.1 451.6h0M863.4 451.2h0M867.0 451.8h0M869.7 451.6h0M825.4 454.6h0M829.1 454.3h0M831.6 454.4h0M835.1 453.9h0M838.1 454.1h0M841.6 454.8h0M844.7 454.1h0M848.8 453.5h0M852.0 454.6h0M855.4 454.2h0M858.3 454.9h0M861.8 454.2h0M865.0 454.2h0M868.7 454.3h0M871.7 454.6h0M820.5 457.4h0M824.0 457.3h0M827.2 457.1h0M830.2 457.3h0M833.7 456.9h0M837.1 457.3h0M839.7 456.6h0M843.6 457.1h0M847.2 457.2h0M850.3 457.7h0M853.4 457.1h0M857.4 457.1h0M859.9 456.9h0M863.4 457.3h0M866.4 457.0h0M869.6 457.8h0M873.4 457.5h0M822.0 460.6h0M825.2 459.6h0M828.7 460.1h0M832.7 460.1h0M835.3 459.9h0M838.9 460.1h0M842.2 460.0h0M845.7 460.1h0M848.9 460.2h0M851.5 459.9h0M855.2 459.0h0M858.6 460.2h0M862.0 459.3h0M864.9 460.2h0M867.9 459.6h0M871.2 460.2h0M875.0 460.4h0M878.5 460.3h0M827.4 463.6h0M831.3 463.3h0M833.6 462.4h0M836.6 463.1h0M840.1 462.9h0M844.4 463.4h0M846.7 463.3h0M850.0 462.9h0M853.4 463.1h0M856.6 462.6h0M860.3 463.0h0M863.4 462.9h0M867.0 463.0h0M869.9 463.0h0M872.9 463.0h0M876.8 462.2h0M829.3 465.9h0M832.0 466.1h0M834.7 466.0h0M838.7 465.8h0M842.6 465.8h0M845.5 465.8h0M848.3 466.1h0M852.0 465.5h0M855.1 466.0h0M858.9 465.7h0M861.3 465.6h0M865.0 465.6h0M868.6 465.8h0M871.6 465.4h0M875.1 465.8h0M878.0 465.8h0M881.6 465.4h0M827.3 468.1h0M830.5 469.0h0M833.8 468.5h0M836.9 468.8h0M839.6 468.7h0M842.9 468.2h0M846.7 469.1h0M849.9 468.8h0M853.7 469.0h0M856.7 468.5h0M860.1 468.8h0M863.2 468.9h0M866.4 469.2h0M870.1 468.5h0M873.5 468.3h0M876.6 468.9h0M879.9 468.5h0M883.3 468.5h0M828.5 471.0h0M831.6 471.6h0M835.3 471.4h0M838.4 471.5h0M842.2 472.3h0M845.2 471.5h0M848.5 471.4h0M852.0 471.5h0M855.1 471.1h0M858.3 471.6h0M861.8 471.9h0M864.8 471.7h0M868.5 471.7h0M871.6 472.2h0M878.2 471.5h0M881.4 471.2h0M830.3 474.3h0M833.7 474.6h0M836.3 474.5h0M840.2 474.8h0M844.0 474.5h0M846.9 474.5h0M850.2 474.5h0M853.8 474.4h0M856.4 474.7h0M860.0 474.8h0M863.2 474.3h0M867.1 473.8h0M869.6 474.6h0M835.1 477.0h0M838.3 477.2h0M841.8 477.1h0M845.5 477.4h0M848.7 477.1h0M851.6 477.5h0M855.0 477.6h0M857.5 477.5h0M861.8 477.3h0M868.4 476.9h0M846.3 480.4h0M850.1 480.0h0M974.6 260.4h0M962.2 263.4h0M965.9 263.0h0M968.9 262.9h0M975.1 263.3h0M978.5 263.3h0M981.9 263.0h0M963.9 265.6h0M966.8 265.8h0M970.1 266.1h0M973.6 266.4h0M976.5 266.0h0M980.0 265.7h0M983.6 265.9h0M1010.3 265.7h0M1013.9 265.4h0M1016.9 265.9h0M955.6 268.8h0M959.1 268.6h0M962.3 268.8h0M965.9 268.8h0M969.0 268.1h0M972.4 268.6h0M974.9 268.5h0M978.6 268.6h0M982.2 268.8h0M986.0 268.2h0M989.1 268.3h0M1011.5 269.0h0M1015.5 268.5h0M954.7 271.0h0M956.9 271.3h0M960.9 271.4h0M963.9 271.3h0M967.5 271.8h0M970.6 271.9h0M973.9 271.6h0M977.2 271.4h0M980.5 270.8h0M983.9 272.1h0M987.6 271.7h0M990.6 271.1h0M1010.7 271.4h0M1013.0 271.4h0M1016.9 272.2h0M945.9 274.5h0M949.4 274.2h0M952.6 273.8h0M955.9 274.2h0M959.0 275.0h0M962.3 273.8h0M965.7 274.5h0M968.9 274.3h0M972.4 274.4h0M975.2 274.1h0M978.9 274.4h0M982.2 274.7h0M985.7 274.2h0M988.9 274.6h0M1008.7 274.8h0M1012.0 274.4h0M1015.6 274.1h0M944.0 277.5h0M947.2 277.1h0M950.8 277.3h0M954.5 277.1h0M957.3 277.6h0M961.1 277.2h0M963.7 277.3h0M966.9 277.6h0M970.8 276.9h0M974.2 276.9h0M977.1 277.6h0M980.2 276.6h0M983.5 277.3h0M987.2 277.0h0M989.8 277.1h0M1009.8 277.4h0M1013.5 277.1h0M1016.8 277.3h0M942.8 280.3h0M945.9 280.4h0M949.2 280.9h0M952.8 280.5h0M955.4 280.0h0M959.1 280.2h0M962.5 280.2h0M965.4 280.7h0M969.1 280.3h0M972.3 280.1h0M975.6 280.6h0M978.8 280.2h0M982.6 279.7h0M985.2 279.8h0M988.9 279.6h0M992.0 280.1h0M1011.9 280.4h0M1015.1 280.1h0M940.6 283.5h0M944.5 282.7h0M947.2 283.1h0M951.1 282.8h0M954.3 283.0h0M957.5 283.0h0M960.3 282.7h0M964.1 282.9h0M967.7 282.5h0M970.7 283.6h0M974.1 283.2h0M977.1 282.8h0M980.6 282.7h0M983.5 282.5h0M986.7 283.2h0M990.6 283.2h0M1010.1 282.7h0M1013.3 282.8h0M939.1 285.8h0M942.1 285.5h0M946.1 286.0h0M949.2 285.8h0M952.4 285.4h0M955.5 285.6h0M959.0 285.4h0M962.0 286.1h0M965.6 286.0h0M968.9 285.5h0M972.1 285.4h0M975.8 286.0h0M979.1 285.8h0M982.0 285.5h0M985.7 285.7h0M988.6 285.6h0M992.0 285.6h0M1002.0 285.7h0M1008.7 286.3h0M1012.0 286.2h0M937.5 288.9h0M940.6 288.6h0M944.2 288.9h0M947.7 288.4h0M950.7 288.3h0M954.1 288.6h0M957.0 288.7h0M961.4 288.7h0M963.9 288.4h0M967.7 288.6h0M970.4 288.2h0M974.2 287.9h0M977.3 288.4h0M980.8 288.6h0M983.6 289.0h0M986.7 288.9h0M990.6 287.9h0M993.4 288.3h0M996.8 288.6h0M1000.2 288.8h0M1010.0 288.3h0M936.0 291.3h0M939.1 291.5h0M942.5 291.7h0M945.7 291.6h0M949.0 291.6h0M952.4 291.7h0M956.5 291.5h0M959.2 291.2h0M962.2 291.6h0M966.0 291.1h0M968.9 291.9h0M971.7 291.6h0M975.5 292.0h0M978.8 291.2h0M982.6 291.9h0M985.6 292.0h0M988.6 291.5h0M991.8 291.2h0M995.4 291.4h0M999.2 291.3h0M1002.0 290.8h0M1005.3 291.3h0M1008.4 291.5h0M1011.8 291.1h0M1015.3 291.5h0M1018.2 291.9h0M1021.7 291.7h0M937.8 294.9h0M940.6 293.9h0M944.6 294.8h0M947.9 294.4h0M951.2 294.4h0M954.0 294.4h0M956.9 294.6h0M961.0 294.1h0M963.6 294.5h0M967.7 293.7h0M970.6 294.2h0M974.4 294.9h0M976.8 294.2h0M980.0 294.4h0M983.9 294.7h0M986.5 293.8h0M990.5 294.4h0M993.5 294.3h0M997.2 294.3h0M1000.8 294.9h0M1003.8 294.3h0M1006.5 294.2h0M1010.1 293.4h0M1013.5 294.4h0M1016.8 293.8h0M1019.6 294.5h0M1023.7 294.1h0M1030.0 294.9h0M938.6 297.4h0M942.8 297.3h0M946.0 297.0h0M949.0 296.9h0M952.7 297.4h0M956.3 297.3h0M958.9 297.0h0M962.0 296.9h0M966.5 296.6h0M968.6 296.7h0M972.5 297.2h0M975.5 297.5h0M978.7 297.3h0M982.7 297.2h0M985.4 297.4h0M989.0 297.5h0M992.0 297.3h0M995.4 297.5h0M998.6 297.1h0M1001.6 297.1h0M1005.0 297.3h0M1008.9 297.1h0M1012.5 297.1h0M1015.5 297.4h0M1018.3 297.2h0M1021.3 297.4h0M1025.6 297.3h0M1028.9 297.2h0M1031.6 297.2h0M937.8 300.4h0M941.0 300.5h0M944.4 300.7h0M947.3 300.0h0M950.8 300.2h0M954.4 299.9h0M957.0 299.5h0M960.1 300.3h0M963.7 300.4h0M967.2 300.3h0M970.9 300.3h0M974.2 300.0h0M977.4 300.0h0M980.2 300.0h0M983.9 299.9h0M987.5 299.7h0M990.0 299.8h0M994.0 300.0h0M997.1 300.2h0M999.9 300.0h0M1003.9 300.3h0M1006.9 300.2h0M1010.3 300.3h0M1013.0 299.7h0M1017.2 300.0h0M1019.7 300.2h0M1023.4 299.7h0M1026.7 300.0h0M1030.2 300.0h0M1033.4 300.3h0M939.5 303.0h0M942.4 302.5h0M946.0 303.0h0M949.5 302.9h0M952.6 302.9h0M955.5 302.7h0M958.1 302.9h0M962.1 303.1h0M965.9 302.7h0M968.8 302.9h0M972.3 303.2h0M975.2 302.9h0M979.4 302.9h0M982.7 303.0h0M985.2 303.1h0M989.0 302.7h0M992.7 303.3h0M995.7 302.4h0M998.4 302.6h0M1001.9 303.1h0M1005.6 303.2h0M1008.4 303.5h0M1011.7 302.7h0M1015.1 303.4h0M1017.7 303.3h0M1021.6 302.7h0M1024.3 302.8h0M1028.1 302.8h0M1031.3 302.8h0M937.9 305.4h0M940.6 306.2h0M943.9 305.9h0M947.1 305.4h0M950.7 305.6h0M953.8 305.9h0M956.9 306.0h0M960.7 305.3h0M964.1 305.8h0M967.9 306.0h0M970.8 306.2h0M973.3 305.4h0M976.9 305.4h0M980.7 305.8h0M984.5 305.4h0M986.8 305.9h0M990.5 305.8h0M993.5 306.0h0M997.1 305.6h0M1000.5 305.2h0M1003.8 306.3h0M1006.7 306.4h0M1010.4 305.6h0M1013.8 305.4h0M1016.4 305.6h0M1020.2 305.5h0M1023.1 305.5h0M1027.2 306.0h0M1029.5 305.4h0M1033.4 306.1h0M919.2 309.1h0M942.0 309.3h0M945.5 308.3h0M949.5 308.5h0M952.1 308.9h0M956.5 308.8h0M958.7 308.3h0M962.1 308.2h0M965.3 308.5h0M968.8 308.6h0M972.8 308.1h0M982.4 308.0h0M986.0 308.2h0M988.9 309.1h0M991.9 308.9h0M994.9 308.3h0M998.4 308.5h0M1002.4 309.1h0M1004.8 308.1h0M1008.5 308.3h0M1011.4 308.5h0M1015.2 308.5h0M1018.3 308.4h0M1021.9 308.9h0M1025.1 308.4h0M1028.4 308.5h0M1031.2 308.6h0M918.1 311.4h0M921.2 311.4h0M923.9 311.8h0M937.9 311.5h0M940.8 311.4h0M944.0 311.6h0M947.9 311.8h0M950.7 311.4h0M954.5 311.7h0M957.6 311.8h0M960.7 311.7h0M990.0 311.2h0M993.9 310.8h0M997.2 311.7h0M1000.7 311.4h0M1003.9 311.0h0M1006.6 311.4h0M1010.6 311.3h0M1013.6 311.7h0M1016.5 311.3h0M1019.5 312.2h0M1023.7 311.4h0M1026.5 311.5h0M1030.5 311.1h0M919.0 314.3h0M922.7 314.4h0M925.4 314.2h0M929.5 314.7h0M936.1 314.3h0M938.7 314.4h0M942.2 314.9h0M945.9 314.7h0M949.5 314.1h0M952.3 314.6h0M955.8 314.1h0M958.8 314.6h0M962.9 314.4h0M992.2 314.2h0M995.7 314.0h0M998.8 314.0h0M1002.3 314.2h0M1005.5 313.9h0M1009.0 313.8h0M1011.3 313.8h0M1015.3 314.4h0M1018.3 314.0h0M1021.8 314.6h0M1025.0 313.9h0M1028.8 314.5h0M1031.8 314.1h0M918.2 317.3h0M921.3 317.1h0M924.7 317.4h0M927.5 317.2h0M931.1 316.8h0M934.7 317.1h0M937.7 317.3h0M940.5 317.3h0M943.8 317.3h0M947.3 317.3h0M950.5 316.8h0M954.2 316.6h0M957.2 317.1h0M960.9 317.4h0M990.1 317.2h0M994.0 317.0h0M997.3 316.9h0M1000.6 317.3h0M1003.2 317.1h0M1007.0 316.7h0M1010.1 317.9h0M1013.5 317.7h0M1016.3 316.7h0M1020.1 317.0h0M1023.7 316.5h0M1026.6 317.3h0M912.6 319.9h0M915.5 319.8h0M919.6 320.2h0M923.1 319.9h0M926.1 319.4h0M929.1 320.5h0M932.0 319.7h0M935.8 319.7h0M938.8 320.1h0M942.4 320.4h0M945.9 320.1h0M949.0 320.2h0M952.3 320.0h0M955.9 319.9h0M959.6 319.6h0M962.3 320.6h0M992.1 320.4h0M995.3 319.7h0M998.6 320.0h0M1002.2 320.2h0M1005.7 319.4h0M1008.5 319.9h0M1011.8 319.4h0M1015.4 320.0h0M1018.1 320.1h0M1022.0 320.1h0M1025.1 319.9h0M918.0 322.8h0M920.9 322.6h0M924.0 322.7h0M928.0 323.0h0M930.9 322.8h0M933.9 322.9h0M937.7 323.2h0M940.5 323.3h0M944.2 323.0h0M947.5 322.4h0M951.0 323.0h0M953.8 322.5h0M957.5 322.8h0M960.2 322.8h0M963.9 322.5h0M986.9 323.1h0M990.4 323.0h0M994.0 322.8h0M997.1 323.6h0M1000.1 323.2h0M1003.2 322.9h0M1007.2 322.5h0M1010.1 322.4h0M1013.5 322.6h0M1016.9 323.3h0M1020.0 322.6h0M1023.6 322.3h0M1026.6 322.6h0M919.7 325.2h0M923.6 326.1h0M925.8 325.3h0M929.8 326.0h0M932.7 325.7h0M935.9 325.4h0M938.8 325.3h0M942.3 325.4h0M946.1 325.6h0M949.3 325.5h0M951.8 325.6h0M955.8 325.4h0M958.6 325.8h0M962.5 325.5h0M965.6 325.8h0M969.2 325.4h0M972.4 325.9h0M975.8 326.1h0M978.6 325.9h0M982.1 326.2h0M985.3 325.5h0M988.6 325.4h0M992.2 325.5h0M995.3 326.0h0M998.5 325.6h0M1001.7 325.8h0M1004.7 326.2h0M1008.4 325.5h0M1012.4 325.7h0M1015.4 326.0h0M1018.4 325.5h0M1021.7 325.6h0M1025.3 325.5h0M1028.2 325.7h0M921.1 328.9h0M923.9 328.1h0M927.6 328.4h0M931.3 329.1h0M934.2 328.8h0M937.7 328.7h0M941.2 328.3h0M944.4 328.4h0M947.2 328.8h0M950.8 328.6h0M954.3 328.9h0M957.6 328.1h0M960.5 328.4h0M963.9 328.8h0M967.2 328.9h0M970.5 329.3h0M973.6 328.7h0M977.3 328.6h0M980.8 328.8h0M983.6 328.9h0M986.7 328.6h0M990.5 329.4h0M994.0 328.9h0M997.3 328.8h0M1000.2 328.6h0M1003.5 329.2h0M1007.1 328.7h0M1010.3 328.6h0M1013.4 329.1h0M1016.8 328.7h0M1020.2 328.1h0M1023.0 328.5h0M1026.4 328.2h0M922.6 331.5h0M925.7 331.3h0M929.8 331.7h0M932.8 331.1h0M939.3 331.5h0M942.8 331.7h0M945.7 331.4h0M949.4 331.2h0M952.8 332.1h0M955.6 331.9h0M958.4 331.8h0M962.1 331.1h0M965.2 331.2h0M968.7 331.8h0M972.5 331.2h0M975.2 331.0h0M978.9 331.7h0M982.4 331.4h0M984.8 331.4h0M989.0 331.2h0M992.1 332.0h0M995.5 331.7h0M998.8 331.7h0M1001.8 332.1h0M1005.1 331.8h0M1008.6 331.6h0M1011.8 331.7h0M1015.1 331.4h0M1018.3 331.5h0M1021.5 331.4h0M1024.9 331.7h0M937.7 334.6h0M941.0 334.2h0M944.1 334.3h0M947.2 334.5h0M950.9 334.1h0M954.1 334.5h0M957.2 334.2h0M960.6 334.7h0M964.3 334.4h0M967.5 334.5h0M970.8 334.0h0M973.9 334.6h0M976.5 334.0h0M980.9 334.4h0M984.0 334.1h0M987.3 334.4h0M990.3 334.4h0M993.4 333.9h0M996.6 333.7h0M1000.2 334.1h0M1003.8 334.5h0M1006.8 334.3h0M1010.1 333.7h0M1013.6 334.3h0M1017.0 334.7h0M1020.5 334.6h0M1022.8 334.6h0M1026.8 334.1h0M1030.3 334.2h0M1033.6 335.0h0M926.2 337.0h0M939.0 337.2h0M942.4 337.2h0M945.4 337.5h0M949.0 337.5h0M952.9 337.1h0M956.4 337.0h0M959.0 337.1h0M962.1 337.1h0M965.6 337.0h0M968.9 337.3h0M972.4 337.3h0M975.6 337.2h0M979.4 337.0h0M981.7 337.3h0M985.6 337.3h0M989.0 336.9h0M992.3 337.6h0M995.5 337.5h0M999.1 337.2h0M1001.5 337.4h0M1005.5 336.9h0M1009.2 337.3h0M1012.1 337.1h0M1014.9 337.2h0M1018.3 337.5h0M1022.1 336.5h0M1025.3 336.9h0M1029.0 337.1h0M1031.8 337.1h0M1035.1 337.1h0M1038.3 337.2h0M937.4 340.3h0M941.1 340.4h0M943.8 339.9h0M947.0 340.1h0M950.8 340.0h0M954.4 339.9h0M957.8 339.8h0M960.5 339.9h0M964.5 340.3h0M967.3 340.2h0M970.3 339.8h0M974.0 340.2h0M977.0 340.4h0M980.3 339.5h0M983.7 339.9h0M987.4 339.7h0M990.6 339.9h0M993.8 339.9h0M997.0 339.6h0M1000.4 339.9h0M1003.7 339.8h0M1006.8 339.4h0M1010.2 340.0h0M1013.5 339.9h0M1016.2 340.6h0M1020.0 340.5h0M1023.3 339.7h0M1026.6 340.0h0M1029.9 339.8h0M1033.3 340.2h0M1036.5 340.0h0M939.0 342.9h0M942.5 343.0h0M946.0 343.1h0M949.1 342.8h0M952.4 342.9h0M955.6 343.1h0M958.6 343.1h0M962.1 343.1h0M966.0 343.2h0M969.3 342.8h0M972.5 343.1h0M975.4 342.6h0M978.6 343.3h0M982.0 343.2h0M985.5 343.1h0M988.5 342.7h0M991.7 342.8h0M995.6 342.8h0M998.5 342.9h0M1001.9 343.0h0M1005.0 342.9h0M1007.9 343.1h0M1012.2 342.7h0M1015.3 342.9h0M1018.2 342.9h0M1021.6 342.7h0M1024.8 342.7h0M1028.8 343.1h0M1031.7 342.9h0M1034.9 342.6h0M934.3 346.1h0M937.2 345.6h0M940.9 345.7h0M944.6 345.8h0M947.2 346.1h0M950.8 345.6h0M953.6 345.5h0M957.3 345.9h0M960.8 346.3h0M964.3 345.9h0M967.5 345.8h0M970.4 345.9h0M973.7 346.0h0M977.1 345.7h0M980.7 345.8h0M983.5 345.5h0M987.5 345.8h0M990.4 345.7h0M993.4 345.8h0M997.2 345.7h0M1000.4 345.7h0M1003.6 346.2h0M1007.0 346.4h0M1009.9 345.1h0M1013.6 345.6h0M1016.6 345.8h0M1020.2 345.7h0M1023.4 346.2h0M1027.3 345.7h0M1029.4 345.2h0M1033.1 345.8h0M936.3 348.6h0M939.3 348.9h0M942.0 348.6h0M945.7 348.7h0M949.1 349.1h0M952.3 348.4h0M955.7 348.2h0M958.8 348.8h0M962.8 348.8h0M965.4 348.2h0M969.0 349.2h0M972.1 348.5h0M976.0 348.5h0M979.3 348.8h0M982.2 349.0h0M986.0 348.3h0M988.3 349.2h0M992.5 348.5h0M995.4 348.4h0M998.7 348.7h0M1001.7 348.9h0M1004.9 348.9h0M1009.1 348.6h0M1012.3 348.9h0M1015.1 349.0h0M1018.8 348.6h0M1021.7 348.5h0M1024.9 348.8h0M1028.1 348.9h0M1032.1 348.7h0M1034.7 348.7h0M934.1 351.0h0M937.8 351.2h0M941.2 351.8h0M944.1 351.4h0M947.4 351.4h0M950.5 351.3h0M953.4 351.6h0M957.7 351.3h0M960.6 351.6h0M963.9 351.5h0M966.9 351.6h0M970.6 351.5h0M973.5 351.2h0M977.5 351.2h0M980.2 351.7h0M983.8 351.3h0M987.2 351.6h0M990.9 351.8h0M993.6 351.5h0M996.7 351.4h0M1000.5 351.4h0M1003.6 351.8h0M1007.7 351.8h0M1010.5 351.5h0M1013.8 351.2h0M1016.7 351.1h0M1020.5 351.6h0M1023.5 351.6h0M1026.7 351.5h0M1030.1 351.2h0M932.7 354.2h0M935.8 354.5h0M939.2 353.5h0M942.2 354.1h0M946.0 354.4h0M949.2 354.3h0M952.2 354.0h0M955.8 354.5h0M959.6 354.2h0M962.3 354.3h0M966.3 354.5h0M969.2 354.3h0M972.2 354.6h0M974.9 354.2h0M979.0 354.4h0M981.6 354.3h0M985.5 354.2h0M989.1 354.2h0M992.1 354.0h0M995.4 354.7h0M998.9 353.9h0M1002.0 354.2h0M1005.1 354.2h0M1008.4 354.4h0M1012.3 354.3h0M1015.7 354.2h0M1018.0 354.2h0M1021.8 354.1h0M1024.7 354.8h0M1028.8 354.7h0M1031.8 354.4h0M937.8 357.3h0M941.6 357.2h0M944.2 357.0h0M947.5 357.2h0M950.9 356.6h0M954.5 357.1h0M957.2 357.0h0M960.7 357.4h0M964.3 357.2h0M967.8 356.6h0M970.6 357.4h0M974.1 357.2h0M976.9 357.0h0M980.6 357.0h0M984.0 356.9h0M987.0 356.7h0M990.2 357.3h0M993.6 356.9h0M997.6 357.0h0M1000.4 357.6h0M1003.2 357.1h0M1006.8 357.4h0M1010.3 357.0h0M1013.1 356.8h0M1016.9 357.5h0M1020.0 357.1h0M1023.6 356.9h0M1026.5 357.8h0M1030.1 357.2h0M939.0 360.2h0M941.8 360.1h0M946.1 360.6h0M949.0 360.2h0M952.2 360.4h0M955.8 359.7h0M958.9 360.2h0M962.3 360.5h0M965.6 359.9h0M969.3 360.0h0M972.0 360.5h0M975.4 360.3h0M978.9 361.2h0M982.1 360.1h0M985.5 359.9h0M989.3 360.1h0M992.0 360.3h0M994.8 360.1h0M998.8 360.6h0M1002.1 359.8h0M1005.3 360.3h0M1008.5 359.6h0M1011.7 360.0h0M1015.3 359.8h0M1018.0 359.9h0M1021.5 360.4h0M1025.7 359.8h0M1028.7 359.7h0M1031.0 359.9h0M937.2 362.3h0M940.7 363.1h0M943.8 363.1h0M950.5 363.0h0M953.8 363.0h0M957.4 362.8h0M960.5 362.9h0M964.2 362.8h0M967.4 362.9h0M970.9 362.3h0M973.7 362.8h0M976.9 362.6h0M980.3 362.9h0M983.7 362.8h0M987.2 362.8h0M990.1 363.2h0M994.2 363.2h0M996.8 362.8h0M1000.9 362.4h0M1003.9 363.0h0M1006.7 362.6h0M1010.6 363.1h0M1013.6 362.8h0M1016.6 362.9h0M1019.9 362.9h0M1023.2 362.8h0M1027.0 362.8h0M1029.4 362.4h0M962.6 365.9h0M965.6 365.9h0M968.9 365.8h0M972.2 366.4h0M975.1 365.7h0M978.7 365.9h0M981.7 365.6h0M984.9 365.8h0M988.3 365.6h0M992.5 365.4h0M995.4 366.3h0M999.0 365.4h0M1002.2 365.9h0M1005.4 365.3h0M1009.0 365.7h0M1011.4 365.7h0M1015.2 366.2h0M1018.5 365.6h0M1021.8 366.0h0M1025.0 365.8h0M1028.1 365.5h0M970.7 368.1h0M974.0 368.8h0M978.0 368.7h0M981.0 369.2h0M984.2 368.6h0M987.4 368.9h0M990.0 368.7h0M993.2 368.2h0M996.9 368.5h0M1000.2 368.7h0M1003.7 368.3h0M1006.8 369.0h0M1010.6 369.1h0M1014.1 368.3h0M1016.7 368.6h0M1019.9 368.6h0M1023.4 368.0h0M1026.6 368.3h0M972.3 371.6h0M975.3 371.4h0M979.1 371.2h0M982.1 371.2h0M985.2 371.3h0M988.7 371.5h0M991.9 371.8h0M995.3 371.3h0M998.6 371.0h0M1001.7 371.5h0M1005.7 372.2h0M1008.7 371.4h0M1011.9 371.6h0M1015.3 372.0h0M1017.9 371.3h0M1021.7 371.1h0M1025.2 371.2h0M977.3 374.7h0M980.4 374.8h0M983.9 374.3h0M986.9 374.6h0M990.5 374.4h0M993.6 374.5h0M997.6 374.5h0M1000.6 374.5h0M1003.6 374.4h0M1007.1 374.3h0M1010.1 374.4h0M1013.6 373.9h0M1016.9 374.8h0M1020.3 374.3h0M1022.9 374.1h0M979.0 377.0h0M982.1 376.7h0M985.8 377.2h0M988.9 376.8h0M992.3 377.4h0M995.3 377.4h0M998.4 376.5h0M1001.9 377.9h0M1005.0 377.1h0M1008.4 377.3h0M1012.0 377.2h0M1015.2 377.2h0M1018.5 377.5h0M1021.7 377.5h0M977.2 379.8h0M980.5 380.4h0M984.4 380.0h0M987.0 380.0h0M991.0 380.5h0M993.3 379.8h0M996.5 379.9h0M999.7 380.3h0M1003.9 380.2h0M1006.7 380.0h0M1010.5 380.1h0M1013.3 380.1h0M1016.4 380.0h0M1020.8 379.4h0M1023.5 380.1h0M979.0 382.6h0M982.1 383.1h0M985.4 383.1h0M988.7 382.9h0M992.2 382.9h0M995.6 382.9h0M998.7 383.1h0M1001.9 382.6h0M1004.6 382.7h0M1008.3 383.0h0M1012.1 382.9h0M1015.7 382.9h0M1018.7 383.0h0M977.4 385.8h0M980.2 385.5h0M984.1 385.3h0M987.1 385.6h0M990.0 385.8h0M993.6 385.6h0M996.7 385.8h0M1000.3 385.9h0M1003.4 385.9h0M1007.1 385.7h0M1009.9 385.2h0M1013.9 386.0h0M1017.0 385.8h0M1020.1 386.0h0M985.0 389.0h0M988.8 389.5h0M992.5 388.3h0M995.3 388.5h0M999.3 388.6h0M1001.6 388.5h0M1005.2 388.5h0M1008.6 388.2h0M1015.3 389.1h0M1018.7 388.4h0M983.7 391.1h0M990.1 391.9h0M993.6 391.6h0M996.7 391.4h0M1000.4 391.2h0M1010.5 391.2h0M992.1 394.4h0M945.4 400.1h0M949.6 401.3h0M937.9 402.9h0M940.6 402.6h0M943.6 402.9h0M947.1 403.3h0M950.8 402.8h0M932.5 405.7h0M936.4 405.8h0M940.0 405.9h0M942.7 405.3h0M945.4 405.8h0M948.8 405.8h0M952.5 406.1h0M958.6 405.7h0M930.9 408.6h0M933.8 408.8h0M937.3 408.6h0M941.4 409.1h0M944.9 408.2h0M947.7 408.3h0M950.6 409.0h0M954.1 408.2h0M957.3 409.7h0M960.5 408.5h0M932.2 411.4h0M936.3 411.0h0M939.0 411.5h0M942.5 412.0h0M946.4 411.7h0M949.0 411.6h0M952.4 411.8h0M955.3 411.8h0M958.7 411.8h0M992.3 411.0h0M995.8 411.8h0M1002.2 411.6h0M1008.7 411.6h0M1011.7 411.6h0M1015.4 412.5h0M1018.6 411.5h0M881.3 414.2h0M934.2 413.9h0M936.9 414.0h0M941.0 414.7h0M944.4 414.5h0M947.4 414.4h0M950.6 414.0h0M954.3 414.0h0M957.5 413.9h0M964.3 414.1h0M967.2 414.6h0M970.2 414.6h0M974.0 414.5h0M977.1 414.2h0M980.5 414.0h0M984.0 414.3h0M987.3 414.2h0M990.5 414.5h0M993.6 414.6h0M996.8 414.3h0M1000.6 414.5h0M1003.7 414.5h0M1007.3 414.5h0M1010.7 414.9h0M1013.4 414.2h0M1016.4 414.2h0M1020.0 414.7h0M1030.2 414.5h0M876.0 417.1h0M880.1 416.8h0M883.2 417.4h0M886.7 417.5h0M892.5 417.3h0M932.4 417.0h0M935.4 417.0h0M938.7 417.5h0M942.2 417.2h0M946.3 417.5h0M949.0 417.7h0M952.9 417.1h0M955.9 417.2h0M958.9 417.0h0M962.4 416.9h0M965.5 417.1h0M969.1 417.6h0M972.1 417.3h0M975.9 417.2h0M978.9 417.8h0M981.8 417.3h0M985.9 417.0h0M989.0 417.6h0M991.9 417.3h0M995.2 417.5h0M998.7 417.3h0M1001.9 417.4h0M1005.0 417.2h0M1008.8 417.3h0M1011.8 416.9h0M1015.2 417.3h0M1018.5 417.4h0M1021.8 417.4h0M1024.3 417.0h0M1028.5 417.5h0M1031.6 416.9h0M1038.0 417.2h0M871.4 420.1h0M874.6 420.1h0M878.1 419.8h0M881.3 420.1h0M884.6 419.5h0M888.1 419.8h0M891.7 419.3h0M894.2 419.9h0M897.6 419.9h0M931.4 420.1h0M934.0 420.1h0M937.5 420.5h0M940.8 419.7h0M943.8 420.2h0M947.4 419.6h0M950.4 419.6h0M957.2 420.1h0M960.5 419.6h0M964.1 419.8h0M967.6 420.0h0M970.9 419.7h0M974.0 420.6h0M977.6 420.2h0M980.6 419.7h0M983.8 419.9h0M986.9 420.5h0M990.4 420.4h0M993.4 419.8h0M997.1 420.0h0M1000.4 420.2h0M1004.3 420.1h0M1007.4 419.7h0M1009.7 420.2h0M1013.2 420.4h0M1016.8 419.9h0M1020.3 420.4h0M1023.1 419.5h0M1026.5 419.9h0M1029.9 420.4h0M1033.3 420.2h0M1040.0 419.9h0M873.6 422.7h0M876.6 422.8h0M880.1 422.6h0M883.1 422.8h0M886.6 422.9h0M889.6 422.8h0M893.1 423.2h0M899.8 422.8h0M925.9 422.9h0M929.4 423.3h0M932.7 423.0h0M936.1 422.7h0M939.0 422.4h0M942.3 422.8h0M945.5 423.4h0M948.9 423.0h0M962.9 422.5h0M965.6 422.6h0M969.0 422.8h0M972.0 422.3h0M975.9 422.9h0M978.4 422.8h0M981.7 422.3h0M985.1 422.6h0M989.2 422.9h0M991.8 422.5h0M995.5 422.9h0M998.3 422.9h0M1001.8 423.3h0M1005.8 422.8h0M1008.8 423.0h0M1011.4 423.0h0M1014.7 423.2h0M1018.6 422.8h0M1021.3 423.0h0M1024.9 422.6h0M1028.7 423.3h0M1031.8 422.8h0M1034.7 423.7h0M1038.2 423.5h0M1041.7 422.9h0M870.8 425.9h0M874.9 425.6h0M878.0 425.6h0M881.0 425.3h0M884.5 425.9h0M888.4 425.7h0M891.4 425.6h0M894.9 425.9h0M898.4 425.7h0M904.4 425.8h0M911.2 425.7h0M917.6 426.5h0M921.0 425.7h0M924.4 425.5h0M927.6 425.6h0M931.2 425.5h0M944.0 426.2h0M947.3 425.7h0M960.5 426.3h0M963.8 426.0h0M967.4 425.8h0M970.5 425.9h0M973.8 426.1h0M977.3 425.8h0M980.5 426.0h0M983.8 425.6h0M986.8 425.5h0M990.3 425.9h0M994.1 426.1h0M997.3 425.6h0M999.9 426.1h0M1003.9 425.5h0M1007.0 426.0h0M1010.6 425.2h0M1014.0 425.9h0M1016.8 425.9h0M1019.8 425.4h0M1023.4 425.9h0M1026.5 425.5h0M1030.5 425.7h0M1032.8 425.5h0M1036.3 425.8h0M1040.1 426.1h0M1043.1 425.9h0M1046.1 425.6h0M1050.1 425.2h0M1052.9 426.4h0M863.8 428.6h0M867.1 428.4h0M869.7 428.5h0M873.5 428.5h0M876.8 428.3h0M879.9 429.1h0M883.7 429.4h0M886.6 428.5h0M890.2 428.1h0M893.2 428.8h0M896.1 428.4h0M899.3 428.6h0M903.4 429.4h0M906.6 428.6h0M909.5 429.3h0M913.4 428.5h0M916.1 428.8h0M918.6 428.2h0M922.6 428.7h0M926.1 428.7h0M929.5 428.8h0M945.9 429.2h0M959.3 429.2h0M963.0 428.8h0M965.7 428.3h0M969.3 428.9h0M971.4 428.2h0M975.7 428.5h0M979.1 428.8h0M982.2 428.6h0M985.9 429.0h0M988.7 429.1h0M992.1 428.3h0M995.3 428.2h0M998.8 428.9h0M1002.1 428.2h0M1005.0 428.0h0M1008.4 428.9h0M1011.8 428.7h0M1015.1 428.3h0M1018.3 428.4h0M1021.9 428.8h0M1024.7 428.4h0M1028.5 428.8h0M1031.5 429.1h0M1034.7 428.8h0M1038.2 429.0h0M1041.4 429.0h0M1045.0 427.9h0M1047.9 428.8h0M1051.3 429.0h0M868.6 431.6h0M871.3 431.6h0M875.0 431.5h0M878.1 431.5h0M881.2 431.3h0M884.7 431.1h0M887.8 431.3h0M891.7 431.3h0M895.2 431.3h0M897.7 431.6h0M901.4 431.6h0M904.7 431.5h0M908.0 431.5h0M910.9 431.0h0M914.1 431.3h0M918.0 431.4h0M921.6 431.5h0M924.1 431.2h0M927.6 431.7h0M930.9 431.6h0M944.4 431.3h0M960.5 431.9h0M964.0 431.4h0M967.1 431.4h0M970.5 431.1h0M974.0 432.0h0M977.2 431.3h0M980.7 431.5h0M984.1 431.4h0M987.8 431.5h0M990.8 431.4h0M993.7 431.6h0M996.8 432.0h0M999.7 431.7h0M1003.3 431.6h0M1006.8 431.6h0M1010.4 431.3h0M1013.6 430.9h0M1016.7 431.9h0M1020.5 431.9h0M1023.4 431.8h0M1026.4 431.5h0M1029.8 431.4h0M1033.0 431.8h0M1037.0 431.2h0M1040.0 431.7h0M1043.4 431.5h0M1046.5 431.7h0M1049.5 431.7h0M1052.7 431.5h0M870.2 434.2h0M873.8 434.3h0M876.7 434.8h0M879.9 434.2h0M883.5 434.4h0M886.5 434.4h0M889.7 434.4h0M893.0 434.4h0M896.2 435.0h0M900.1 434.2h0M902.7 434.8h0M906.6 434.0h0M910.0 434.4h0M912.6 434.3h0M916.3 434.6h0M920.3 434.5h0M922.7 434.8h0M926.3 434.4h0M929.4 434.0h0M932.8 434.0h0M959.4 434.2h0M962.2 434.3h0M965.5 434.4h0M968.8 434.3h0M972.3 434.8h0M975.3 434.8h0M978.7 434.2h0M982.6 434.5h0M985.4 434.2h0M988.7 433.9h0M992.4 434.1h0M995.7 434.2h0M998.7 434.2h0M1001.5 434.3h0M1005.1 434.5h0M1008.5 435.0h0M1011.1 434.1h0M1014.9 433.9h0M1018.1 434.2h0M1022.1 434.9h0M1025.4 434.2h0M1028.6 434.6h0M1031.8 434.8h0M1034.8 434.4h0M1038.8 434.8h0M1041.4 434.8h0M1045.1 434.6h0M1048.0 434.2h0M1051.3 433.9h0M881.2 437.3h0M884.5 437.3h0M891.6 437.4h0M894.4 436.7h0M904.7 437.2h0M907.6 437.0h0M910.9 437.0h0M914.5 437.2h0M918.1 436.9h0M921.2 437.7h0M924.4 437.9h0M928.2 437.3h0M931.4 437.7h0M934.5 437.2h0M937.7 437.2h0M940.6 437.5h0M944.3 436.3h0M957.0 437.4h0M960.9 438.1h0M963.6 437.3h0M967.3 437.4h0M971.0 437.2h0M973.8 437.7h0M977.5 436.9h0M980.5 437.5h0M983.8 437.5h0M987.1 437.6h0M990.1 436.6h0M993.9 437.4h0M996.6 437.3h0M1000.1 437.4h0M1003.4 437.5h0M1007.2 437.6h0M1010.1 437.2h0M1013.4 437.2h0M1017.0 437.6h0M1019.9 437.3h0M1023.7 437.2h0M1026.7 437.2h0M1029.7 437.1h0M1032.9 437.4h0M1036.9 437.0h0M1040.0 437.4h0M1043.5 437.2h0M1046.2 437.4h0M1049.8 437.2h0M892.7 439.8h0M909.0 440.1h0M912.4 440.0h0M916.4 439.8h0M919.6 440.1h0M923.0 439.6h0M932.7 439.7h0M935.8 440.4h0M939.4 440.1h0M942.8 440.2h0M956.3 440.3h0M958.8 439.9h0M962.3 440.2h0M965.7 439.6h0M968.9 439.8h0M972.5 440.0h0M975.5 439.7h0M978.7 439.8h0M982.0 440.1h0M985.7 439.9h0M988.4 440.5h0M991.6 440.1h0M995.2 440.3h0M998.5 440.0h0M1002.3 440.2h0M1004.9 440.0h0M1008.5 440.4h0M1011.4 440.0h0M1015.1 440.5h0M1018.4 439.9h0M1021.8 440.1h0M1025.5 439.8h0M1029.0 440.3h0M1031.9 440.6h0M1034.3 439.7h0M1038.2 440.5h0M1041.5 440.0h0M1044.8 439.9h0M1047.9 440.4h0M1051.2 439.3h0M907.9 443.4h0M911.5 442.8h0M914.5 442.8h0M917.9 442.7h0M921.0 443.0h0M937.5 443.4h0M941.7 443.3h0M954.0 442.5h0M957.7 442.9h0M960.4 442.7h0M964.6 443.1h0M967.2 442.4h0M970.6 442.4h0M973.7 442.9h0M977.1 442.9h0M980.0 443.1h0M983.8 443.0h0M987.1 441.7h0M990.8 443.5h0M993.6 443.0h0M997.4 442.8h0M1000.3 443.0h0M1003.7 442.6h0M1007.2 442.7h0M1009.6 442.7h0M1013.3 443.2h0M1017.4 443.0h0M1020.5 442.3h0M1023.2 443.0h0M1026.8 442.4h0M1029.6 443.0h0M1033.6 443.1h0M1036.8 442.8h0M1040.2 443.1h0M1042.8 442.6h0M1046.6 442.6h0M1049.8 443.2h0M1052.9 442.5h0M909.5 446.2h0M912.9 445.5h0M916.7 445.9h0M919.6 445.3h0M936.0 446.1h0M939.7 446.0h0M958.6 445.9h0M962.6 446.0h0M965.6 445.7h0M968.4 445.9h0M972.5 446.0h0M975.4 445.5h0M978.3 445.8h0M982.5 445.6h0M985.5 445.7h0M988.7 446.2h0M992.2 446.0h0M995.1 445.7h0M998.5 445.6h0M1002.5 446.0h0M1005.4 445.7h0M1008.5 445.7h0M1011.9 446.0h0M1015.4 446.4h0M1018.7 445.6h0M1022.2 445.8h0M1025.4 446.1h0M1028.6 445.8h0M1031.0 445.4h0M1035.3 445.4h0M1038.1 445.8h0M1041.4 446.2h0M1045.2 446.0h0M1047.8 445.9h0M904.4 449.2h0M907.5 448.7h0M911.3 448.7h0M914.2 448.6h0M918.1 449.0h0M921.0 448.4h0M937.4 447.9h0M940.8 448.5h0M944.3 449.2h0M961.2 448.8h0M963.2 448.1h0M966.7 448.9h0M970.9 448.2h0M973.7 449.0h0M977.4 448.2h0M980.5 448.8h0M983.6 448.7h0M986.8 448.6h0M990.5 448.8h0M994.0 448.7h0M996.9 448.5h0M1000.4 448.4h0M1003.6 448.9h0M1007.1 448.7h0M1010.2 448.5h0M1013.9 448.9h0M1016.3 448.9h0M1019.9 448.3h0M1023.6 449.2h0M1026.7 448.4h0M1029.6 448.5h0M1033.3 448.9h0M1036.6 448.4h0M1040.0 448.0h0M1043.5 448.7h0M1046.6 449.0h0M906.2 451.5h0M909.3 451.7h0M913.0 451.2h0M916.0 451.7h0M919.5 451.2h0M935.9 451.3h0M939.1 451.1h0M942.3 451.3h0M946.0 451.9h0M962.4 451.5h0M965.3 450.8h0M968.8 451.2h0M972.7 451.2h0M975.6 451.3h0M978.8 451.6h0M982.3 451.8h0M985.4 451.8h0M989.4 451.5h0M991.8 451.7h0M995.8 451.0h0M999.1 451.5h0M1001.6 451.2h0M1005.7 451.0h0M1008.8 451.3h0M1011.6 451.7h0M1015.5 451.6h0M1018.3 451.3h0M1021.4 451.4h0M1024.9 451.5h0M1028.2 451.5h0M1031.5 451.6h0M1035.0 451.7h0M1037.9 451.1h0M1041.7 451.1h0M1044.7 451.7h0M904.7 454.1h0M908.4 453.5h0M911.0 454.3h0M915.0 454.0h0M917.7 454.4h0M934.6 454.3h0M937.6 454.4h0M941.0 454.2h0M944.0 454.7h0M947.7 453.6h0M963.6 454.6h0M967.0 454.4h0M974.5 454.2h0M977.0 454.2h0M980.4 454.4h0M984.2 454.2h0M987.5 454.7h0M990.2 454.0h0M993.7 454.4h0M997.3 454.6h0M1000.3 454.1h0M1003.7 454.2h0M1006.8 454.5h0M1010.1 454.4h0M1013.4 454.2h0M1016.8 454.5h0M1019.8 454.3h0M1023.9 454.8h0M1026.7 454.5h0M1030.2 454.1h0M1033.0 455.0h0M1036.6 454.8h0M1039.9 454.9h0M1043.7 454.2h0M1049.4 454.6h0M903.2 456.8h0M906.5 457.4h0M909.8 457.3h0M913.4 457.6h0M915.6 457.1h0M919.6 456.9h0M932.5 457.5h0M936.3 456.9h0M938.9 457.1h0M942.8 457.3h0M946.0 457.2h0M948.8 457.1h0M955.7 457.2h0M959.0 457.6h0M982.3 457.3h0M985.6 457.0h0M989.2 457.2h0M991.6 456.6h0M995.2 457.3h0M998.5 457.4h0M1001.8 457.0h0M1005.2 457.4h0M1008.9 457.3h0M1012.0 457.0h0M1015.4 456.9h0M1018.7 457.0h0M1021.5 456.7h0M1025.1 457.4h0M1028.0 457.3h0M1031.7 457.2h0M1035.1 457.4h0M1038.1 456.9h0M1041.2 457.2h0M1044.9 457.5h0M1048.3 457.3h0M1051.4 457.2h0M900.8 459.7h0M904.4 460.0h0M908.1 459.8h0M911.5 460.6h0M915.0 459.8h0M917.9 459.8h0M920.6 460.5h0M931.6 460.3h0M934.7 460.0h0M937.6 460.0h0M940.9 460.1h0M944.2 459.8h0M947.6 459.9h0M950.4 460.1h0M953.8 460.4h0M960.6 460.4h0M984.3 459.5h0M987.2 460.5h0M989.5 459.6h0M994.0 459.6h0M996.6 460.3h0M1000.4 460.2h0M1004.2 460.2h0M1007.5 460.3h0M1010.6 460.3h0M1013.6 460.1h0M1017.3 460.1h0M1020.1 459.7h0M1022.9 460.1h0M1026.8 459.9h0M1029.7 460.0h0M1033.6 459.8h0M1037.0 460.2h0M1040.1 459.8h0M1043.1 459.6h0M1046.6 460.8h0M1049.8 460.4h0M1053.5 459.5h0M903.4 463.1h0M906.7 462.9h0M909.8 462.2h0M913.2 462.6h0M916.2 463.2h0M919.9 462.7h0M922.8 463.2h0M926.3 463.1h0M928.9 462.9h0M933.3 463.1h0M936.1 463.0h0M938.8 463.4h0M943.2 463.1h0M946.1 463.2h0M949.0 463.1h0M952.1 463.2h0M955.1 462.9h0M958.4 463.2h0M962.7 463.0h0M985.7 463.3h0M988.8 462.3h0M992.1 462.6h0M995.4 462.9h0M999.0 463.7h0M1001.9 463.3h0M1005.0 462.5h0M1008.7 462.9h0M1012.1 463.4h0M1015.5 462.8h0M1018.4 463.1h0M1021.6 463.0h0M1024.6 462.3h0M1028.4 463.2h0M1031.7 463.4h0M1035.0 462.6h0M1038.7 462.9h0M1041.9 463.1h0M1044.9 462.7h0M1048.1 462.9h0M1054.4 463.0h0M904.5 465.2h0M908.0 465.1h0M910.9 465.6h0M914.5 465.8h0M918.0 465.6h0M921.0 465.8h0M924.4 465.6h0M927.7 465.5h0M931.2 466.1h0M934.8 465.6h0M937.3 465.5h0M940.2 465.4h0M944.0 466.2h0M947.6 465.9h0M950.4 465.5h0M954.0 465.7h0M957.1 466.3h0M961.1 465.9h0M963.5 465.7h0M990.6 465.3h0M993.6 466.0h0M996.6 465.9h0M1000.2 465.4h0M1004.0 466.0h0M1006.6 466.3h0M1009.9 465.7h0M1012.9 466.2h0M1016.7 466.3h0M1020.0 465.5h0M1023.5 465.4h0M1026.4 465.7h0M1030.6 465.6h0M1033.2 465.5h0M1036.6 466.0h0M1040.0 466.5h0M1042.7 465.5h0M1046.7 465.3h0M1050.1 465.7h0M1052.6 465.9h0M906.3 468.5h0M909.9 468.3h0M913.4 468.6h0M915.6 468.8h0M919.4 468.8h0M922.8 468.7h0M925.9 468.3h0M929.1 469.0h0M932.5 468.8h0M936.4 468.9h0M939.7 468.6h0M942.3 468.4h0M946.4 468.9h0M949.4 468.8h0M952.2 468.5h0M956.0 468.8h0M958.7 468.3h0M962.4 468.8h0M985.1 468.6h0M988.6 469.1h0M992.6 468.6h0M995.8 468.8h0M998.6 468.8h0M1002.1 468.7h0M1005.3 468.8h0M1008.6 468.6h0M1011.6 468.9h0M1015.2 468.7h0M1018.9 468.8h0M1021.4 468.7h0M1025.3 468.7h0M1028.2 468.8h0M1031.8 468.9h0M1034.9 469.1h0M1038.1 469.1h0M1042.0 468.3h0M1044.6 468.5h0M1048.1 468.7h0M1051.1 469.1h0M1055.0 468.6h0M1058.3 468.5h0M904.6 471.9h0M907.6 471.8h0M911.3 471.9h0M914.5 471.3h0M917.5 471.3h0M921.2 471.5h0M924.1 471.3h0M927.8 471.4h0M930.8 471.7h0M934.9 471.9h0M937.6 471.9h0M940.6 471.9h0M944.0 471.4h0M947.3 471.3h0M950.8 471.4h0M954.0 471.6h0M957.0 471.6h0M960.7 471.2h0M963.2 471.2h0M967.5 471.1h0M987.5 471.6h0M990.7 472.0h0M994.0 471.3h0M997.2 471.5h0M1000.1 471.6h0M1003.8 472.2h0M1007.0 471.4h0M1010.6 471.3h0M1013.7 471.6h0M1016.6 471.7h0M1020.2 471.1h0M1023.1 471.2h0M1027.2 471.7h0M1029.8 471.3h0M1033.1 471.5h0M1036.6 471.4h0M1039.7 471.4h0M1043.2 471.6h0M1046.6 471.7h0M1049.7 471.4h0M1053.2 471.6h0M910.0 473.8h0M916.1 474.8h0M919.0 474.1h0M923.1 474.1h0M926.1 474.6h0M929.2 474.1h0M932.1 473.9h0M936.1 474.7h0M939.1 474.6h0M942.5 474.4h0M946.0 474.6h0M949.8 474.7h0M952.0 474.7h0M955.7 474.2h0M959.1 474.8h0M962.5 474.4h0M965.9 474.1h0M972.1 474.5h0M988.7 474.0h0M992.5 474.7h0M995.3 475.1h0M998.2 474.6h0M1002.0 474.4h0M1004.8 474.6h0M1008.5 474.3h0M1012.2 474.2h0M1015.2 474.3h0M1018.7 474.0h0M1022.0 474.6h0M1025.4 473.9h0M1029.0 474.3h0M1031.8 474.3h0M1034.8 473.9h0M1038.3 474.7h0M1041.5 473.6h0M1045.0 474.6h0M1048.0 474.4h0M1051.7 474.3h0M1054.9 474.7h0M924.6 477.1h0M927.4 477.1h0M934.8 477.4h0M937.3 477.2h0M940.7 477.0h0M944.0 477.3h0M948.2 476.9h0M950.7 476.8h0M954.2 477.3h0M957.2 477.3h0M960.6 477.3h0M964.2 476.9h0M967.0 477.4h0M970.6 477.1h0M990.3 477.3h0M993.3 477.1h0M997.2 476.9h0M1000.8 476.2h0M1003.7 477.2h0M1007.4 477.5h0M1009.7 477.6h0M1013.3 477.4h0M1016.4 477.5h0M1020.0 477.3h0M1023.7 477.1h0M1026.9 477.0h0M1029.6 477.4h0M1033.4 477.2h0M1036.3 477.5h0M1040.1 477.5h0M1043.4 477.5h0M1046.5 477.2h0M1049.4 477.3h0M936.0 480.3h0M939.0 479.7h0M945.4 480.5h0M949.1 479.6h0M952.6 480.1h0M956.1 480.2h0M959.2 479.9h0M962.6 479.3h0M965.7 479.9h0M968.5 480.4h0M992.0 479.7h0M995.3 480.3h0M998.7 480.0h0M1002.1 479.7h0M1005.4 479.9h0M1008.3 480.3h0M1012.0 479.7h0M1015.0 480.2h0M1018.8 480.3h0M1021.6 479.9h0M1025.5 480.1h0M1028.0 480.1h0M1031.7 480.0h0M1034.6 479.6h0M1038.7 479.8h0M1042.0 480.2h0M1045.1 479.9h0M1048.5 479.5h0M1051.7 480.0h0M1054.6 480.4h0M944.4 482.8h0M954.0 483.0h0M957.5 483.3h0M960.3 483.5h0M963.8 483.2h0M967.4 483.0h0M990.5 483.0h0M993.6 482.7h0M997.3 482.9h0M1000.2 482.5h0M1004.0 482.7h0M1006.7 482.4h0M1009.9 483.8h0M1013.2 483.2h0M1016.5 482.7h0M1020.3 482.9h0M1022.9 483.0h0M1026.4 483.1h0M1030.4 483.4h0M1033.3 483.3h0M1036.6 482.9h0M1039.5 482.6h0M1042.8 482.5h0M1046.5 482.9h0M1053.3 482.7h0M955.9 485.5h0M959.5 485.5h0M962.4 485.7h0M995.4 484.9h0M998.8 485.7h0M1002.1 486.1h0M1005.3 485.7h0M1008.0 485.9h0M1011.5 486.0h0M1015.0 486.1h0M1018.5 486.1h0M1021.7 485.9h0M1025.2 485.7h0M1028.2 485.5h0M1031.8 486.1h0M1034.6 485.3h0M1038.4 485.1h0M1041.6 485.8h0M957.3 488.7h0M960.4 489.0h0M1000.4 488.6h0M1004.0 488.6h0M1007.2 488.4h0M1010.3 488.8h0M1014.0 488.6h0M1017.4 487.9h0M1019.9 488.6h0M1023.4 488.3h0M1026.8 489.1h0M1029.7 488.6h0M1033.0 488.4h0M1042.8 488.4h0M961.9 491.2h0M999.0 491.1h0M1004.9 491.7h0M1008.4 491.5h0M1011.5 491.4h0M1015.5 491.5h0M1018.2 491.5h0M1021.4 491.2h0M1025.3 491.0h0M1028.2 491.0h0M1031.4 491.6h0M1007.2 494.0h0M1010.2 494.5h0M1013.4 494.4h0M1016.6 494.4h0M1019.9 494.1h0M1026.9 494.5h0M853.8 128.5h0M861.4 122.8h0M853.8 139.9h0M855.7 151.3h0M858.5 168.4h0M866.1 176.0h0M858.5 176.0h0M713.1 283.4h0M722.2 283.4h0M720.2 292.5h0M831.0 252.2h0M824.0 260.3h0M827.0 270.3h0M839.0 294.5h0M833.0 284.4h0M811.9 269.3h0M1021.1 192.4h0M1016.2 201.4h0M1009.7 218.5h0M912.2 372.6h0M907.0 353.9h0M1127.9 325.1h0M1120.0 326.0h0"/></g>
</defs>

<use href="#grey" transform="translate(-672,0)"/>
<g transform="translate(-672,0)" fill="none" stroke-width="5.3" stroke-linecap="round">
<path stroke="#fdebac" d="M942.7 149.4h0M861.9 260.8h0M809.2 403.4h0M889.1 216.9h0M948.5 165.9h0M733.0 282.5h0M914.2 272.2h0M867.1 194.4h0M926.1 96.8h0M947.9 265.9h0M918.8 122.5h0M894.9 282.4h0M804.1 274.7h0M867.0 182.8h0M920.3 111.4h0M954.3 100.3h0M751.7 279.8h0M910.5 134.7h0M828.4 402.6h0M939.9 142.8h0M883.9 205.8h0M919.9 108.6h0M845.7 203.0h0M916.3 205.5h0M937.9 146.0h0M887.2 96.7h0M940.8 162.9h0M933.1 114.3h0M784.6 194.2h0M932.8 211.8h0M970.8 94.3h0M783.9 308.9h0M876.4 223.6h0M897.1 148.1h0M947.2 174.0h0M810.4 309.1h0M929.5 188.8h0M926.0 142.6h0M805.2 165.8h0M873.1 292.2h0M874.9 277.1h0M912.7 102.7h0M850.3 245.8h0M951.3 123.0h0M912.1 251.1h0M892.9 148.6h0M812.4 185.7h0M823.3 291.5h0M923.4 103.0h0M968.1 117.3h0M828.7 304.8h0M875.5 123.1h0M904.7 202.8h0M872.6 188.8h0M798.6 363.4h0M962.3 159.3h0M862.7 274.6h0M904.7 122.8h0M744.5 320.0h0M954.3 214.2h0M802.4 317.6h0M910.0 154.4h0M907.4 254.0h0M875.1 289.1h0M866.9 188.2h0M772.1 220.1h0M903.3 183.0h0M939.8 176.8h0M884.8 277.2h0M814.2 200.5h0M949.7 137.9h0M886.5 131.0h0M747.4 325.7h0M923.6 160.2h0M977.2 123.0h0M817.2 355.0h0M936.3 108.6h0M907.0 366.4h0M877.9 220.0h0M796.9 291.5h0M939.3 96.6h0M853.4 257.4h0M932.7 131.0h0M914.0 122.5h0M842.4 190.9h0M864.0 371.8h0M899.0 277.2h0M839.3 317.1h0M882.9 285.1h0M803.2 199.4h0M914.3 197.1h0M965.6 114.4h0M949.2 103.5h0M888.0 369.0h0M950.2 168.0h0M841.6 214.4h0M788.6 208.4h0M876.7 360.0h0M925.3 123.1h0M756.3 271.6h0M926.3 85.2h0M919.8 148.4h0M964.4 146.1h0M969.1 172.1h0M881.6 271.6h0M858.9 328.8h0M857.8 340.4h0M799.3 357.6h0M870.0 211.3h0M857.8 305.1h0M890.5 277.1h0M979.1 170.9h0M924.5 105.7h0M889.9 160.3h0M917.8 151.2h0M946.1 153.5h0M910.0 205.5h0M863.4 325.7h0M947.0 180.5h0M774.2 188.8h0M840.2 320.0h0M718.0 274.7h0M888.3 146.2h0M810.8 177.4h0M946.8 143.4h0M897.6 179.9h0M815.4 277.1h0M778.2 317.6h0M918.0 168.9h0M825.0 208.8h0M889.2 206.0h0M833.8 308.3h0M977.4 111.2h0M769.6 305.4h0M891.6 88.7h0M835.6 363.1h0M934.0 105.1h0M886.1 377.2h0M807.0 359.3h0M869.0 277.1h0M769.2 197.2h0M899.7 160.1h0M888.3 373.7h0M881.7 294.2h0M859.5 273.6h0M823.8 388.4h0M814.3 159.4h0M962.0 131.8h0M820.8 376.7h0M930.8 128.4h0M931.1 140.1h0M803.1 291.0h0M904.9 94.6h0M912.2 91.5h0M908.9 90.7h0M902.9 125.8h0M825.3 151.2h0M901.4 214.3h0M898.4 157.2h0M806.8 274.1h0M946.0 256.8h0M872.0 214.8h0M845.7 306.1h0M785.7 283.2h0M926.0 137.0h0M811.9 163.3h0M858.2 185.2h0M894.2 134.3h0M966.0 91.5h0M770.9 319.9h0M790.8 205.4h0M922.8 114.5h0M899.0 366.0h0M774.1 302.4h0M956.1 132.4h0M922.7 136.9h0M885.7 114.9h0M866.9 309.1h0M931.3 94.6h0M897.9 184.6h0M943.0 188.4h0M927.9 185.8h0M853.2 291.6h0M932.6 263.2h0M802.0 214.6h0M950.7 117.0h0M786.0 192.0h0M861.6 248.3h0M894.6 139.5h0M904.5 145.6h0M911.4 186.2h0M922.5 206.2h0M825.1 414.6h0M790.7 319.9h0M937.0 203.3h0M901.5 123.1h0M845.0 174.2h0M795.0 157.0h0M946.2 171.7h0M777.3 172.3h0M963.7 140.4h0M886.1 223.2h0M833.5 321.0h0M959.6 142.5h0M731.6 268.5h0M953.1 148.5h0M875.6 388.5h0M778.9 282.3h0M784.1 291.1h0"/>
<path stroke="#fde3a5" d="M921.0 123.1h0M749.7 334.7h0M844.0 250.7h0M907.8 134.1h0M949.5 172.1h0M943.7 134.8h0M908.2 123.0h0M809.1 151.9h0M875.0 283.0h0M916.2 125.9h0M956.0 143.2h0M901.6 180.1h0M896.1 153.9h0M866.3 269.0h0M927.3 145.8h0M899.7 206.1h0M909.8 125.5h0M814.1 165.4h0M903.2 153.5h0M787.2 200.3h0M827.0 280.0h0M893.0 137.3h0M969.4 97.3h0M880.3 154.8h0M888.5 105.9h0M891.8 214.5h0M888.1 157.9h0M854.9 327.9h0M906.2 182.5h0M733.0 305.6h0M868.5 227.1h0M924.2 185.3h0M879.5 269.0h0M981.5 136.7h0M891.0 271.5h0M886.4 126.5h0M782.1 201.8h0M888.4 133.9h0M901.2 140.3h0M837.7 393.7h0M772.5 175.4h0M890.7 119.6h0M835.1 179.5h0M872.7 200.4h0M967.2 145.8h0M899.3 102.5h0M903.4 108.7h0M803.6 160.0h0M869.9 205.8h0M876.8 131.7h0M952.3 108.6h0M930.9 111.5h0M949.3 154.0h0M929.5 109.4h0M733.7 385.7h0M804.1 313.6h0M810.3 360.6h0M945.5 206.0h0M924.4 277.5h0M879.5 394.0h0M824.6 260.1h0M953.0 139.9h0M748.0 291.2h0M808.6 162.9h0M816.6 154.0h0M719.9 368.5h0M773.4 162.9h0M960.7 168.5h0M958.2 71.5h0M740.4 294.2h0M840.4 330.8h0M937.6 93.9h0M906.6 142.5h0M915.7 114.7h0M947.8 249.1h0M983.7 145.7h0M944.5 213.6h0M961.6 155.4h0M943.7 117.3h0M898.3 134.5h0M943.1 183.0h0M947.0 259.9h0M901.7 169.0h0M935.4 188.9h0M911.3 156.7h0M980.3 117.2h0M960.6 117.3h0M821.1 154.0h0M920.9 150.5h0M815.8 163.3h0M862.9 193.9h0M932.2 91.5h0M972.9 171.2h0M727.8 388.6h0M785.8 288.8h0M782.2 323.7h0M764.0 285.9h0M875.5 325.7h0M933.5 200.2h0M875.2 197.8h0M755.6 317.0h0M862.9 267.5h0M902.5 360.1h0M746.2 316.6h0M877.3 211.1h0M806.9 388.2h0M808.9 408.1h0M750.9 274.6h0M977.5 105.9h0M849.9 251.0h0M847.0 262.8h0M821.5 363.2h0M905.3 194.0h0M772.1 282.8h0M921.3 185.3h0M973.7 129.0h0M859.1 168.4h0M881.6 93.8h0M739.9 277.0h0M962.6 115.1h0M798.9 403.2h0M721.4 279.4h0M918.1 157.0h0M771.4 337.6h0M909.7 171.7h0M779.0 203.9h0M912.6 138.0h0M714.2 276.9h0M948.8 120.0h0M888.2 219.6h0M787.4 297.1h0M924.4 88.1h0M820.3 399.8h0M738.1 326.0h0M956.9 111.0h0M957.1 125.6h0M964.9 143.4h0M865.3 271.5h0M817.3 212.1h0M868.1 260.0h0M787.5 366.0h0M856.9 279.9h0M932.3 171.0h0M743.7 277.8h0M939.5 114.5h0M922.2 261.4h0M795.8 351.2h0M967.4 186.1h0M859.6 205.3h0M744.8 313.5h0M833.2 366.6h0M865.1 242.3h0M969.7 145.4h0M813.5 194.1h0M878.4 271.5h0M906.4 137.1h0M785.8 271.5h0M866.2 325.6h0M936.5 114.3h0M961.4 150.7h0M962.4 119.9h0M968.5 154.7h0M837.2 313.3h0M866.9 126.0h0M947.1 151.1h0M881.8 249.1h0M738.0 308.4h0M868.1 327.9h0M937.8 133.7h0M923.1 166.4h0M935.3 148.2h0M799.2 288.7h0M849.9 319.8h0M878.6 179.8h0"/>
<path stroke="#fdda9c" d="M783.8 273.7h0M975.3 120.6h0M767.8 177.3h0M907.6 242.4h0M820.9 303.1h0M973.9 162.4h0M962.2 200.5h0M890.1 166.2h0M957.8 100.1h0M802.3 311.6h0M878.5 288.3h0M894.7 271.1h0M845.7 322.5h0M941.1 122.5h0M758.1 285.5h0M798.8 300.1h0M904.7 208.7h0M891.7 283.2h0M925.9 273.9h0M904.4 140.3h0M928.7 142.5h0M968.0 128.2h0M896.3 205.7h0M932.8 153.7h0M859.8 279.5h0M967.3 76.9h0M893.0 275.1h0M925.5 114.8h0M825.1 190.9h0M858.1 248.7h0M914.9 151.7h0M960.6 162.7h0M973.6 100.9h0M940.9 151.6h0M759.3 300.4h0M824.2 154.2h0M959.5 205.1h0M873.5 279.8h0M865.3 294.7h0M863.5 252.0h0M859.0 323.0h0M818.8 352.0h0M981.7 125.6h0M931.0 242.9h0M783.0 316.6h0M773.1 287.9h0M900.9 259.5h0M737.6 331.5h0M980.6 162.8h0M741.7 330.7h0M907.0 108.5h0M899.8 154.2h0M911.6 145.3h0M920.2 99.1h0M869.0 288.5h0M878.8 199.8h0M938.2 117.9h0M843.3 319.5h0M772.6 323.0h0M875.5 271.8h0M841.1 182.2h0M849.5 274.2h0M958.3 162.9h0M846.0 190.8h0M899.3 125.5h0M934.7 140.1h0M869.0 305.8h0M890.6 354.6h0M894.7 128.5h0M903.1 171.4h0M934.1 249.4h0M959.1 187.8h0M717.7 271.7h0M799.5 276.8h0M913.9 111.2h0M986.8 128.6h0M955.7 205.7h0M928.0 151.8h0M830.7 154.0h0M872.7 194.5h0M875.1 214.7h0M893.1 120.0h0M932.9 120.0h0M891.2 179.9h0M911.1 191.9h0M960.9 128.3h0M841.8 322.5h0M778.6 174.4h0M822.2 289.1h0M811.7 179.7h0M969.8 137.2h0M742.1 325.3h0M920.9 277.2h0M888.7 213.7h0M917.9 99.8h0M886.7 183.5h0M845.2 162.7h0M780.9 188.4h0M953.5 131.3h0M923.4 245.6h0M868.2 374.3h0M951.5 102.8h0M965.2 80.1h0M947.7 168.6h0M908.6 88.5h0M1172.0 146.0h0M964.2 82.5h0M800.7 302.7h0M947.8 100.0h0M805.7 151.5h0M795.3 305.5h0M916.5 171.5h0M913.0 166.3h0M825.0 180.1h0M838.4 306.5h0M886.2 274.9h0M719.8 266.1h0M801.0 183.4h0M873.4 114.4h0M881.1 254.6h0M828.3 225.7h0M933.3 194.2h0M957.1 76.4h0M874.3 334.4h0M734.3 314.7h0M890.9 94.9h0M896.4 222.5h0M761.3 308.5h0M815.6 300.2h0M884.3 203.8h0M812.4 356.8h0M942.4 177.8h0M1101.0 234.2h0M761.2 275.2h0M891.7 265.6h0M928.0 76.5h0M831.4 219.9h0M745.1 274.6h0M801.4 396.8h0M947.5 122.9h0M877.6 134.8h0M770.8 210.8h0M952.5 125.2h0M878.2 362.3h0M933.3 177.7h0M934.2 196.9h0M767.8 320.1h0M870.0 314.7h0M911.2 105.4h0M884.4 260.6h0M721.7 303.0h0M772.6 169.2h0M880.2 142.8h0M919.5 103.3h0M897.4 88.6h0M822.2 174.3h0M905.4 131.7h0M926.5 257.2h0"/>
<path stroke="#fed194" d="M827.0 166.6h0M830.0 406.1h0M960.3 197.5h0M767.8 280.1h0M955.0 108.1h0M805.6 413.5h0M855.8 325.8h0M952.7 154.2h0M814.9 362.8h0M869.6 245.5h0M825.2 398.4h0M777.8 279.7h0M924.6 214.3h0M764.6 290.8h0M884.7 248.2h0M971.9 189.1h0M957.1 89.0h0M926.5 239.9h0M810.9 154.4h0M1123.5 160.0h0M976.1 171.8h0M784.3 320.6h0M918.3 134.1h0M970.7 104.9h0M775.8 294.9h0M829.7 200.2h0M845.8 271.6h0M759.6 294.8h0M728.0 267.9h0M965.6 125.2h0M944.1 77.1h0M906.2 126.8h0M848.8 305.3h0M895.9 120.0h0M1053.0 271.0h0M792.5 322.9h0M744.2 308.1h0M847.1 199.9h0M784.3 159.6h0M923.2 154.5h0M815.2 175.0h0M949.7 251.5h0M810.4 343.3h0M901.4 202.2h0M857.2 337.3h0M890.0 154.8h0M800.5 212.2h0M934.1 173.9h0M972.7 160.0h0M929.6 131.7h0M925.3 116.9h0M782.3 282.5h0M1061.7 279.7h0M933.7 123.5h0M833.5 177.1h0M974.7 148.0h0M919.7 131.0h0M732.9 294.5h0M785.3 266.1h0M762.5 288.3h0M915.5 80.1h0M757.3 325.6h0M946.9 158.1h0M982.0 165.7h0M923.3 79.6h0M820.2 411.8h0M1065.7 185.3h0M845.4 255.0h0M907.8 277.6h0M792.0 300.1h0M881.4 99.6h0M795.7 202.5h0M905.6 149.0h0M937.2 157.8h0M806.0 209.2h0M863.8 182.7h0M952.8 143.1h0M931.0 254.5h0M951.2 205.5h0M885.7 140.8h0M815.4 368.2h0M891.8 117.7h0M870.9 289.1h0M956.5 194.4h0M853.3 268.1h0M771.2 314.3h0M888.4 277.4h0M954.5 117.3h0M891.1 363.1h0M782.6 162.8h0M1079.0 248.6h0M927.3 111.7h0M959.0 91.2h0M759.2 282.9h0M1102.5 243.2h0M731.0 279.7h0M818.6 208.2h0M765.5 317.5h0M928.0 173.7h0M752.4 334.3h0M913.1 126.4h0M973.8 122.6h0M879.9 285.6h0M825.1 202.9h0M829.5 151.3h0M916.4 143.2h0M960.9 133.3h0M927.4 139.8h0M824.4 280.3h0M885.4 99.9h0M940.9 106.3h0M835.0 399.8h0M802.2 231.7h0M781.0 268.5h0M879.5 148.7h0M777.6 177.5h0M822.2 157.2h0M911.2 197.3h0M787.9 285.8h0"/>
<path stroke="#feca8d" d="M1003.4 237.0h0M765.2 308.4h0M796.9 308.3h0M901.3 208.0h0M966.8 180.4h0M881.2 385.5h0M940.6 203.7h0M977.2 141.1h0M939.1 257.0h0M767.6 200.9h0M950.4 140.3h0M939.4 103.4h0M970.6 185.5h0M933.8 111.1h0M916.4 263.0h0M906.5 154.2h0M774.1 325.6h0M940.8 214.1h0M953.7 122.7h0M813.9 371.6h0M1097.6 137.8h0M1104.7 262.6h0M974.6 142.4h0M932.7 159.6h0M792.3 316.5h0M862.6 285.7h0M800.3 280.1h0M956.7 168.2h0M936.2 240.2h0M792.6 163.3h0M975.4 131.2h0M930.4 134.8h0M865.1 333.7h0M914.6 87.6h0M835.2 174.5h0M976.1 108.9h0M917.5 140.6h0M912.8 181.4h0M956.1 102.8h0M896.1 189.1h0M882.7 114.5h0M966.2 177.7h0M949.4 86.2h0M980.6 105.3h0M946.0 188.4h0M942.3 131.2h0M918.0 237.9h0M796.8 303.8h0M920.4 146.2h0M816.9 182.4h0M741.0 303.6h0M827.1 411.7h0M916.3 96.9h0M935.9 171.6h0M857.0 331.4h0M926.1 205.8h0M930.2 83.2h0M1141.8 134.7h0M873.6 314.1h0M884.6 197.5h0M919.7 125.4h0M886.9 292.1h0M882.4 280.2h0M949.5 211.6h0M1116.5 167.8h0M881.0 196.9h0M1068.4 177.2h0M777.5 269.6h0M931.2 99.7h0M824.3 400.3h0M791.9 237.2h0M729.6 317.1h0M886.1 388.4h0M912.6 148.1h0M731.5 331.8h0M1092.3 294.1h0M780.5 285.6h0M902.9 120.1h0M930.4 163.4h0M762.8 310.8h0M881.7 213.5h0M908.2 151.4h0M960.6 82.9h0M768.3 298.1h0M846.5 303.0h0M953.8 191.1h0M915.1 163.5h0M867.7 191.2h0M963.9 122.7h0M927.8 157.4h0M742.6 328.2h0M822.3 392.2h0M906.7 269.1h0M805.7 168.3h0M930.8 117.3h0M773.1 265.6h0M957.4 208.6h0M842.9 303.1h0M805.3 294.5h0M859.1 336.5h0M903.4 136.9h0M921.3 243.4h0M1067.6 240.2h0M1040.7 279.9h0M1114.5 188.3h0"/>
<path stroke="#fec185" d="M1140.8 199.3h0M972.2 108.7h0M878.5 322.5h0M802.4 300.1h0M1056.0 174.7h0M776.1 203.8h0M969.3 182.7h0M1002.0 228.6h0M874.8 385.3h0M1135.4 173.8h0M1127.3 149.2h0M961.8 207.6h0M812.8 402.7h0M952.6 160.0h0M900.5 107.4h0M879.6 137.2h0M895.0 197.3h0M956.9 94.5h0M911.6 129.0h0M1097.4 143.0h0M789.0 276.8h0M978.8 142.5h0M1150.3 172.2h0M892.2 185.3h0M785.1 172.3h0M933.4 157.5h0M890.7 162.6h0M909.4 194.0h0M907.2 262.9h0M904.3 253.6h0M1111.9 276.4h0M1141.5 148.0h0M901.6 88.1h0M810.9 280.2h0M934.0 208.4h0M764.5 275.0h0M778.7 214.8h0M911.4 111.8h0M854.0 337.7h0M1100.0 166.1h0M1129.2 151.4h0M893.5 143.3h0M800.6 320.2h0M791.9 220.6h0M893.5 126.0h0M1082.1 292.5h0M1105.8 134.3h0M1055.9 146.0h0M728.2 326.0h0M828.7 168.7h0M769.2 180.1h0M871.8 196.6h0M730.2 374.4h0M981.7 120.1h0M898.1 191.6h0M1030.0 220.4h0M919.7 114.8h0M807.3 342.4h0M1059.8 282.3h0M1082.8 289.0h0M882.4 208.9h0M800.4 194.2h0M893.4 211.2h0M731.8 314.1h0M1089.2 259.3h0M734.5 280.0h0M835.1 197.3h0M931.9 165.8h0M887.6 186.0h0M919.5 239.5h0M787.3 160.0h0M810.7 371.5h0M1091.0 274.1h0M787.7 211.5h0M829.2 288.2h0M947.9 140.5h0M815.6 351.6h0M1147.3 137.8h0M1078.1 263.1h0M1089.2 271.9h0M973.7 186.0h0M883.6 216.8h0M1080.0 282.0h0M1033.7 179.6h0M822.2 385.5h0M853.5 251.7h0M937.3 208.7h0M1096.3 243.5h0M925.5 126.0h0M883.2 353.8h0M903.3 211.6h0M797.4 286.1h0M961.9 165.6h0M1045.2 171.1h0M916.7 153.9h0M1109.4 271.3h0M804.9 179.9h0M1026.9 220.5h0M934.7 145.3h0M1086.2 288.8h0M1142.3 163.1h0M1106.0 167.9h0M937.2 99.9h0M1073.3 271.6h0M811.0 354.9h0"/>
<path stroke="#feb77e" d="M1112.5 260.1h0M736.4 265.2h0M921.6 77.5h0M714.5 274.7h0M1163.4 148.3h0M937.8 128.7h0M832.2 181.2h0M932.6 405.7h0M975.9 337.1h0M908.4 208.4h0M867.0 257.4h0M1125.3 271.6h0M821.1 279.5h0M956.7 299.2h0M936.9 183.1h0M947.2 191.1h0M1043.0 185.5h0M1098.0 160.2h0M982.3 325.9h0M836.0 357.0h0M1013.7 413.8h0M896.2 125.3h0M858.4 317.0h0M1121.9 156.2h0M1011.7 285.9h0M938.9 411.5h0M984.4 305.5h0M1115.8 374.5h0M951.2 145.4h0M1078.5 286.3h0M765.1 332.1h0M1089.3 265.9h0M1138.1 188.8h0M871.5 146.1h0M1115.6 162.8h0M879.3 353.8h0M844.0 451.3h0M830.9 410.6h0M1117.1 194.5h0M1007.4 231.6h0M846.8 182.4h0M929.3 159.9h0M1039.7 174.6h0M812.6 157.3h0M1005.7 360.5h0M1125.8 334.7h0M941.1 334.6h0M949.5 108.7h0M937.2 477.4h0M1015.5 319.7h0M1158.6 134.2h0M946.3 177.0h0M882.7 222.8h0M1081.4 405.7h0M957.1 294.9h0M826.7 177.9h0M1061.0 273.8h0M784.1 211.7h0M1145.9 180.1h0M751.4 331.1h0M955.6 485.6h0M926.0 183.2h0M1097.2 286.3h0M946.1 119.9h0M1114.0 285.1h0M875.4 265.5h0M927.8 128.4h0M1111.9 334.2h0M1059.7 173.6h0M1115.2 277.2h0M915.5 108.5h0M878.1 368.6h0M1084.4 274.4h0M823.2 211.9h0M912.0 442.6h0M776.9 434.2h0M950.6 419.9h0M1129.0 197.9h0M869.0 466.2h0M912.9 176.0h0M923.2 119.4h0M1092.6 351.5h0M1004.0 442.6h0M919.1 309.0h0M836.8 308.7h0M950.2 93.7h0M1083.2 237.3h0M1018.2 428.4h0M1053.7 185.2h0M1133.9 183.2h0M1111.9 269.3h0M1084.7 251.1h0M916.4 256.8h0M854.9 465.8h0M848.7 191.0h0M720.7 288.9h0M1100.6 137.2h0M884.6 146.5h0M1013.5 494.4h0M888.6 260.6h0M819.7 197.2h0M924.2 99.9h0M861.2 185.8h0M769.8 436.7h0M759.2 454.4h0M848.6 272.0h0M1023.1 346.5h0M1131.0 354.3h0M903.0 114.3h0M970.7 100.2h0M1124.3 143.1h0M790.8 234.7h0M885.5 385.2h0M932.7 182.5h0M1102.8 156.1h0M1140.9 165.4h0M947.3 184.9h0M1000.9 234.0h0M989.5 459.2h0M780.7 309.3h0M1009.8 288.7h0M937.6 340.2h0M1008.6 411.3h0M931.5 181.0h0M802.3 288.9h0M945.5 194.6h0M900.5 90.7h0M961.7 103.0h0M989.5 279.8h0M932.6 97.0h0M1005.6 416.7h0M882.9 417.2h0M962.4 137.3h0M774.0 217.0h0M846.8 463.8h0M1118.8 139.6h0M1109.1 294.1h0M870.8 269.1h0M919.7 451.2h0M874.6 312.4h0M1095.9 362.4h0M795.6 288.6h0M934.4 345.6h0M779.1 419.2h0M859.8 440.3h0M743.5 289.2h0M1097.5 246.0h0"/>
<path stroke="#feb078" d="M959.2 131.0h0M1143.9 171.8h0M922.5 142.7h0M1139.9 154.1h0M966.1 360.2h0M940.7 145.7h0M766.3 334.3h0M825.6 311.8h0M1005.5 222.6h0M841.4 203.0h0M723.7 266.0h0M1157.2 142.6h0M785.9 202.9h0M824.0 188.8h0M907.8 174.6h0M1076.3 282.0h0M1150.6 136.3h0M876.6 122.1h0M927.7 163.0h0M1076.3 174.1h0M1119.0 374.3h0M1047.0 214.1h0M808.2 185.7h0M965.7 132.0h0M911.3 243.2h0M911.1 425.6h0M1134.5 360.1h0M927.0 277.4h0M946.6 411.7h0M1149.1 191.7h0M1018.1 491.5h0M837.8 312.0h0M1102.5 281.9h0M1028.2 428.8h0M975.8 417.3h0M934.6 133.4h0M956.0 457.3h0M1117.9 239.3h0M1044.7 165.7h0M1078.9 168.5h0M1100.7 256.4h0M959.0 165.7h0M1107.9 143.1h0M1159.6 154.7h0M1137.1 137.3h0M939.5 148.5h0M1099.2 127.9h0M956.3 274.2h0M938.9 125.6h0M886.6 383.8h0M740.9 320.5h0M977.5 162.6h0M1109.1 151.2h0M1099.0 288.8h0M947.8 253.8h0M1039.3 156.8h0M1108.0 286.1h0M1029.7 225.4h0M858.4 311.6h0M794.2 314.5h0M817.5 285.9h0M961.0 156.7h0M731.5 388.5h0M1048.2 154.7h0M772.4 420.6h0M1114.4 262.7h0M1121.8 249.1h0M714.8 262.5h0M818.9 157.3h0M965.8 337.0h0M1097.2 283.3h0M896.9 377.5h0M862.7 308.5h0M777.5 445.9h0M1160.0 142.1h0M908.2 111.7h0M786.2 328.0h0M805.5 174.6h0M1094.4 257.3h0M881.7 185.8h0M1054.6 274.5h0M754.7 332.2h0M1101.1 154.1h0M939.7 188.7h0M1013.5 373.7h0M929.5 120.8h0M753.3 277.5h0M775.2 414.1h0M774.5 182.2h0M820.6 382.6h0M828.3 362.3h0M929.2 211.7h0M1106.8 291.5h0M918.1 272.2h0M1136.6 183.1h0M1099.6 140.9h0M939.0 131.0h0M849.6 336.8h0M1029.1 228.8h0M1120.7 158.9h0M914.1 157.3h0"/>
<path stroke="#fea772" d="M963.3 192.5h0M1128.9 379.8h0M752.4 431.3h0M1080.4 274.3h0M858.7 281.8h0M1167.1 136.7h0M750.3 449.3h0M918.8 182.5h0M962.1 337.3h0M1012.0 354.4h0M777.7 205.5h0M908.1 453.6h0M1128.6 139.3h0M944.1 317.1h0M938.2 151.7h0M936.1 474.4h0M937.8 323.6h0M939.1 211.1h0M915.2 320.0h0M801.9 345.5h0M1020.0 345.2h0M1049.5 162.2h0M1122.2 146.2h0M882.8 211.0h0M926.0 131.5h0M893.7 155.0h0M749.5 276.6h0M1116.9 245.2h0M999.2 364.8h0M762.8 448.5h0M973.9 442.9h0M945.6 331.6h0M905.4 186.0h0M800.5 314.2h0M822.1 203.3h0M740.3 379.6h0M848.7 328.9h0M759.1 431.6h0M958.9 463.2h0M750.2 288.6h0M1009.8 218.7h0M956.9 270.7h0M1074.7 252.2h0M1067.7 275.1h0M1112.6 134.2h0M1110.7 125.4h0M1121.0 331.4h0M848.0 248.5h0M1079.1 260.2h0M1056.9 288.8h0M879.5 91.3h0M939.1 120.1h0M741.3 429.0h0M926.0 194.8h0M1126.9 252.3h0M912.8 159.9h0M1099.6 260.4h0M1126.6 257.3h0M1121.2 149.4h0M1082.7 271.3h0M887.3 101.8h0M1099.8 148.1h0M1105.9 282.3h0M1126.9 275.3h0M1111.0 274.0h0M883.3 142.8h0M1017.4 277.2h0M830.2 359.3h0M1128.1 342.5h0M1141.3 177.1h0M808.6 311.2h0M825.7 174.1h0M851.3 443.3h0M936.9 408.7h0M1123.7 189.6h0M870.5 223.2h0M1015.2 280.3h0M1049.8 272.1h0M1118.8 248.6h0M746.8 419.7h0M882.6 268.3h0M1094.1 388.1h0M783.4 428.7h0M1155.5 151.4h0M1149.0 168.5h0M1167.6 160.1h0M918.7 143.0h0M959.1 114.5h0M1119.0 152.6h0M921.4 248.8h0M978.8 290.8h0M1055.2 280.4h0M1153.9 138.0h0M983.7 391.6h0M955.6 115.2h0"/>
<path stroke="#fe9d6c" d="M959.2 154.3h0M1158.6 174.9h0M1046.8 186.0h0M917.9 437.4h0M1085.6 277.6h0M1109.8 289.0h0M1093.8 254.5h0M833.9 468.6h0M1109.3 282.3h0M1109.4 345.4h0M1120.1 188.8h0M1063.3 277.7h0M1100.6 126.2h0M1094.3 274.6h0M801.4 409.7h0M950.4 135.3h0M943.6 471.1h0M1021.7 360.6h0M767.7 268.9h0M1074.5 279.7h0M1135.4 134.6h0M1086.5 248.2h0M941.6 208.5h0M848.7 334.3h0M905.3 256.8h0M1132.7 174.8h0M1004.5 474.4h0M1050.6 429.0h0M906.4 119.8h0M959.6 479.7h0M945.4 429.5h0M883.5 194.0h0M1010.0 265.5h0M981.3 172.2h0M1016.8 380.1h0M1045.4 277.6h0M922.9 332.0h0M1136.9 193.9h0M935.6 90.8h0M1021.7 417.3h0M847.0 212.3h0M1069.7 174.0h0M922.7 126.5h0M962.9 463.0h0M1040.4 219.7h0M1034.8 452.0h0M947.7 425.6h0M1023.3 219.7h0M778.2 199.5h0M995.1 417.7h0M1116.2 270.6h0M827.5 446.6h0M1159.3 131.9h0M944.9 174.0h0M754.9 428.9h0M996.7 465.9h0M933.6 94.7h0M1135.7 145.7h0M1165.2 134.2h0M774.2 434.2h0M959.1 319.8h0M909.3 428.8h0M911.7 168.1h0M916.9 188.7h0M1053.0 431.2h0M1020.2 168.3h0M953.8 151.5h0M815.9 191.0h0M962.6 366.1h0M992.2 451.6h0M1064.2 285.8h0M1112.5 128.9h0M1023.8 168.5h0M1010.3 380.0h0M1089.1 345.8h0M1034.5 473.9h0M1096.0 225.8h0M928.7 437.2h0M767.6 422.9h0M1120.7 246.2h0M1048.0 183.2h0M882.0 363.2h0M909.9 451.3h0"/>
<path stroke="#fd9668" d="M1066.8 231.7h0M998.8 463.5h0M941.2 185.8h0M1133.2 269.1h0M1023.0 470.9h0M806.1 192.1h0M941.2 300.8h0M1122.4 259.9h0M954.6 339.7h0M720.7 292.9h0M1023.1 351.4h0M1133.6 354.0h0M1026.0 482.9h0M1058.1 137.5h0M778.0 423.2h0M1056.9 277.6h0M1098.3 251.0h0M978.7 445.9h0M1104.1 165.5h0M1125.7 157.3h0M1127.3 126.3h0M1038.7 149.6h0M781.3 320.3h0M1157.0 176.9h0M1074.0 285.7h0M829.8 466.0h0M1132.2 145.4h0M1152.3 179.9h0M1023.5 488.4h0M761.3 268.8h0M1043.5 489.1h0M983.9 276.8h0M1013.4 465.9h0M1025.0 223.4h0M1083.3 226.4h0M1055.2 171.9h0M849.6 479.6h0M1091.5 348.6h0M1147.4 149.3h0M860.0 451.5h0M1033.4 448.9h0M1088.8 283.1h0M1133.6 177.2h0M863.2 440.1h0M925.1 151.8h0M1147.7 134.8h0M964.3 93.8h0M827.4 193.1h0M1095.1 222.5h0M1096.2 236.4h0M984.1 329.1h0M1095.8 397.8h0M947.9 163.0h0M766.5 448.1h0M752.8 425.4h0M1044.7 439.4h0M1128.7 374.0h0M752.5 266.0h0M929.1 103.2h0M970.3 442.1h0M1132.0 340.3h0M988.6 446.1h0M990.5 345.7h0M891.3 151.9h0M1158.6 140.1h0M1101.4 159.7h0M1027.1 363.2h0M980.8 425.2h0M857.8 202.7h0M835.4 477.1h0M1106.9 131.9h0M995.9 434.4h0M926.3 475.2h0M1084.0 256.6h0M1106.8 125.5h0M1078.6 240.0h0M1053.2 174.6h0M1092.2 248.6h0M774.0 263.3h0M1112.2 163.4h0M1018.6 480.8h0M999.0 429.6h0M888.0 431.2h0M995.0 360.0h0M1147.7 142.6h0M946.7 283.5h0M1113.4 251.4h0M982.0 343.5h0M991.3 456.6h0M977.1 277.2h0M1012.1 479.1h0M764.3 411.4h0M1091.0 252.4h0M1013.1 271.2h0M1121.4 345.7h0M1037.3 442.3h0M939.3 359.8h0"/>
<path stroke="#fc8c63" d="M1007.0 454.1h0M908.0 464.3h0M1058.1 291.6h0M1096.6 276.6h0M1029.7 157.5h0M969.1 268.4h0M1116.7 251.0h0M968.8 440.0h0M941.5 328.4h0M1021.5 463.5h0M1137.6 165.2h0M939.4 463.1h0M1015.5 491.6h0M1118.5 142.4h0M994.9 388.6h0M959.1 177.3h0M1013.8 282.5h0M887.9 208.4h0M1107.8 365.5h0M1108.2 234.4h0M746.5 437.8h0M1057.6 183.6h0M988.2 345.6h0M1018.5 417.3h0M1016.7 374.8h0M1002.0 331.9h0M1009.6 333.8h0M960.3 483.1h0M974.6 454.0h0M1102.7 259.9h0M1084.0 359.4h0M1131.0 257.0h0M749.9 311.8h0M929.3 474.2h0M871.2 248.2h0M1025.1 485.9h0M1031.5 479.9h0M918.9 474.5h0M1102.6 289.0h0M958.4 405.6h0M992.0 320.0h0M904.3 425.5h0M769.9 426.6h0M1109.6 134.8h0M950.3 363.4h0M987.2 357.2h0M1049.2 443.4h0M1128.3 191.6h0M1114.7 361.0h0M1079.5 396.9h0M919.3 445.1h0M876.6 428.4h0M962.3 485.5h0M1038.8 434.9h0M832.2 465.8h0M743.1 437.1h0M1026.0 425.4h0M1053.6 179.9h0M1044.5 452.1h0M960.6 317.3h0M998.5 417.4h0M971.0 448.0h0M1103.8 343.5h0M990.3 448.9h0M1025.5 439.6h0M1121.8 171.1h0M1017.1 265.9h0M1087.3 394.5h0M967.5 431.6h0M1091.5 228.8h0M1001.8 349.0h0M1154.3 354.0h0M966.3 354.2h0M769.8 448.3h0M949.4 281.2h0M1011.0 271.2h0M1115.8 157.2h0M880.1 422.7h0M1137.7 377.0h0M961.4 466.1h0M1106.2 340.2h0M1132.4 152.0h0M994.7 371.5h0M976.9 345.4h0M995.4 326.2h0M988.0 471.6h0M1010.4 448.7h0M1011.6 411.5h0M907.9 197.1h0M972.2 422.3h0M1118.3 371.9h0M1103.7 240.3h0M1088.0 274.1h0M1054.6 468.7h0"/>
<path stroke="#fb835f" d="M882.8 468.7h0M1093.8 365.8h0M1105.9 335.4h0M821.6 460.5h0M883.6 434.5h0M927.6 465.2h0M825.4 442.7h0M952.0 325.9h0M857.9 448.8h0M909.8 445.6h0M1007.5 343.0h0M990.4 329.7h0M842.5 465.9h0M1054.8 474.5h0M1043.6 436.9h0M749.5 431.6h0M1093.1 282.7h0M842.0 459.9h0M757.4 450.9h0M998.5 469.1h0M1051.3 456.8h0M947.1 322.4h0M946.2 343.2h0M864.4 289.0h0M892.7 439.9h0M1108.1 359.6h0M1008.6 491.8h0M1037.7 450.8h0M900.4 460.0h0M990.5 357.2h0M764.3 434.0h0M1053.2 162.8h0M744.5 434.7h0M936.3 446.7h0M1048.1 434.0h0M1023.5 294.2h0M1026.7 494.4h0M963.3 300.5h0M944.9 405.6h0M1109.5 162.9h0M759.3 449.0h0M1160.9 148.2h0M886.5 418.0h0M1015.0 365.9h0M924.8 317.3h0M1146.1 133.7h0M937.5 437.2h0M948.7 422.9h0M868.2 254.6h0M960.1 408.8h0M1113.9 245.9h0M1009.1 387.8h0M1031.5 417.6h0M1065.5 177.2h0M755.5 442.9h0M869.8 452.1h0M926.5 463.2h0M868.7 184.8h0M1044.6 468.6h0M970.6 351.2h0M915.2 454.1h0M1167.6 143.2h0M990.0 368.5h0M1043.1 448.6h0M945.4 480.9h0M749.4 421.0h0M1069.4 271.5h0M1004.7 492.2h0M922.7 473.8h0M992.5 377.2h0M926.1 434.1h0M912.5 84.9h0M1102.7 162.6h0M1078.8 400.3h0M951.8 475.3h0M875.1 425.9h0M1120.5 274.7h0M1154.1 131.6h0M997.9 423.3h0M995.5 474.8h0M830.6 456.8h0M817.5 297.7h0M881.1 430.7h0M1145.7 128.8h0M1070.8 160.5h0M1042.1 463.2h0M985.5 354.0h0M862.0 459.0h0M1135.9 363.2h0M951.3 191.0h0M1031.6 429.3h0M1007.2 460.8h0M1029.0 359.7h0M856.0 435.2h0M927.8 471.2h0M1072.0 282.7h0M1041.0 223.3h0M1159.5 128.5h0M1035.3 444.7h0M739.6 323.4h0M987.0 385.2h0M988.3 428.9h0M1030.2 356.6h0M950.1 414.2h0M1165.6 145.7h0M1139.8 128.5h0M960.6 471.2h0M944.2 459.9h0M980.1 299.7h0M961.9 321.0h0M995.5 343.0h0M907.3 463.1h0M986.7 460.8h0M867.7 451.5h0M913.2 450.7h0"/>
<path stroke="#f97b5d" d="M986.7 293.9h0M842.1 448.6h0M861.2 465.6h0M1099.1 402.5h0M955.3 360.1h0M1048.2 457.8h0M1100.6 343.2h0M966.6 449.1h0M1059.7 168.7h0M1013.5 425.9h0M992.1 427.8h0M937.9 328.8h0M1131.1 365.4h0M957.0 306.1h0M1024.7 422.1h0M1105.8 174.6h0M1010.4 390.5h0M1108.8 139.0h0M943.8 454.1h0M959.0 416.4h0M1019.9 488.4h0M982.5 451.8h0M978.4 366.0h0M1024.9 446.2h0M956.9 477.4h0M1023.8 225.0h0M1109.5 242.4h0M1106.6 257.3h0M975.6 440.1h0M952.4 480.5h0M779.6 431.6h0M982.5 308.2h0M1130.1 342.5h0M1147.0 360.3h0M789.1 310.9h0M912.5 434.3h0M924.3 322.8h0M1153.2 183.1h0M1035.0 485.2h0M888.0 419.4h0M1018.8 348.4h0M848.5 471.1h0M937.9 443.4h0M1122.7 197.3h0M989.8 453.9h0M992.0 422.4h0M965.5 439.3h0M1161.8 174.7h0M985.6 297.7h0M1083.9 400.0h0M1084.6 394.7h0M960.1 443.8h0M934.5 414.1h0M905.9 451.7h0M919.7 320.5h0M960.5 328.1h0M1105.8 288.8h0M1025.2 366.4h0M1151.9 157.1h0M939.7 446.4h0M964.5 443.1h0M924.5 465.2h0M976.5 265.8h0M1091.6 360.2h0M1134.3 376.5h0M995.0 308.4h0M755.6 414.2h0M771.0 439.9h0M909.9 473.3h0M761.2 412.1h0M1123.1 334.7h0M1123.7 370.8h0M987.7 339.7h0M1141.7 363.2h0M965.2 422.5h0M923.1 439.6h0M1104.0 359.6h0M1081.1 343.5h0M1104.4 170.8h0M951.0 294.3h0M1109.2 179.9h0M878.2 419.4h0M1115.0 134.5h0M1162.0 146.6h0M1012.0 331.7h0M1050.5 439.4h0M980.9 345.5h0M1000.0 333.7h0M750.8 440.3h0M835.7 449.1h0M986.1 326.2h0M839.7 463.2h0M1039.9 466.6h0M1016.0 274.5h0M1005.1 382.8h0M1007.3 448.6h0M1024.5 462.2h0M967.9 420.4h0M946.1 474.7h0M1044.6 463.3h0M772.6 437.1h0M1134.5 165.6h0M999.0 332.0h0M1096.0 391.7h0M945.5 280.7h0M1162.1 134.6h0M749.4 454.2h0M827.3 468.1h0M918.2 427.7h0M1106.5 231.8h0M909.5 462.1h0M1104.5 291.6h0M1011.4 269.2h0M1025.0 457.6h0M1015.6 474.5h0M948.3 311.2h0M1018.2 440.4h0M1127.2 262.5h0M747.7 417.2h0M851.7 437.0h0M1017.9 434.5h0M917.6 470.8h0M1099.5 163.4h0M982.4 457.4h0M1052.3 466.1h0M1135.5 340.3h0M1036.6 471.7h0"/>
<path stroke="#f7725c" d="M1099.5 265.4h0M981.6 365.5h0M1043.3 219.4h0M932.3 325.3h0M1123.4 366.0h0M906.5 468.1h0M764.5 445.7h0M761.4 451.3h0M751.5 445.7h0M846.1 480.2h0M1025.2 331.7h0M870.3 434.3h0M750.8 417.5h0M918.0 454.2h0M853.0 441.3h0M1020.3 420.6h0M941.8 325.8h0M1013.6 437.5h0M1107.8 165.9h0M1126.1 276.3h0M991.7 353.8h0M1028.2 463.0h0M874.5 420.0h0M947.4 414.2h0M936.5 354.1h0M904.7 471.6h0M993.7 454.7h0M974.3 431.9h0M978.5 422.5h0M1115.2 334.7h0M1031.9 485.9h0M903.5 456.6h0M973.0 439.6h0M761.6 434.5h0M1089.7 357.4h0M966.1 480.6h0M1009.0 365.4h0M1002.3 411.4h0M1006.0 319.8h0M992.4 314.2h0M1003.9 448.8h0M869.5 428.9h0M1029.1 475.1h0M939.7 331.1h0M936.6 348.8h0M995.4 366.2h0M1021.3 486.4h0M742.7 431.0h0M1006.4 306.5h0M984.0 414.3h0M870.0 457.8h0M997.2 443.3h0M980.0 385.7h0M962.0 342.6h0M1102.4 362.9h0M966.8 454.5h0M982.0 376.8h0M747.3 445.8h0M948.3 411.5h0M1005.0 462.6h0M1090.9 262.3h0M1094.7 411.4h0M980.4 437.4h0M931.4 420.0h0M768.0 416.9h0M1133.3 371.3h0M1038.5 440.0h0M999.8 299.8h0M993.1 288.1h0M958.5 458.0h0M983.3 345.1h0M960.8 477.2h0M1100.6 251.3h0M865.3 443.4h0M1006.8 426.3h0M996.2 368.4h0M1004.3 460.5h0M1079.8 409.1h0M1030.4 425.6h0M761.0 417.4h0M1038.3 469.3h0M1045.0 457.8h0M1001.3 286.0h0M975.1 445.5h0M1137.3 349.1h0M988.1 343.0h0M1131.7 362.6h0M762.3 426.1h0M775.8 431.0h0M851.2 459.6h0M932.8 468.4h0M838.8 436.8h0M927.5 322.5h0M1000.9 489.1h0M903.5 429.4h0M1036.5 477.8h0M958.0 303.0h0M1009.8 385.1h0M751.0 422.4h0M963.6 305.4h0M750.0 426.0h0M742.8 420.8h0M993.7 482.8h0M1111.2 353.8h0M1012.0 273.8h0M997.0 448.6h0M978.9 434.0h0M782.2 431.9h0M780.6 428.6h0M872.0 430.9h0M1145.4 351.0h0M1049.4 477.3h0M919.9 462.7h0M748.0 434.9h0M952.0 320.3h0M1125.9 380.1h0M995.4 463.4h0M1117.4 189.2h0M993.6 356.7h0M996.0 437.3h0M967.6 293.9h0M775.6 425.8h0M1016.8 477.9h0M764.3 440.4h0M960.7 488.8h0M939.1 291.3h0M1135.3 357.8h0M1122.2 271.4h0M894.0 419.9h0M1028.2 365.3h0M1127.4 371.2h0M1000.1 482.6h0M886.4 423.0h0M921.8 329.4h0M937.3 294.7h0M1029.7 477.0h0M761.0 446.3h0M1130.5 251.8h0M1013.2 477.3h0M946.1 274.4h0M1133.8 343.0h0M1095.1 336.9h0M928.2 462.5h0M1100.8 417.1h0M1023.7 380.0h0M929.8 326.0h0M1002.0 463.5h0M1043.3 140.5h0M744.6 422.7h0M904.0 454.4h0M1148.3 179.4h0M984.8 337.2h0M962.0 490.6h0"/>
<path stroke="#f4695c" d="M960.2 362.7h0M1136.7 342.6h0M1037.8 417.4h0M1052.8 426.2h0M1023.8 426.1h0M1148.0 160.9h0M1007.6 352.0h0M1023.4 328.7h0M967.0 437.3h0M993.7 414.7h0M1020.2 386.3h0M939.7 440.2h0M937.0 362.3h0M1117.2 342.8h0M1002.0 342.8h0M1097.8 263.4h0M948.8 325.5h0M1033.3 420.4h0M984.3 420.0h0M1031.2 457.2h0M1021.5 371.3h0M1092.7 415.1h0M891.0 425.4h0M1144.7 345.5h0M1008.7 287.0h0M925.5 468.1h0M850.5 452.5h0M1025.9 300.3h0M842.2 431.3h0M749.5 436.9h0M1021.7 353.9h0M1095.9 408.6h0M923.6 319.9h0M1092.4 339.8h0M891.9 431.8h0M1064.9 171.1h0M997.0 333.5h0M1008.9 457.4h0M1082.5 397.7h0M944.2 351.1h0M913.9 448.5h0M1120.3 359.7h0M943.5 420.3h0M1010.8 323.0h0M1013.2 277.1h0M1132.5 350.5h0M1028.6 325.7h0M1141.3 371.7h0M1089.3 414.1h0M1124.9 131.0h0M1079.8 277.1h0M1083.3 356.7h0M979.0 343.4h0M952.1 463.1h0M954.5 276.9h0M988.6 371.8h0M764.7 428.0h0M930.9 323.0h0M998.4 474.7h0M843.6 435.3h0M946.4 468.6h0M1002.2 377.9h0M1029.4 442.9h0M970.5 339.6h0M991.8 479.8h0M1139.0 369.6h0M1009.8 477.6h0M1043.5 431.5h0M1012.1 376.9h0M963.6 271.4h0M775.5 437.1h0M1007.1 311.4h0M950.5 476.9h0M937.7 402.8h0M877.6 465.7h0M987.0 288.7h0M1042.3 442.8h0M878.5 431.7h0M977.1 299.6h0M1122.1 140.0h0M972.6 303.3h0M1080.6 223.4h0M1008.5 462.9h0M1023.1 443.5h0M935.2 417.3h0M754.5 423.1h0M956.5 287.9h0M976.2 451.2h0M969.0 337.2h0M978.4 420.7h0M947.5 357.2h0M1075.4 403.2h0M1015.0 390.0h0M985.0 468.2h0M1025.7 480.0h0M752.8 420.0h0M772.0 414.2h0M1134.0 348.7h0M838.5 477.1h0M1146.7 366.1h0M1021.7 451.4h0M957.3 437.5h0M1103.4 351.5h0M990.7 271.6h0M837.6 434.3h0M989.2 268.0h0M920.8 443.3h0M777.5 451.6h0M899.7 428.9h0M959.5 434.1h0M875.1 465.4h0M934.8 466.3h0M1091.5 344.0h0M1018.4 474.3h0M1031.9 469.2h0M954.1 294.0h0M1023.3 465.2h0M1018.6 451.3h0M863.7 457.2h0M782.5 442.8h0M1007.2 493.7h0M1084.9 263.1h0M973.4 328.7h0M949.8 474.5h0M938.8 320.3h0M1008.5 440.3h0M1043.5 191.6h0M915.7 451.8h0M772.3 442.8h0M1100.5 393.9h0M1100.3 399.8h0M1021.9 377.5h0M1156.0 351.0h0M1086.5 339.4h0M1026.2 358.1h0M1091.6 400.1h0M831.9 442.9h0M1038.5 457.0h0M851.4 454.5h0M923.4 325.5h0M977.1 305.3h0M1104.6 417.9h0M969.5 266.6h0M756.3 436.8h0M1146.6 348.4h0M1098.4 365.9h0M974.1 288.2h0M987.2 379.9h0M1021.5 326.2h0M938.8 348.7h0M1014.8 433.6h0M862.8 469.0h0M1019.7 340.3h0M991.8 462.7h0M1120.4 377.4h0M1092.6 333.9h0M848.8 442.8h0M1018.8 445.9h0M1041.9 440.0h0M1109.5 356.7h0M1019.4 437.4h0M1021.6 291.7h0M993.2 420.3h0M1035.2 428.5h0M943.9 277.5h0M1096.9 348.7h0M1117.7 377.2h0M880.0 468.9h0M928.0 317.6h0M1005.7 364.9h0M1016.6 363.3h0"/>
<path stroke="#f2625d" d="M977.1 454.3h0M919.8 456.7h0M1013.7 356.9h0M917.9 460.5h0M1050.1 425.5h0M1011.8 491.7h0M985.5 388.8h0M915.6 468.9h0M957.2 420.3h0M941.3 340.5h0M1089.1 339.5h0M1015.0 440.1h0M957.8 322.4h0M1001.7 486.0h0M1062.3 271.6h0M1102.4 408.9h0M973.8 272.2h0M1030.0 295.2h0M946.2 354.2h0M996.0 451.4h0M1116.6 140.2h0M952.6 405.9h0M1049.0 455.0h0M1115.7 357.1h0M1087.3 353.6h0M1011.8 422.6h0M1002.1 479.8h0M1013.3 334.1h0M839.6 456.9h0M765.9 414.8h0M1045.0 428.2h0M1094.8 394.8h0M1007.1 419.4h0M967.0 351.3h0M1126.7 359.7h0M853.2 469.0h0M1120.5 337.0h0M962.3 292.2h0M1122.4 163.4h0M1002.5 360.0h0M762.4 413.9h0M1168.7 151.2h0M992.9 475.1h0M844.9 453.9h0M1016.7 494.0h0M956.7 308.4h0M986.7 449.1h0M863.2 445.5h0M1117.5 125.5h0M975.6 292.4h0M1099.5 362.5h0M1096.5 231.9h0M962.8 360.3h0M993.5 459.7h0M1046.6 477.7h0M1034.8 469.8h0M959.1 280.2h0M776.1 443.2h0M942.0 360.1h0M1012.1 326.0h0M1102.7 345.9h0M982.1 269.0h0M984.0 374.6h0M1023.7 311.5h0M1100.6 274.6h0M984.5 431.1h0M1137.1 177.0h0M869.9 474.9h0M762.8 454.6h0M957.5 471.6h0M1042.7 471.7h0M1114.9 171.3h0M1117.9 263.3h0M878.1 471.7h0M1033.4 432.0h0M948.9 342.5h0M1042.2 468.4h0M1038.9 479.6h0M1111.9 188.4h0M1121.2 347.5h0M1033.1 465.7h0M1012.6 297.4h0M936.2 468.8h0M1010.5 282.7h0M985.1 267.7h0M1044.8 434.6h0M967.3 414.1h0M1002.0 440.6h0M1107.0 273.8h0M917.2 443.0h0M768.0 428.5h0M1015.7 372.0h0M1128.7 345.5h0M970.6 276.7h0M890.1 434.4h0M957.4 334.1h0M1007.1 316.6h0M1135.9 191.3h0M1025.3 336.5h0M1032.0 441.2h0M921.0 311.2h0M962.5 303.2h0M1144.2 357.7h0M963.0 422.3h0M962.1 325.5h0M916.1 428.9h0M1110.7 342.7h0M914.2 431.5h0M766.4 432.0h0M929.2 423.6h0M860.1 446.0h0M940.4 293.7h0M1013.8 431.2h0M967.8 356.4h0M1144.7 365.2h0M863.5 451.1h0M1082.7 340.0h0M985.7 451.9h0M943.9 462.9h0M975.5 371.4h0M1037.0 466.1h0M884.3 419.5h0M967.2 340.1h0M766.7 420.7h0M997.0 431.7h0M927.8 477.3h0M1016.9 323.2h0M779.2 442.9h0M1094.2 406.3h0M1027.4 448.4h0M1010.5 460.3h0M1087.9 405.5h0M925.0 477.5h0M966.8 328.3h0M981.0 288.4h0M883.3 422.8h0M755.9 448.8h0M982.9 297.5h0M749.4 413.8h0M913.3 462.5h0M999.7 388.9h0M743.2 426.5h0M856.8 463.3h0M979.0 273.6h0M952.4 360.8h0M1104.3 405.9h0M993.9 322.7h0M990.5 482.4h0M994.5 339.2h0M1003.5 466.1h0M947.2 419.6h0M996.5 460.1h0M924.6 438.2h0M1012.3 348.5h0M1087.2 403.4h0M1028.3 446.4h0M979.2 302.9h0M972.1 348.6h0M774.0 423.0h0M1043.0 459.5h0M848.9 449.0h0M1032.2 313.8h0M985.9 292.0h0M836.8 451.5h0M1007.2 482.6h0"/>
<path stroke="#ed5a5f" d="M1026.8 489.1h0M1009.5 277.7h0M1000.5 472.0h0M956.0 417.3h0M923.9 430.6h0M1106.0 362.5h0M1148.3 362.8h0M1020.3 374.2h0M912.1 439.7h0M965.2 414.2h0M955.5 468.6h0M902.5 435.2h0M954.4 413.9h0M983.8 448.3h0M965.2 280.5h0M1102.6 413.9h0M1050.4 465.8h0M873.8 422.7h0M1112.3 345.5h0M770.6 446.3h0M1157.3 166.0h0M1092.9 402.6h0M966.6 296.6h0M747.9 451.8h0M982.2 337.2h0M999.7 357.9h0M1108.4 368.3h0M1100.1 420.3h0M1009.0 480.4h0M949.6 348.7h0M831.5 463.0h0M979.4 417.7h0M936.1 480.3h0M943.7 363.7h0M763.0 437.0h0M756.2 425.8h0M1030.6 359.9h0M973.1 342.8h0M839.8 445.4h0M837.3 457.2h0M765.8 437.9h0M830.0 469.5h0M1031.7 302.7h0M983.6 425.6h0M1094.1 401.1h0M1007.1 339.1h0M992.2 446.4h0M942.5 302.4h0M995.3 292.0h0M972.1 291.7h0M1041.6 446.4h0M958.8 446.4h0M1081.0 354.6h0M993.7 448.7h0M1027.2 305.7h0M1022.6 459.6h0M926.5 428.4h0M1036.5 482.5h0M1046.6 483.1h0M1082.1 407.6h0M952.5 291.8h0M945.9 457.0h0M996.0 385.8h0M1113.4 354.5h0M1101.6 365.9h0M913.1 457.8h0M1110.3 366.6h0M983.6 437.4h0M1099.2 339.7h0M1011.7 463.3h0M1000.3 465.3h0M1144.4 348.9h0M945.4 399.7h0M1041.4 429.6h0M1010.6 305.8h0M943.6 426.4h0M1024.9 308.3h0M1117.7 365.9h0M935.8 291.6h0M868.8 454.6h0M967.3 442.4h0M841.8 454.4h0M1028.7 176.9h0M1148.4 156.9h0M1017.0 272.2h0M880.5 416.7h0M999.6 491.3h0M936.2 456.6h0M1023.7 449.4h0M985.8 433.6h0M952.2 354.1h0M1000.8 448.7h0M957.0 311.9h0M943.9 477.4h0M990.1 334.7h0M1127.2 142.9h0M1031.6 492.0h0M841.9 472.0h0M1049.5 471.6h0M964.5 340.0h0M1031.8 451.4h0M856.8 445.9h0M1020.1 357.1h0M914.6 443.1h0M1118.5 351.6h0M1043.1 477.6h0M944.6 322.7h0M942.3 468.2h0M876.9 462.4h0M934.6 454.3h0M748.0 440.4h0M826.8 457.2h0M953.0 337.0h0M960.5 339.6h0M988.2 473.9h0M1016.8 414.3h0M1019.8 312.0h0M919.6 314.6h0M1107.3 342.6h0M873.0 468.1h0M907.9 459.4h0M841.7 437.2h0M1116.0 362.6h0M963.3 437.2h0M1015.0 359.6h0M989.0 389.4h0M1106.0 403.0h0M1015.4 331.4h0M1134.2 171.6h0M751.5 427.7h0M934.1 408.9h0M749.4 443.2h0M948.8 456.7h0M1029.3 355.0h0M1001.7 338.2h0M1024.2 432.2h0M875.7 417.3h0M969.0 302.6h0M770.6 417.8h0M892.8 429.2h0M836.6 463.3h0M956.4 337.1h0M954.5 357.3h0M1021.6 457.1h0M907.8 442.6h0M918.0 449.4h0M1107.2 354.7h0M1021.6 491.3h0M863.0 473.8h0M880.2 433.5h0M1088.1 360.0h0M968.2 451.9h0M1039.8 426.4h0M765.4 442.6h0M843.9 457.4h0M824.8 457.3h0M996.9 482.8h0M1099.1 357.5h0M918.0 322.6h0M962.4 468.7h0M906.7 428.3h0M989.4 451.9h0M992.9 368.2h0M1015.1 342.8h0M937.6 454.3h0M952.0 468.3h0M943.9 436.6h0M1128.9 368.8h0M1150.9 348.3h0M943.6 340.0h0"/>
<path stroke="#e85362" d="M995.8 313.9h0M922.6 314.5h0M766.0 426.2h0M1138.5 357.3h0M990.6 283.4h0M755.7 419.8h0M1010.3 328.9h0M955.7 463.0h0M1094.1 359.8h0M970.8 367.9h0M947.4 476.4h0M834.9 470.9h0M985.9 417.0h0M1106.2 266.2h0M858.3 437.7h0M1010.8 365.7h0M938.6 342.7h0M1026.9 367.9h0M970.5 288.0h0M926.1 319.6h0M845.1 443.2h0M1112.6 362.6h0M919.3 468.7h0M861.1 463.1h0M961.6 294.0h0M942.6 320.3h0M962.1 263.7h0M974.3 368.8h0M967.2 265.6h0M977.3 380.3h0M1025.9 359.5h0M990.3 323.0h0M1018.4 462.6h0M1107.3 337.5h0M769.8 432.4h0M1021.3 423.5h0M1014.0 305.4h0M974.6 300.0h0M846.6 446.3h0M1143.8 154.6h0M971.0 437.4h0M974.1 420.6h0M973.7 425.9h0M1016.2 482.5h0M1007.0 470.9h0M1021.5 348.8h0M972.5 280.3h0M998.5 382.9h0M1041.1 457.7h0M1031.9 336.9h0M911.7 460.9h0M1111.1 348.5h0M876.8 434.8h0M769.6 442.8h0M856.7 441.0h0M847.1 457.2h0M938.7 297.5h0M1039.7 483.2h0M984.1 351.1h0M980.6 419.4h0M1134.8 368.1h0M1002.2 456.9h0M920.0 460.3h0M1038.3 337.3h0M768.1 445.6h0M998.7 308.0h0M1033.0 346.1h0M1030.4 334.4h0M1023.7 299.6h0M963.3 328.7h0M999.1 431.4h0M950.7 311.5h0M1019.9 424.9h0M961.1 460.2h0M958.4 440.3h0M953.7 460.4h0M854.9 458.6h0M773.8 445.7h0M853.7 451.0h0M957.2 357.3h0M1028.1 491.0h0M1005.1 485.3h0M929.3 314.7h0M843.4 445.4h0M1011.5 416.2h0M994.9 440.7h0M1130.6 377.1h0M1016.9 466.3h0M883.4 429.1h0M1097.5 342.8h0M911.0 454.6h0M1028.4 434.4h0M1111.0 160.9h0M1011.9 337.2h0M977.0 442.8h0M984.6 331.4h0M979.7 266.2h0M1015.6 446.4h0M1009.6 345.1h0M1028.3 417.3h0M1018.1 423.0h0M950.4 305.6h0M866.8 457.5h0M988.6 433.8h0M947.6 465.7h0M1004.1 300.6h0M944.4 414.8h0M965.6 343.3h0M961.1 305.2h0M1011.8 486.3h0M981.6 417.4h0M1009.3 296.8h0M974.5 334.7h0M933.2 423.0h0M970.5 420.0h0M1115.7 351.7h0M990.3 391.7h0M770.5 429.0h0M842.1 442.5h0M936.6 405.3h0M1004.1 420.1h0M960.3 438.1h0M931.4 460.3h0M779.7 439.7h0M985.3 421.8h0M769.1 454.4h0M747.8 428.9h0M1046.0 425.4h0M855.0 437.4h0M965.5 434.3h0M1000.7 390.9h0M1008.9 371.7h0M1030.6 483.7h0M1103.3 340.1h0M921.9 431.5h0M1026.7 437.5h0M1123.9 343.5h0M963.3 351.5h0M912.8 428.9h0M1023.0 483.1h0M1048.0 428.9h0M979.9 443.1h0M1004.9 291.0h0M967.3 483.0h0M1009.1 348.6h0M997.4 420.6h0M851.9 471.1h0M1014.3 468.6h0M967.8 471.0h0M1101.4 331.0h0M981.8 382.9h0M1007.1 488.7h0M1124.3 360.2h0M857.9 457.3h0M983.9 272.5h0M929.2 469.1h0M990.8 472.3h0M1005.1 440.0h0M1015.4 268.2h0M1033.6 340.2h0M1007.4 414.5h0M997.3 300.4h0M770.9 434.6h0M1092.6 265.2h0M1087.8 411.5h0M1028.4 469.1h0M960.2 431.5h0M772.7 425.0h0M995.6 302.2h0M1014.6 337.3h0M1036.3 425.5h0M1089.3 397.7h0M1044.1 454.0h0M960.7 351.2h0M1016.4 351.2h0M906.5 434.0h0M1000.0 437.4h0M1091.3 405.8h0M953.9 482.5h0M1029.8 431.9h0M983.3 289.4h0M949.5 331.0h0M1122.1 351.6h0M1036.8 186.3h0M891.7 419.4h0M972.3 434.8h0M1011.5 371.9h0M858.7 465.6h0M1067.6 286.8h0M950.9 334.3h0M924.1 312.0h0M1094.3 416.8h0M1036.9 454.8h0M975.7 326.4h0M979.6 337.2h0M1124.6 331.9h0M736.7 426.1h0M949.4 354.4h0M1150.6 354.7h0M1101.4 411.6h0M774.0 440.2h0M980.0 414.4h0"/>
<path stroke="#e34e65" d="M982.0 291.7h0M1115.3 365.7h0M767.6 439.5h0M833.5 445.5h0M1122.9 374.1h0M926.5 337.0h0M938.7 423.0h0M864.9 437.6h0M1141.2 360.0h0M995.9 469.3h0M743.2 443.2h0M972.9 308.4h0M1016.0 328.2h0M852.1 465.2h0M920.7 465.3h0M988.3 469.1h0M939.3 353.2h0M969.5 359.7h0M779.4 425.8h0M1008.9 417.2h0M935.7 325.7h0M763.1 443.1h0M1013.7 368.4h0M863.7 428.0h0M1013.6 265.4h0M964.1 483.0h0M1141.8 351.1h0M839.3 451.7h0M1000.1 329.3h0M1015.2 314.4h0M920.8 322.4h0M1135.4 374.4h0M924.2 471.8h0M1000.4 454.5h0M825.8 454.5h0M996.8 476.8h0M957.4 363.2h0M976.8 293.8h0M973.7 305.4h0M975.4 428.3h0M868.9 471.8h0M747.9 422.6h0M1041.9 479.8h0M920.3 434.0h0M972.0 354.9h0M853.1 456.6h0M972.4 451.2h0M929.3 428.8h0M1096.3 357.2h0M975.7 422.5h0M875.2 431.1h0M1000.2 476.4h0M1128.0 365.9h0M969.3 291.9h0M990.3 363.2h0M856.7 474.8h0M1033.1 437.4h0M853.7 462.5h0M1013.9 459.7h0M940.1 405.9h0M860.3 434.7h0M1039.7 419.7h0M1026.6 340.0h0M1105.7 352.0h0M1032.9 454.4h0M974.5 353.9h0M903.6 463.3h0M757.5 429.1h0M975.4 280.3h0M1013.3 482.6h0M992.6 388.4h0M1033.3 168.6h0M983.9 294.8h0M1097.6 411.5h0M855.0 448.9h0M972.0 330.8h0M1085.5 356.8h0M1051.3 469.4h0M916.0 457.3h0M961.3 419.6h0M1025.4 297.3h0M991.7 325.7h0M831.1 454.8h0M1008.8 474.6h0M977.5 385.5h0M845.6 466.2h0M945.3 337.3h0M942.8 423.3h0M840.0 434.4h0M1008.3 468.8h0M946.4 315.3h0M977.3 271.7h0M996.6 351.4h0M959.1 274.7h0M980.0 351.6h0M848.5 465.9h0M1118.9 362.7h0M1024.8 428.8h0M998.6 376.5h0M1004.5 325.9h0M1011.7 456.8h0M1075.5 351.6h0M997.1 312.2h0M996.8 289.1h0M1097.4 406.0h0M997.3 345.8h0M1004.8 377.0h0M1019.8 414.6h0M1013.7 488.8h0M829.5 453.9h0M968.6 445.8h0M993.1 465.8h0M1049.9 437.3h0M963.9 322.5h0M847.4 433.9h0M917.0 446.1h0M1094.7 343.0h0M1139.2 345.2h0M939.3 325.2h0M941.3 309.6h0M1028.4 308.7h0M1042.4 482.0h0M952.8 273.5h0M746.0 432.3h0M1086.1 334.4h0M996.8 339.8h0M1007.8 323.1h0M1032.1 474.1h0M947.0 328.3h0M1007.3 328.8h0M1012.4 280.4h0M1031.4 462.9h0M1004.1 477.2h0M1003.7 310.8h0M986.7 442.2h0M894.3 436.5h0M962.2 440.0h0M1029.8 488.7h0M945.2 348.5h0M1054.1 462.9h0M1021.8 320.5h0M988.9 274.2h0M1037.0 436.7h0M953.6 363.1h0M995.1 428.4h0M951.2 277.4h0M987.4 276.9h0M986.9 362.6h0M1041.4 474.1h0M940.6 317.5h0M1018.6 308.7h0M1119.6 357.3h0M1122.5 363.4h0M914.5 471.5h0M1010.0 454.4h0M1034.3 349.4h0M1106.4 408.7h0M949.4 297.1h0M992.2 371.6h0M1000.0 443.2h0M961.5 296.9h0M964.7 334.3h0M739.9 431.8h0M983.5 339.6h0M1001.0 310.4h0M949.3 463.3h0M1010.5 415.0h0M1023.9 322.4h0M992.8 365.1h0M939.3 314.8h0M980.4 449.3h0M1138.2 340.2h0M873.0 428.4h0M959.0 348.4h0M952.2 308.9h0M1017.1 300.6h0M761.9 420.3h0M1013.0 299.6h0M996.7 414.4h0M995.4 484.9h0M941.0 283.4h0M966.2 428.6h0M820.8 457.6h0M1100.8 406.4h0"/>
<path stroke="#dc4869" d="M970.9 428.1h0M953.1 351.7h0M829.2 470.9h0M987.5 437.6h0M958.8 468.8h0M767.1 411.1h0M1017.0 357.2h0M944.5 431.6h0M993.8 374.3h0M996.7 362.6h0M937.5 334.3h0M957.8 339.5h0M985.1 365.3h0M944.2 294.7h0M942.2 412.2h0M992.1 382.5h0M947.4 453.0h0M904.2 448.8h0M1129.2 362.2h0M962.3 273.7h0M985.5 343.1h0M1040.6 478.1h0M1096.4 351.7h0M853.4 434.7h0M1033.4 459.6h0M1000.3 420.3h0M947.1 471.3h0M761.5 423.6h0M845.7 477.3h0M1012.2 451.9h0M1026.0 312.0h0M1020.1 482.3h0M963.6 465.4h0M1003.9 362.9h0M1022.3 336.3h0M1131.1 371.3h0M835.1 454.1h0M980.5 363.6h0M943.7 311.7h0M1003.3 329.7h0M1087.2 342.1h0M954.8 316.5h0M940.7 419.5h0M934.9 472.4h0M1011.7 439.9h0M1000.4 374.3h0M1021.9 428.7h0M1037.2 448.5h0M975.4 434.7h0M1031.8 434.9h0M1024.3 355.1h0M1013.8 454.1h0M1017.2 335.1h0M958.8 337.0h0M1125.8 374.0h0M774.2 428.9h0M1033.5 482.9h0M845.8 448.6h0M957.9 442.9h0M922.4 463.5h0M963.5 470.9h0M1020.6 431.7h0M935.7 463.3h0M989.0 376.9h0M1020.3 306.0h0M1030.6 308.7h0M1090.1 354.9h0M772.3 431.9h0M985.5 302.9h0M986.2 283.4h0M831.0 445.8h0M849.2 459.7h0M937.5 288.4h0M1010.5 369.3h0M998.5 342.8h0M943.3 440.1h0M932.6 330.6h0M1006.7 294.2h0M893.0 423.0h0M824.9 460.2h0M1020.2 494.5h0M777.2 440.5h0M1009.8 420.4h0M1020.2 459.6h0M1127.9 354.6h0M832.4 460.3h0M1001.2 297.1h0M1127.8 337.3h0M985.4 274.2h0M757.7 446.2h0M975.2 360.5h0M1017.2 443.5h0M1021.5 331.7h0M923.7 327.7h0M923.1 468.2h0M1101.1 348.4h0M1015.5 413.1h0M998.6 314.5h0M1079.5 339.9h0M1112.1 351.7h0M1029.2 343.5h0M751.5 433.9h0M1117.7 354.0h0M1006.7 466.2h0M952.5 298.0h0M994.0 300.1h0M944.1 301.0h0M1033.2 300.3h0M886.1 428.6h0M774.7 417.0h0M987.2 334.5h0M954.4 300.1h0M752.9 442.7h0M1129.3 340.0h0M1077.7 394.4h0M955.3 280.0h0M839.1 439.9h0M963.7 283.5h0M1131.7 368.8h0M1100.4 360.1h0M990.8 426.4h0M1003.6 374.7h0M954.3 322.0h0M884.5 431.0h0M1033.2 305.8h0M1015.4 291.8h0M997.9 356.8h0M963.0 349.0h0M942.4 451.4h0M956.1 480.1h0M936.9 414.3h0M998.9 371.0h0M950.7 328.3h0M938.8 450.5h0M1013.1 443.4h0M965.7 473.9h0M945.9 320.2h0M998.7 480.7h0M994.0 351.4h0M1099.2 408.5h0M1034.7 423.9h0M988.5 462.3h0M1000.6 386.5h0M984.4 380.1h0M854.7 432.1h0M851.5 448.0h0M950.8 340.4h0M986.6 374.6h0M1092.8 363.1h0M918.0 311.6h0M1037.0 340.2h0M933.2 439.7h0M969.3 262.9h0M940.8 477.6h0M904.3 465.2h0M889.4 422.3h0M1016.6 471.9h0M1101.8 419.4h0M969.3 343.2h0M830.7 474.6h0M1046.9 443.2h0M1112.6 340.2h0M995.4 411.5h0M940.6 402.9h0M999.3 353.6h0M993.7 294.8h0M1003.3 316.8h0M1117.2 360.7h0M953.7 311.5h0M1026.6 345.7h0M942.6 457.4h0M998.6 439.8h0M1039.9 447.8h0M837.0 468.7h0M1003.7 414.9h0M989.3 360.1h0M1017.8 342.6h0M1012.7 380.3h0M987.0 425.5h0M906.8 457.4h0M1005.2 422.8h0M1023.7 437.2h0M913.1 468.6h0M955.5 285.7h0M1122.5 380.1h0M947.4 299.9h0M895.1 425.8h0M1027.5 480.1h0M949.5 308.4h0M954.0 442.5h0M1003.4 294.8h0M854.7 470.2h0M1000.8 460.0h0M956.1 354.3h0M996.2 380.1h0M867.7 428.6h0M1024.9 349.1h0M1098.7 334.3h0M961.0 276.8h0M968.0 271.4h0M1132.5 345.2h0M978.2 436.8h0M968.5 297.1h0M988.8 365.5h0M1015.7 297.0h0M762.2 432.0h0M1026.9 471.4h0M1015.1 303.1h0M1028.5 315.0h0M916.1 474.9h0M881.8 465.3h0M984.0 362.7h0M958.6 325.7h0M1000.4 368.4h0M1111.3 371.7h0M757.3 439.7h0M867.2 474.3h0M964.4 345.5h0M999.6 380.3h0M1118.1 348.3h0M923.0 435.0h0M977.4 425.6h0M1028.6 297.0h0M979.1 285.7h0M1113.0 369.3h0"/>
<path stroke="#d5446d" d="M1045.8 460.6h0M1029.1 336.9h0M1000.5 340.2h0M989.1 417.9h0M1108.9 363.3h0M978.4 326.0h0M1105.8 345.9h0M873.4 434.8h0M973.7 266.3h0M1026.4 459.6h0M948.1 408.7h0M1026.7 317.0h0M1002.3 474.2h0M757.9 434.1h0M937.0 345.6h0M859.0 460.2h0M1088.3 337.3h0M992.2 331.7h0M993.2 385.8h0M783.4 437.0h0M982.2 360.2h0M949.9 302.7h0M931.2 425.9h0M1130.7 383.2h0M947.4 460.2h0M881.3 414.2h0M947.3 276.5h0M948.3 405.8h0M963.3 277.7h0M1126.7 357.1h0M982.2 274.8h0M946.9 340.0h0M1002.1 320.3h0M938.4 457.3h0M871.4 419.9h0M1123.5 354.3h0M941.0 460.3h0M979.8 294.3h0M758.9 419.4h0M952.6 411.7h0M990.1 311.4h0M980.7 374.8h0M1028.8 440.2h0M836.2 474.2h0M952.1 285.2h0M964.2 419.4h0M1003.8 425.6h0M1041.8 423.0h0M959.6 291.1h0M1094.3 347.9h0M977.9 374.0h0M987.6 271.7h0M847.4 451.3h0M961.2 449.1h0M1033.2 471.4h0M877.2 423.0h0M957.6 351.2h0M921.2 437.5h0M1006.8 346.6h0M1000.2 351.7h0M1008.5 445.8h0M1026.7 322.7h0M946.5 361.3h0M1092.6 396.9h0M934.8 317.1h0M754.6 439.8h0M965.5 365.9h0M981.0 334.7h0M1000.1 288.1h0M992.1 308.2h0M776.0 420.6h0M967.8 282.4h0M991.1 339.9h0M1010.1 483.6h0M1013.6 317.6h0M933.6 462.5h0M754.4 451.3h0M992.4 280.2h0M991.9 297.7h0M1149.0 345.9h0M771.6 451.3h0M1121.7 365.1h0M929.8 331.6h0M945.0 345.8h0M842.8 468.6h0M868.9 476.9h0M1086.5 396.8h0M918.5 317.4h0M975.6 342.8h0M884.5 426.3h0M959.0 308.1h0M1114.8 348.6h0M916.0 434.3h0M917.7 465.6h0M988.5 291.4h0M1141.1 348.3h0M876.3 468.4h0M752.8 448.1h0M1029.6 305.1h0M768.7 413.9h0M1022.1 434.6h0M1008.6 325.3h0M969.4 417.3h0M1039.8 432.1h0M1031.2 297.5h0M952.6 417.4h0M932.1 411.1h0M1003.6 385.9h0M932.5 416.6h0M1001.6 451.3h0M1002.3 366.1h0M998.8 361.0h0M932.0 319.6h0M871.0 425.5h0M880.1 429.0h0M1110.8 360.4h0M989.1 331.6h0M1037.8 474.4h0M934.8 460.1h0M755.2 417.0h0M844.6 474.7h0M862.0 442.9h0M828.0 448.7h0M1012.3 474.5h0M1142.3 357.5h0M1017.0 340.8h0M998.2 325.6h0M982.4 446.0h0M882.1 419.7h0M1014.9 348.9h0M994.6 426.5h0M935.0 477.6h0M1023.8 357.8h0M993.1 442.4h0M834.1 439.7h0M1091.6 411.1h0M992.6 410.9h0M967.8 425.8h0M949.6 338.0h0M1004.3 454.1h0M988.9 302.5h0M779.6 436.8h0M1020.0 294.5h0M1101.8 355.0h0M956.6 466.4h0M986.8 327.5h0M865.3 453.9h0M995.7 297.4h0M1035.1 337.3h0M1033.4 477.7h0M1004.9 297.4h0M920.4 471.8h0M1002.2 382.7h0M1022.2 474.4h0M1015.4 452.0h0M1044.4 479.5h0M911.4 448.9h0M1026.4 419.3h0M1125.9 363.1h0M970.1 357.1h0M967.3 477.4h0M1137.7 372.0h0M1146.9 354.0h0M849.9 462.7h0M1015.1 480.5h0M873.3 457.5h0M1081.1 348.7h0M1009.4 435.6h0M979.4 353.9h0M1010.3 488.9h0M759.2 442.7h0M958.7 412.0h0M941.1 351.5h0"/>
<path stroke="#cf4070" d="M1089.1 402.9h0M858.0 477.4h0M1031.1 343.0h0M760.1 437.5h0M958.8 485.8h0M984.1 357.2h0M958.6 429.1h0M958.9 268.5h0M991.0 465.5h0M954.0 335.0h0M985.6 429.1h0M1089.7 362.7h0M965.9 303.0h0M930.5 431.7h0M1008.7 423.2h0M1124.0 383.0h0M987.1 420.3h0M1072.8 397.6h0M1000.6 345.4h0M951.1 471.3h0M1010.3 374.5h0M1025.9 328.3h0M991.3 440.0h0M987.5 431.7h0M1124.3 349.0h0M944.5 328.3h0M1028.2 451.6h0M995.6 445.7h0M977.4 351.1h0M944.5 408.2h0M938.1 459.3h0M1038.1 429.1h0M1004.0 482.8h0M1000.7 415.2h0M1078.1 405.5h0M871.5 472.2h0M1141.8 353.7h0M1116.7 337.2h0M1097.7 400.3h0M975.6 297.2h0M846.2 440.2h0M1134.1 365.8h0M959.0 285.2h0M1037.0 460.3h0M972.8 417.5h0M970.3 346.4h0M957.9 332.3h0M964.2 356.9h0M950.5 300.5h0M1022.5 334.8h0M1022.8 305.4h0M980.5 339.3h0M839.6 469.6h0M990.8 294.5h0M1018.4 388.8h0M999.6 426.2h0M1102.2 392.0h0M1152.7 351.0h0M1013.6 386.0h0M981.6 263.3h0M975.0 268.3h0M1025.5 491.4h0M940.6 437.6h0M855.7 443.2h0M1019.5 454.9h0M985.8 285.6h0M995.1 457.3h0M1028.0 303.0h0M975.5 302.8h0M771.2 423.6h0M1010.2 471.4h0M991.2 417.1h0M1120.5 354.7h0M905.1 431.2h0M754.6 445.5h0M1008.1 291.6h0M918.1 431.2h0M1003.5 305.9h0M889.8 428.1h0M1016.8 425.2h0M972.6 446.4h0M983.7 300.2h0M1012.3 445.8h0M998.3 457.0h0M1053.3 471.7h0M858.4 472.0h0M952.4 280.1h0M900.0 422.1h0M1049.2 431.8h0M1015.1 456.9h0M990.7 414.7h0M777.2 428.4h0M1019.5 317.2h0M950.4 465.2h0M1019.8 448.4h0M1083.3 345.8h0M940.9 362.8h0M1017.7 320.4h0M1021.9 468.4h0M993.4 311.3h0M1124.4 336.8h0M850.1 469.3h0M1005.3 354.0h0M1095.0 331.1h0M862.2 448.8h0M939.6 465.3h0M1017.8 359.7h0M978.8 439.9h0M984.3 454.0h0M993.3 477.0h0M1025.3 469.1h0M1031.5 348.3h0M851.6 477.8h0M1012.1 382.8h0M985.0 371.3h0M759.6 413.9h0M967.5 334.3h0M907.6 448.5h0M952.0 314.7h0M1053.2 442.6h0M977.1 340.9h0M950.5 316.6h0M995.8 422.4h0M969.6 429.2h0M1081.9 392.2h0M992.1 394.7h0M773.9 451.4h0M1008.9 337.8h0M984.0 334.4h0M1025.1 474.0h0M1095.9 340.3h0M831.6 471.4h0M1094.5 354.3h0M1023.8 454.8h0M901.7 431.2h0M973.0 363.0h0M1048.6 479.4h0M986.0 348.1h0M974.2 283.2h0M995.4 348.7h0M957.2 316.8h0M1014.8 377.2h0M837.7 454.0h0M944.4 449.2h0M968.9 353.7h0M970.8 271.8h0M1054.5 480.4h0M758.0 417.7h0M985.9 456.4h0M938.0 350.9h0M1017.1 488.1h0M998.4 485.6h0M1148.1 351.4h0M1002.3 309.3h0M1046.4 465.7h0M1139.1 352.1h0M1009.9 293.9h0M1008.6 308.5h0M936.7 320.4h0M1005.0 427.3h0M969.3 423.1h0M953.9 466.1h0M1099.2 350.7h0M1126.1 351.0h0M1129.6 351.7h0M924.4 426.2h0M984.3 385.0h0M1103.9 354.6h0M947.5 334.8h0M853.8 445.8h0M987.4 351.6h0M1004.1 489.0h0M981.9 285.2h0M973.7 448.8h0M947.0 318.2h0M941.2 448.6h0M910.0 434.8h0"/>
<path stroke="#c73d73" d="M932.1 473.7h0M1026.4 442.5h0M948.9 468.4h0M973.5 351.4h0M754.7 434.2h0M1097.6 394.4h0M861.9 477.3h0M1008.8 451.3h0M944.3 357.2h0M955.3 320.2h0M1026.8 465.8h0M868.4 431.7h0M931.0 329.1h0M964.1 431.5h0M1144.1 342.2h0M1088.9 351.1h0M1115.4 340.2h0M1080.2 345.9h0M1002.6 446.8h0M962.9 314.7h0M1119.0 346.3h0M934.0 351.1h0M929.1 321.2h0M961.2 271.6h0M958.9 343.3h0M945.7 423.2h0M932.2 457.8h0M1041.7 485.3h0M932.6 434.3h0M1013.1 346.1h0M952.4 332.7h0M1006.8 369.1h0M960.0 282.4h0M1030.0 466.0h0M909.5 468.3h0M1080.7 331.4h0M764.3 416.8h0M1032.3 422.6h0M936.0 315.2h0M1013.2 362.9h0M1008.1 486.2h0M997.6 329.2h0M1015.3 326.9h0M1118.6 379.3h0M909.4 440.1h0M758.2 423.2h0M929.3 434.3h0M1049.5 460.4h0M988.7 309.7h0M850.4 457.9h0M974.7 414.4h0M1007.4 300.1h0M1009.9 494.9h0M850.1 445.9h0M897.4 420.1h0M1017.9 297.6h0M1005.3 313.6h0M1074.8 399.9h0M1084.8 405.8h0M1029.9 420.0h0M1010.5 351.7h0M1003.8 346.5h0M968.8 280.6h0M1108.6 351.2h0M941.2 453.9h0M1097.0 403.0h0M1087.5 348.1h0M933.9 328.7h0M970.5 305.8h0M1016.5 293.7h0M912.6 445.8h0M953.9 345.5h0M1038.8 484.7h0M979.9 276.0h0M1020.2 471.3h0M942.0 474.7h0M744.5 427.9h0M1008.3 359.3h0M877.7 425.4h0M988.2 440.2h0M988.9 423.1h0M1048.0 468.7h0M1020.9 379.8h0M942.6 354.5h0M1002.6 314.1h0M972.4 474.1h0M1041.4 434.5h0M955.4 412.0h0M881.5 437.2h0M973.1 326.1h0M870.3 468.4h0M1024.4 371.4h0M1046.0 437.3h0M1031.6 354.3h0M1003.9 367.8h0M1002.6 427.9h0M878.7 460.7h0M1020.5 442.2h0M1126.0 340.6h0M1085.5 408.4h0M962.6 331.1h0M1035.0 434.7h0M898.3 425.9h0M991.8 285.0h0M981.6 354.3h0M1028.8 423.6h0M1013.6 322.4h0M1125.6 368.7h0M1039.5 471.1h0M937.7 311.1h0M1097.7 353.8h0M1018.8 383.2h0M1018.5 486.1h0M870.4 463.0h0M997.2 425.3h0M1032.9 425.7h0M990.0 477.5h0M1005.5 337.2h0M951.0 288.0h0M937.6 420.3h0M1125.8 346.3h0M954.0 477.4h0M1033.3 335.2h0M979.2 371.0h0M858.4 454.5h0M1011.5 314.3h0M1011.7 291.4h0M1001.7 371.6h0M1010.4 436.8h0M956.3 440.0h0M994.1 329.0h0M1142.7 346.2h0M780.3 434.3h0M985.6 279.6h0M1085.7 345.0h0M985.6 308.0h0M985.9 440.1h0M872.2 454.3h0M1022.1 445.9h0M978.9 382.4h0M881.2 471.5h0M950.6 408.7h0M1018.2 377.6h0M1029.3 470.9h0M958.8 297.5h0M949.2 360.1h0M985.2 383.2h0M911.2 472.0h0M849.9 440.0h0M962.2 268.7h0M1121.8 368.1h0M970.7 333.9h0M845.6 437.1h0M974.5 357.6h0M855.8 451.1h0M935.4 440.7h0M769.5 419.8h0"/>
<path stroke="#bf3a77" d="M1045.3 446.3h0M1017.0 432.3h0M1004.9 331.8h0M828.1 460.5h0M1001.1 294.5h0M872.6 462.8h0M940.5 311.5h0M946.7 303.2h0M972.3 285.4h0M1016.6 419.8h0M1140.0 365.4h0M833.7 456.8h0M951.1 323.1h0M865.3 448.8h0M987.0 323.1h0M952.2 342.8h0M972.4 337.5h0M745.9 442.8h0M968.9 349.1h0M1145.5 362.0h0M980.9 282.5h0M988.9 383.3h0M1024.1 416.9h0M937.4 472.2h0M977.8 448.4h0M970.7 414.5h0M955.8 314.0h0M925.5 422.6h0M828.5 443.3h0M1020.6 335.0h0M982.7 435.1h0M965.1 285.9h0M1013.4 329.5h0M991.6 291.4h0M1003.9 471.7h0M944.0 334.4h0M941.2 357.4h0M940.0 324.0h0M1015.1 428.3h0M978.7 331.6h0M849.0 477.2h0M1091.0 394.6h0M963.5 294.4h0M939.2 480.1h0M937.2 465.4h0M891.7 437.3h0M1016.0 382.8h0M760.2 428.9h0M962.3 280.2h0M987.5 454.3h0M981.9 331.5h0M960.0 322.9h0M992.1 360.6h0M1005.9 451.0h0M1008.6 320.0h0M826.8 452.0h0M912.7 320.0h0M1115.7 368.4h0M976.9 414.1h0M1023.4 368.2h0M1015.3 354.4h0M1099.5 346.0h0M1091.2 337.6h0M1005.1 434.8h0M1014.7 423.2h0M940.7 409.6h0M1029.9 351.8h0M903.7 460.6h0M1092.6 408.2h0M746.5 425.9h0M988.5 325.1h0M1015.7 308.8h0M986.5 377.6h0M1005.3 445.0h0M965.0 445.8h0M1144.9 354.4h0M1007.2 437.7h0M950.9 356.7h0M942.3 348.8h0M995.0 480.3h0M1145.1 368.7h0M1005.3 458.1h0M927.3 328.9h0M1001.7 388.6h0M967.5 288.5h0M976.1 348.6h0M981.7 422.5h0M971.6 366.3h0M896.1 428.7h0M939.0 337.3h0M1034.8 479.9h0M1004.4 380.4h0M1092.6 345.7h0M1123.3 356.9h0M920.8 426.0h0M964.1 265.9h0M1082.5 403.5h0M1119.0 340.6h0M990.6 351.3h0M935.9 451.3h0M1003.1 432.0h0M1019.9 465.7h0M1009.7 442.6h0M1097.1 337.7h0M1028.8 485.7h0M1007.4 477.3h0M1001.4 434.4h0M1013.0 420.3h0M960.7 334.4h0M1010.3 311.2h0M1089.1 408.5h0M830.2 440.5h0M976.2 286.2h0M979.0 361.8h0M1014.2 486.5h0M993.5 345.6h0M1017.9 291.7h0M982.2 279.8h0M1005.3 372.1h0M1006.1 479.4h0M1008.2 331.5h0M942.2 291.7h0M1011.4 469.1h0M985.6 359.5h0M962.5 452.0h0M933.8 419.8h0M955.9 342.2h0M1040.5 437.8h0M843.7 441.0h0M1040.3 442.6h0M947.4 345.7h0M954.6 288.8h0M949.6 320.1h0M911.3 430.8h0M1137.1 365.1h0M984.6 368.8h0M989.9 385.7h0M1135.1 345.9h0M940.6 472.3h0M941.8 315.2h0M1016.2 449.0h0M965.5 348.3h0M1016.4 345.8h0M1038.0 445.6h0M900.2 434.2h0"/>
<path stroke="#b83779" d="M931.6 316.7h0M834.8 465.6h0M952.4 302.8h0M994.9 337.3h0M1099.4 391.8h0M1001.7 303.0h0M1119.2 368.2h0M1018.1 331.9h0M944.1 466.0h0M955.4 474.3h0M1023.9 302.9h0M931.0 466.0h0M978.8 429.0h0M1018.0 303.4h0M1096.0 345.9h0M1086.1 391.6h0M956.4 290.9h0M980.6 270.8h0M861.8 454.2h0M938.3 305.3h0M1132.2 358.1h0M1053.9 459.0h0M871.3 460.8h0M921.3 448.6h0M1047.4 439.9h0M934.6 437.0h0M990.5 374.6h0M975.5 263.2h0M1137.6 359.6h0M825.9 449.1h0M1045.0 474.8h0M1020.2 477.3h0M1005.2 342.8h0M1001.6 354.0h0M1095.7 414.8h0M1084.3 388.7h0M1129.2 357.0h0M1019.0 468.6h0M1091.0 382.9h0M968.7 285.5h0M834.3 474.7h0M1018.6 457.4h0M1087.6 400.3h0M1030.2 339.7h0M955.2 332.4h0M931.4 471.5h0M1109.5 340.0h0M998.7 434.6h0M1046.7 448.9h0M947.6 351.4h0M947.4 402.8h0M911.0 437.1h0M1010.7 431.4h0M932.1 437.4h0M1003.1 322.8h0M982.7 348.7h0M1083.1 334.2h0M1120.6 371.7h0M968.9 331.9h0M741.1 434.0h0M988.8 336.3h0M914.7 459.7h0M1081.1 336.3h0M759.2 426.1h0M993.6 437.3h0M1004.8 468.9h0M1010.4 357.1h0M860.0 468.9h0M957.8 328.6h0M968.7 480.5h0M1023.8 317.0h0M1048.3 473.9h0M909.7 457.4h0M907.2 437.4h0M998.5 319.6h0M954.2 408.2h0M965.4 308.8h0M1006.8 362.3h0M948.0 288.7h0M966.9 277.7h0M951.0 345.6h0M977.2 362.4h0M991.7 348.5h0M1033.9 443.3h0M957.1 409.8h0M865.3 460.3h0M841.4 477.1h0M974.0 346.2h0M983.9 443.1h0M973.7 340.2h0M995.5 382.6h0M946.4 285.7h0M1010.0 340.3h0M1016.0 311.0h0M1092.7 357.2h0M978.7 377.4h0M837.2 445.5h0M1009.1 314.1h0M998.6 297.2h0M1114.5 337.5h0M1018.0 314.2h0M1002.4 469.1h0M868.9 449.7h0M960.4 427.1h0M971.8 268.5h0M1021.7 314.9h0M910.7 465.4h0M998.8 451.7h0M917.3 426.7h0M914.0 465.8h0M1003.3 437.7h0M1138.5 362.9h0M980.3 431.4h0M957.1 345.8h0M939.1 286.2h0M1013.5 340.2h0M1084.4 349.3h0M975.0 365.8h0M981.8 370.7h0M994.1 471.1h0M1019.7 300.3h0M937.3 447.7h0M973.9 295.4h0M827.5 463.0h0M916.8 462.8h0M974.7 260.6h0M1153.5 348.7h0M856.4 468.4h0M1020.6 351.4h0M998.5 302.5h0M850.2 434.8h0M1006.9 374.5h0M1079.3 402.7h0M965.9 325.8h0"/>
<path stroke="#b0357b" d="M944.0 289.0h0M1035.1 457.1h0M940.1 468.0h0M865.2 465.5h0M988.7 297.3h0M830.9 451.8h0M1148.8 358.0h0M1127.8 376.6h0M938.0 300.3h0M987.6 369.4h0M1029.7 345.7h0M977.5 431.3h0M1007.0 379.4h0M990.1 299.8h0M971.2 283.8h0M940.5 306.3h0M972.1 297.3h0M1016.8 368.9h0M1014.2 295.0h0M1015.5 417.3h0M1019.9 362.6h0M1010.0 317.6h0M990.3 436.7h0M1027.2 476.9h0M1130.0 348.4h0M948.5 417.8h0M1129.4 334.4h0M999.1 337.2h0M982.2 429.1h0M1143.8 359.6h0M1026.5 455.1h0M1031.3 444.9h0M1130.6 359.9h0M971.0 300.8h0M1103.0 357.2h0M1058.2 468.7h0M972.7 372.1h0M1087.5 388.7h0M833.7 462.7h0M957.4 413.9h0M941.9 416.9h0M1039.9 454.8h0M1142.1 368.1h0M1000.2 323.0h0M1025.0 320.0h0M919.7 325.0h0M985.9 463.3h0M1029.4 448.5h0M908.0 431.5h0M1033.0 488.3h0M968.7 308.9h0M992.4 379.7h0M887.8 425.4h0M965.8 274.6h0M991.1 381.0h0M1010.2 300.5h0M1047.7 445.9h0M989.5 457.0h0M1018.6 371.3h0M919.8 439.9h0M990.5 305.8h0M1052.2 474.7h0M957.9 483.3h0M943.5 402.8h0M942.9 297.6h0M1104.9 411.5h0M853.7 474.3h0M1023.1 374.6h0M954.2 471.8h0M915.3 436.6h0M1011.9 360.1h0M978.9 268.3h0M859.9 474.9h0M862.8 462.7h0M1019.1 365.6h0M930.9 408.7h0M966.1 262.9h0M956.5 347.6h0M1023.3 339.5h0M937.8 317.5h0M896.0 434.9h0M949.3 401.5h0M932.6 353.8h0M990.7 431.0h0M940.7 346.3h0M993.5 391.8h0M992.2 342.8h0M1085.7 351.2h0M1009.5 465.7h0M1025.5 451.5h0M751.1 451.4h0M1029.7 300.0h0M970.4 294.6h0M838.9 460.0h0M866.3 469.2h0M944.7 483.2h0M992.5 468.9h0M1137.2 354.7h0M938.3 417.4h0M995.8 319.7h0M1011.7 428.8h0"/>
<path stroke="#a8327d" d="M954.8 271.0h0M962.3 479.3h0M1104.3 348.0h0M1030.0 459.6h0M760.9 439.5h0M1012.1 319.3h0M968.1 305.8h0M1051.5 433.7h0M1053.6 482.4h0M1140.2 343.4h0M946.4 325.3h0M959.2 475.0h0M1023.5 362.5h0M997.3 305.9h0M840.2 475.1h0M981.5 439.7h0M838.8 466.3h0M949.1 479.6h0M860.0 457.1h0M927.5 425.5h0M1084.7 343.3h0M855.4 477.2h0M999.5 290.9h0M957.8 282.5h0M772.2 448.6h0M1082.9 351.6h0M1034.2 439.8h0M1106.8 348.1h0M983.4 265.7h0M933.7 323.0h0M884.4 437.1h0M975.2 330.7h0M975.1 274.4h0M999.0 445.7h0M997.3 374.9h0M904.8 436.9h0M1011.2 433.6h0M977.3 282.7h0M1123.6 377.8h0M966.0 290.8h0M895.2 431.1h0M848.6 437.1h0M925.0 331.1h0M950.6 403.2h0M1013.3 311.6h0M978.9 348.6h0M832.8 451.7h0M862.4 471.2h0M845.6 471.1h0M970.1 329.3h0M1008.8 354.3h0M861.6 437.1h0M996.9 323.3h0M978.1 368.9h0M752.8 438.1h0M1023.1 419.8h0M941.3 414.4h0M1076.4 397.7h0M892.3 434.4h0M1018.5 337.5h0M968.3 365.9h0M1001.3 362.6h0M967.8 300.3h0M1024.8 314.1h0M1004.8 348.9h0M961.8 308.2h0M1018.6 325.2h0M966.2 269.0h0M1019.9 322.4h0M962.2 446.1h0M962.8 448.3h0M962.1 434.4h0M1008.8 275.1h0M1018.3 353.7h0M964.0 426.0h0M1026.9 431.7h0M1000.3 305.3h0M1030.3 415.0h0M847.0 474.9h0M1079.3 333.9h0M1008.6 383.2h0M968.9 325.0h0"/>
<path stroke="#a1307e" d="M823.8 451.7h0M970.6 425.8h0M1020.2 328.5h0M1006.8 431.8h0M947.6 294.1h0M1114.9 343.3h0M956.1 325.2h0M977.6 328.7h0M977.1 288.6h0M868.2 459.8h0M995.9 376.6h0M1087.5 331.1h0M1003.5 340.0h0M1089.1 386.1h0M1037.7 423.4h0M1046.9 471.9h0M998.6 348.5h0M1010.3 425.4h0M744.8 440.3h0M989.9 317.6h0M1008.5 429.6h0M897.4 431.2h0M1013.5 471.6h0M1051.5 480.1h0M922.7 428.6h0M972.1 359.9h0M848.7 453.4h0M1006.8 334.2h0M967.3 363.2h0M942.8 280.3h0M1008.5 377.6h0M968.5 434.5h0M983.1 282.5h0M993.3 306.2h0M831.6 448.8h0M886.1 434.9h0M1077.9 336.8h0M955.3 302.5h0M1017.1 437.3h0M987.2 299.9h0M969.0 274.5h0M857.6 443.1h0M925.2 325.2h0M1005.4 303.3h0M1004.2 333.4h0M946.0 463.6h0M1132.7 374.6h0M1030.1 454.1h0M1105.6 357.0h0M990.6 277.0h0M936.2 423.0h0M942.6 332.3h0M1018.9 411.6h0M1090.7 388.2h0M1021.4 308.6h0M994.3 317.2h0M1089.1 391.0h0M1115.4 345.8h0M962.5 475.1h0M850.2 474.9h0M978.3 451.8h0M949.3 314.0h0M958.6 360.0h0M962.7 416.5h0M837.3 439.8h0M874.8 460.0h0M1003.5 357.5h0"/>
<path stroke="#992d80" d="M954.6 329.0h0M941.8 442.9h0M1042.2 466.0h0M1097.0 360.5h0M1036.8 431.5h0M1099.4 397.3h0M1120.3 342.6h0M754.7 411.9h0M1035.0 462.9h0M1101.4 337.3h0M946.4 417.7h0M957.2 488.6h0M992.7 434.2h0M1111.8 336.7h0M835.2 460.0h0M768.3 452.2h0M1021.9 342.8h0M1020.3 368.7h0M971.2 363.1h0M855.3 454.4h0M920.8 317.3h0M1015.0 462.3h0M986.0 305.6h0M1028.6 348.8h0M848.6 431.7h0M962.0 286.3h0M1021.6 479.6h0M1083.7 337.0h0M939.1 474.3h0M838.1 443.1h0M752.5 414.5h0M992.1 302.9h0M838.5 448.7h0M976.4 333.7h0M892.8 417.6h0M970.1 477.5h0M1008.4 303.3h0M945.9 451.6h0M755.7 430.9h0M1024.7 342.6h0M1126.6 348.4h0M1119.2 334.5h0M988.6 285.2h0M1113.1 357.6h0M1010.7 363.2h0M939.2 302.9h0M961.2 288.5h0M944.1 282.9h0M965.7 417.4h0M1039.7 459.3h0M944.0 306.1h0M1080.8 399.8h0M995.9 331.6h0M960.6 300.5h0M1002.6 290.8h0M1006.8 442.9h0M847.0 469.3h0M950.5 459.8h0M1122.0 340.7h0M1029.4 437.2h0M951.9 348.0h0M980.4 357.2h0M983.0 303.2h0M993.8 431.8h0M963.7 454.6h0"/>
<path stroke="#912b81" d="M1014.2 449.3h0M1016.8 306.0h0M977.4 357.5h0M988.3 349.3h0M995.7 354.7h0M1099.6 414.5h0M997.2 454.5h0M992.7 337.2h0M1011.2 308.2h0M997.4 471.9h0M1043.1 425.9h0M844.6 462.6h0M946.8 305.8h0M1004.9 388.6h0M1021.9 439.8h0M974.0 437.4h0M964.7 331.6h0M980.6 380.2h0M763.8 422.8h0M951.2 283.2h0M1092.7 391.4h0M908.3 471.9h0M960.7 357.3h0M946.2 296.4h0M1028.3 457.7h0M987.7 414.4h0M1021.3 301.8h0M845.8 459.5h0M1046.4 431.8h0M1034.7 342.5h0M1041.0 450.8h0M823.9 446.2h0M997.4 391.7h0M767.8 434.5h0M954.0 282.4h0M962.3 428.9h0"/>
<path stroke="#8b2981" d="M937.7 357.4h0M936.6 411.1h0M978.2 263.7h0M835.2 443.0h0M1002.3 417.5h0M942.7 342.9h0M928.0 431.8h0M980.9 305.6h0M1016.9 454.5h0M993.3 334.3h0M1021.2 297.6h0M880.8 425.2h0M1023.4 477.3h0M990.3 420.6h0M950.9 351.4h0M1001.5 326.0h0M964.1 288.6h0M957.4 277.6h0M1012.2 342.2h0M997.3 317.0h0M1026.8 351.8h0M996.9 294.1h0M1081.5 394.6h0M949.8 274.0h0M962.3 354.4h0M1004.7 308.2h0M984.1 459.5h0"/>
<path stroke="#832681" d="M973.9 277.2h0M1015.7 317.0h0M940.1 288.3h0M988.8 354.0h0M925.5 314.5h0M942.5 405.8h0M964.5 362.9h0M1029.1 362.8h0M1024.9 434.1h0M1021.6 365.9h0M994.4 363.0h0M967.2 345.8h0M965.3 450.9h0M946.0 308.1h0M1017.6 460.8h0M838.2 471.2h0M942.3 337.2h0M1011.7 303.1h0"/>
<path stroke="#7b2382" d="M1135.1 351.5h0M953.4 305.8h0M949.0 291.5h0M1038.2 463.1h0M864.7 471.9h0M971.0 431.3h0M979.7 454.3h0M949.0 285.7h0M945.9 291.5h0M958.9 314.6h0M866.6 462.4h0M990.4 288.0h0M964.2 476.4h0M1013.5 350.9h0M978.5 297.3h0M916.2 440.1h0M981.1 369.7h0M1030.4 311.5h0M1085.4 353.6h0M1048.0 463.1h0M959.3 354.3h0M871.4 464.9h0"/>
<path stroke="#752181" d="M1026.7 333.9h0M972.2 274.6h0M1006.8 357.4h0M961.1 311.7h0M1025.3 325.0h0M1001.6 423.4h0"/>
<path stroke="#6d1d81" d="M956.3 297.6h0M985.2 445.7h0M1104.5 337.8h0M1007.6 385.8h0M1016.7 386.1h0M1004.0 352.0h0"/>
<path stroke="#651a80" d="M990.2 444.0h0M980.3 328.6h0M978.9 280.3h0M960.4 345.9h0M942.1 286.0h0"/>
<path stroke="#57157e" d="M956.1 269.0h0"/>
<path stroke="#4f127b" d="M1101.7 403.1h0M1000.6 317.3h0"/>
</g>
<use href="#grey" transform="translate(0,0)"/>
<g transform="translate(0,0)" fill="none" stroke-width="5.3" stroke-linecap="round">
<path stroke="#fdebac" d="M979.2 302.5h0M975.8 337.1h0M1001.9 354.3h0M1007.7 377.3h0M1040.2 168.7h0M962.5 360.2h0M975.7 360.6h0M984.2 305.2h0M1044.8 188.4h0M1000.7 351.2h0M948.6 360.5h0M921.2 248.7h0M997.5 312.0h0M1013.3 329.0h0M1036.0 229.3h0M1008.2 382.8h0M923.8 105.7h0"/>
<path stroke="#fde3a5" d="M969.0 354.8h0M816.9 349.6h0M956.1 347.7h0M820.5 360.2h0M1020.0 368.7h0M1049.9 157.6h0M990.5 363.5h0M936.3 349.0h0M1156.2 140.0h0M1027.3 305.8h0M991.0 431.2h0M1093.8 234.4h0M903.0 200.0h0M1021.1 342.9h0M1050.1 271.4h0M1063.3 249.6h0M960.3 339.8h0M957.2 345.4h0M964.2 340.3h0M937.4 362.2h0M956.4 308.7h0M1000.5 339.6h0M970.2 111.2h0M987.5 334.3h0M1136.0 363.2h0M988.4 366.0h0M739.9 294.1h0M845.3 334.0h0M991.9 302.9h0M1030.1 351.0h0M947.9 248.5h0M996.9 368.5h0M977.7 340.6h0M1020.4 345.8h0M1112.5 260.1h0M1095.7 260.0h0M981.0 333.6h0M1017.7 330.9h0"/>
<path stroke="#fdda9c" d="M993.5 368.4h0M1005.1 326.5h0M942.1 356.7h0M1008.3 307.7h0M994.3 363.3h0M1025.3 365.5h0M1045.0 148.6h0M1005.5 365.0h0M1018.0 359.3h0M1010.5 305.9h0M980.7 345.8h0M968.9 365.6h0M965.2 423.3h0M998.6 370.7h0M830.4 440.3h0M973.4 351.1h0M1087.9 348.1h0M1003.3 357.2h0M983.8 340.0h0M1014.9 336.8h0M998.4 342.7h0M987.4 368.8h0M952.4 159.5h0M1002.6 360.0h0M922.9 332.0h0M1137.5 348.8h0M1014.4 368.2h0M986.5 276.5h0M1125.8 162.6h0M946.5 360.3h0M1028.1 365.6h0M1105.2 134.6h0M1049.2 454.4h0M972.2 366.4h0M1005.6 319.5h0"/>
<path stroke="#fed194" d="M972.6 355.1h0M1089.6 408.1h0M987.1 386.1h0M1032.0 217.3h0M977.8 369.1h0M1004.8 349.0h0M971.3 362.4h0M1020.5 357.3h0M959.8 319.4h0M836.8 325.2h0M1029.3 443.6h0M1034.9 183.2h0M1124.5 348.3h0M984.4 368.6h0M1052.8 442.4h0M985.4 325.7h0M990.0 357.4h0M1084.5 399.8h0M1057.9 269.4h0M1077.6 245.7h0M955.4 359.4h0M850.2 337.3h0M992.4 314.4h0M833.9 216.6h0M992.8 345.7h0M1012.2 354.6h0M952.2 343.1h0M939.2 348.6h0M995.0 337.3h0M978.5 377.0h0M944.3 356.9h0M1095.7 362.7h0M912.8 462.5h0M978.7 365.7h0M998.7 365.4h0M1022.2 171.7h0M812.5 351.5h0M1022.4 374.1h0M1017.2 362.7h0M1003.8 363.0h0M1006.7 328.7h0M982.1 376.7h0"/>
<path stroke="#feca8d" d="M757.5 325.4h0M911.1 191.6h0M980.6 356.7h0M993.6 309.6h0M993.3 334.1h0M977.3 419.5h0M976.9 356.9h0M997.6 345.6h0M1022.0 353.7h0M1031.9 314.5h0M898.3 379.9h0M1011.5 331.3h0M969.0 337.3h0M1015.4 366.0h0M954.9 343.2h0M1010.2 340.1h0M931.1 254.3h0M1021.9 309.2h0M1063.2 243.5h0M990.5 346.1h0M940.7 362.8h0M993.7 351.6h0M949.4 342.8h0M928.9 468.9h0M1040.4 140.5h0M1029.3 362.9h0M840.3 462.7h0M1007.5 351.6h0M942.9 153.8h0M1026.7 345.7h0M947.4 356.9h0M1087.6 389.0h0M970.8 357.1h0M861.7 437.2h0M1140.3 131.2h0M1001.1 362.4h0M1009.8 333.7h0M1003.5 346.1h0M1013.9 318.1h0M1011.7 382.6h0M964.4 346.1h0M1013.2 345.9h0M950.7 350.8h0M959.2 359.8h0M804.2 280.3h0M964.3 362.7h0M745.0 377.5h0M969.6 359.7h0M1021.7 366.2h0M1008.7 325.5h0"/>
<path stroke="#fec185" d="M1074.9 257.5h0M1031.9 354.4h0M1013.7 351.1h0M952.3 360.1h0M1085.9 408.1h0M1110.0 184.7h0M950.8 357.0h0M991.3 342.8h0M990.5 339.3h0M998.5 360.3h0M1106.1 163.2h0M958.7 348.6h0M966.5 351.7h0M1010.7 363.2h0M933.7 351.2h0M975.4 342.5h0M1126.2 271.8h0M953.2 346.1h0M1036.5 186.2h0M1002.1 366.0h0M832.3 403.2h0M820.5 176.9h0M967.5 357.2h0M1002.2 382.7h0M992.5 365.9h0M1008.0 359.2h0M1076.2 237.1h0M976.9 334.1h0M956.2 291.7h0M990.0 451.7h0M957.4 282.0h0M1133.6 154.8h0M795.3 363.5h0M989.6 331.9h0M1100.4 417.4h0M1011.7 377.4h0M1003.8 368.2h0M962.2 354.6h0M982.5 332.1h0M1019.8 300.3h0M774.1 296.5h0M979.1 354.4h0"/>
<path stroke="#feb77e" d="M962.2 337.5h0M892.0 220.0h0M1033.3 151.6h0M819.0 391.5h0M1018.7 378.0h0M973.5 363.4h0M994.2 374.4h0M775.7 431.2h0M1004.7 331.7h0M853.3 314.6h0M1006.8 334.7h0M988.2 342.9h0M999.6 380.4h0M941.8 348.6h0M1022.0 360.5h0M986.6 351.3h0M1031.1 359.8h0M967.3 339.7h0M990.0 368.7h0M1103.2 414.0h0M938.7 285.5h0M1084.2 388.6h0M1025.8 359.7h0M978.7 382.4h0M1104.0 405.7h0M1014.6 377.3h0M1003.3 352.1h0M1082.4 408.3h0M1015.6 468.9h0M953.7 363.6h0M878.2 374.3h0M991.7 360.3h0M1078.1 274.6h0M985.2 360.1h0M1079.6 408.6h0M1089.3 397.3h0M985.1 388.9h0M1015.6 354.3h0M1004.7 354.1h0M969.2 119.6h0M1107.1 257.7h0M958.0 339.7h0M1010.4 351.8h0M1013.2 334.2h0M1006.3 362.5h0M1010.1 344.5h0M1090.4 383.1h0M1101.1 399.2h0M982.2 371.7h0M883.0 354.0h0M984.6 331.7h0"/>
<path stroke="#feb078" d="M997.1 316.7h0M982.1 360.3h0M1023.3 363.0h0M1099.2 408.4h0M936.8 345.1h0M1003.4 329.3h0M1003.6 231.1h0M916.6 154.6h0M1110.6 251.5h0M1020.1 362.7h0M729.4 305.9h0M988.6 336.7h0M878.8 254.0h0M987.7 362.9h0M1099.7 277.1h0M993.9 328.1h0M1078.2 400.1h0M954.3 356.9h0M974.3 369.3h0M987.6 345.5h0M1091.2 388.7h0M1013.6 373.7h0M888.8 213.9h0M1029.5 344.5h0M950.6 340.2h0M1038.8 177.5h0M888.0 112.2h0M960.7 346.3h0M977.4 374.4h0M1023.5 356.8h0M1005.7 228.5h0M1020.6 379.1h0M1022.4 336.0h0M1081.8 394.8h0M1020.6 334.5h0M882.6 251.1h0M983.3 289.4h0M979.6 337.6h0M1023.7 346.6h0M1007.1 374.4h0M1092.5 408.2h0M1030.1 156.9h0M998.5 348.8h0M896.5 217.0h0M987.5 322.7h0M993.0 379.1h0M942.6 342.6h0M1015.6 383.4h0M1095.1 394.7h0M960.6 351.3h0M1013.0 342.6h0M945.7 354.6h0M1001.0 374.6h0M1009.6 374.7h0"/>
<path stroke="#fea772" d="M886.6 361.0h0M1089.1 385.7h0M1000.5 345.9h0M1028.6 360.3h0M941.1 351.5h0M976.9 362.4h0M957.2 356.8h0M954.9 339.7h0M1024.7 354.7h0M1008.5 388.3h0M1086.1 334.4h0M968.8 342.9h0M1129.0 339.5h0M962.3 365.9h0M974.1 334.4h0M1083.1 232.0h0M948.8 349.4h0M970.7 340.1h0M1097.7 400.5h0M985.6 342.7h0M1091.5 412.2h0M728.4 280.2h0M1074.5 172.0h0M969.3 349.3h0M838.8 157.8h0M1016.8 334.8h0M975.2 365.7h0M1023.4 367.7h0M1029.2 354.7h0M986.1 267.9h0M999.4 332.0h0M1076.2 397.2h0M1087.7 399.8h0M1155.3 145.6h0M1005.5 336.8h0M1103.0 408.7h0M1011.7 360.1h0M988.4 377.2h0M787.5 325.9h0M970.2 368.1h0M872.1 431.3h0M1015.1 359.6h0M871.3 328.8h0"/>
<path stroke="#fe9d6c" d="M983.1 345.7h0M992.0 383.2h0M1019.7 328.1h0M988.6 389.4h0M1026.6 367.8h0M999.7 388.4h0M1006.8 339.3h0M1101.9 403.8h0M1089.2 414.5h0M838.1 208.5h0M1010.4 328.8h0M1022.0 377.4h0M977.4 345.8h0M953.8 352.4h0M981.5 343.1h0M1008.6 332.0h0M990.3 374.0h0M960.5 363.0h0M1097.6 411.2h0M1016.9 380.3h0M1023.8 352.1h0M988.8 371.9h0M996.9 385.6h0M1004.2 482.8h0M982.1 382.9h0M1041.2 485.7h0M797.9 319.8h0M1010.5 299.6h0M882.5 114.3h0M1080.6 399.6h0M1003.2 380.5h0M1015.0 331.2h0M1018.4 338.0h0M990.0 334.7h0"/>
<path stroke="#fd9668" d="M962.4 343.0h0M980.1 363.0h0M950.3 317.4h0M983.9 391.1h0M984.1 334.4h0M976.9 380.0h0M965.7 360.0h0M995.7 366.0h0M1099.4 414.4h0M1094.5 417.6h0M1008.7 337.2h0M994.2 359.9h0M1017.8 371.3h0M995.4 388.8h0M1016.9 358.2h0M1093.7 388.6h0M1079.2 402.6h0M941.6 359.8h0M1090.8 394.3h0M1077.7 405.1h0M1087.6 405.5h0M966.1 343.2h0M1005.6 360.5h0M983.8 362.7h0M987.0 356.5h0M1089.4 391.3h0M944.4 346.0h0M827.2 377.2h0M967.4 345.9h0"/>
<path stroke="#fc8c63" d="M992.3 434.7h0M724.5 291.2h0M1066.3 151.2h0M974.2 340.6h0M1082.9 397.2h0M1096.0 391.5h0M992.5 348.7h0M884.1 380.4h0M1026.0 357.7h0M1009.8 277.5h0M1024.9 371.1h0M1011.3 366.0h0M1009.0 365.8h0M902.4 102.9h0M1001.6 332.1h0M1015.9 342.8h0M1098.1 394.6h0M992.1 371.7h0M987.6 339.7h0M996.7 339.1h0M1011.5 371.5h0"/>
<path stroke="#fb835f" d="M869.3 131.4h0M750.5 286.4h0M1085.3 405.4h0M974.2 357.7h0M1010.2 356.8h0M998.4 376.4h0M980.3 385.0h0M1100.9 411.7h0M842.0 174.7h0M973.6 151.4h0M727.9 268.5h0M959.6 354.2h0M1104.3 418.2h0M1062.3 156.5h0M940.9 346.0h0M1094.1 400.5h0M982.2 337.5h0M966.8 354.2h0M813.0 208.8h0M1006.6 368.4h0M784.4 227.9h0M939.1 360.2h0M1046.5 471.9h0M793.5 296.9h0M1101.9 419.5h0M1092.6 403.2h0M1100.9 405.9h0M996.5 333.8h0M1074.5 400.3h0M992.3 337.5h0M980.7 289.3h0M1008.9 348.2h0"/>
<path stroke="#f97b5d" d="M935.9 354.6h0M1010.4 369.0h0M951.5 353.9h0M1005.7 372.3h0M1119.3 243.1h0M1096.3 414.5h0M1025.1 342.9h0M1104.9 411.7h0M1015.3 372.1h0M1032.8 454.9h0M1082.9 392.3h0M986.9 374.4h0M898.3 180.4h0M1016.8 374.4h0M1018.5 365.2h0M1016.6 368.6h0M932.3 405.3h0M1092.8 391.9h0M1106.1 403.1h0M1081.5 405.8h0M928.3 185.0h0M952.4 348.5h0M998.9 336.7h0"/>
<path stroke="#f7725c" d="M1130.6 371.3h0M945.7 303.4h0M1006.6 380.1h0M955.7 332.0h0M988.2 349.3h0M1002.1 342.7h0M1008.6 354.7h0M845.1 174.2h0M994.1 385.6h0M1007.3 385.4h0M1004.4 383.0h0M950.7 362.8h0M1033.4 419.4h0M947.3 351.1h0M999.9 328.3h0M1106.5 408.5h0M974.5 354.1h0M1034.7 348.3h0M1099.3 402.1h0"/>
<path stroke="#f4695c" d="M1090.8 405.3h0M845.5 191.1h0M960.8 357.4h0M1001.3 388.6h0M1078.7 394.1h0M824.2 361.1h0M984.0 374.4h0M964.3 357.3h0M1099.4 420.3h0M990.0 385.9h0M1023.0 334.6h0M996.6 352.0h0M949.4 302.5h0M946.3 349.1h0M1102.0 391.9h0M1117.4 154.3h0"/>
<path stroke="#f2625d" d="M988.2 382.9h0M1095.0 397.3h0M1012.5 348.9h0M1008.8 371.2h0M1084.7 394.7h0M1087.4 394.2h0M991.0 380.2h0M981.9 349.2h0M1086.8 397.2h0M1082.7 403.4h0"/>
<path stroke="#ed5a5f" d="M1076.0 402.3h0M1085.7 391.6h0M1018.5 342.9h0M1003.7 386.5h0M1003.6 374.1h0M986.1 377.4h0M980.8 381.0h0M967.7 362.9h0"/>
<path stroke="#e85362" d="M983.9 351.4h0M984.1 379.7h0M1090.8 400.5h0M1080.0 397.0h0M992.0 388.6h0M998.3 383.4h0M995.8 377.2h0M992.3 377.3h0"/>
<path stroke="#e34e65" d="M995.6 383.1h0M987.3 380.3h0"/>
<path stroke="#dc4869" d="M1096.1 409.2h0"/>
<path stroke="#d5446d" d="M1002.0 378.0h0M1005.6 388.4h0M1005.0 377.1h0"/>
<path stroke="#cf4070" d="M984.5 384.9h0"/>
<path stroke="#c73d73" d="M980.5 374.6h0M984.5 382.9h0"/>
<path stroke="#b83779" d="M997.4 374.5h0"/>
</g>
<use href="#grey" transform="translate(-672,583)"/>
<g transform="translate(-672,583)" fill="none" stroke-width="5.3" stroke-linecap="round">
<path stroke="#fdebac" d="M1109.6 184.7h0M803.0 151.7h0M889.5 262.3h0M945.7 474.1h0M835.3 202.4h0M788.9 305.5h0M966.7 145.4h0M866.7 291.2h0M966.0 422.4h0M951.7 463.0h0M1099.6 168.5h0M914.6 203.3h0"/>
<path stroke="#fde3a5" d="M948.8 411.9h0M987.0 448.7h0M911.4 460.8h0M887.7 168.7h0M969.4 280.2h0M948.7 406.1h0M968.8 439.7h0M1079.6 294.5h0M801.5 403.4h0M861.7 322.8h0M1166.9 153.1h0M954.5 151.6h0M1101.6 354.8h0M963.8 477.0h0M983.3 345.4h0M914.3 271.8h0M1043.8 431.7h0"/>
<path stroke="#fdda9c" d="M936.1 462.4h0M967.3 168.5h0M869.7 195.1h0M861.9 465.4h0M968.7 445.5h0M1051.9 480.3h0M909.9 462.1h0M939.0 440.0h0M943.8 322.8h0M962.2 462.5h0M794.4 195.0h0M1130.3 160.0h0M1127.4 359.8h0M950.7 248.5h0M954.9 463.0h0M916.1 280.1h0M1058.1 155.2h0M868.3 139.3h0M887.8 385.2h0M924.7 477.1h0M752.9 294.6h0M962.1 474.8h0M919.4 188.7h0M932.6 416.9h0M923.2 142.6h0M952.4 183.0h0M911.5 276.5h0"/>
<path stroke="#fed194" d="M814.1 405.8h0M975.1 280.7h0M1069.6 270.6h0M786.7 325.4h0M879.9 394.2h0M926.0 325.1h0M935.7 314.2h0M952.8 86.1h0M720.6 271.0h0M872.9 280.2h0M842.2 208.3h0M1117.4 125.9h0M981.4 125.5h0M949.4 474.8h0M946.6 402.9h0M995.9 313.8h0M777.6 159.8h0M731.8 314.0h0"/>
<path stroke="#feca8d" d="M894.4 437.3h0M864.3 191.3h0M978.7 353.9h0M1096.1 356.7h0M894.8 425.6h0M1013.3 294.4h0M853.0 462.6h0M1074.6 171.5h0M775.0 336.7h0M940.1 468.9h0M1101.5 160.0h0M784.1 285.3h0M831.7 312.3h0M805.5 203.2h0M926.8 154.0h0M1019.7 312.3h0M755.6 420.1h0M948.4 476.7h0M940.5 402.7h0M990.6 431.5h0M931.1 277.2h0M920.5 191.3h0M745.9 288.8h0M935.1 317.0h0M973.9 266.4h0M753.1 300.4h0M1018.0 291.5h0M1008.0 303.6h0M822.6 163.2h0M917.3 431.8h0M917.8 436.6h0M958.7 428.8h0"/>
<path stroke="#fec185" d="M989.4 268.4h0M995.5 297.1h0M952.2 292.0h0M774.0 325.8h0M873.3 468.2h0M1010.6 305.6h0M991.4 285.9h0M951.0 276.7h0M986.7 293.4h0M957.4 305.9h0M910.6 203.1h0M1001.8 286.1h0M848.7 448.9h0M898.3 425.6h0M940.0 406.0h0M943.2 279.8h0M996.7 288.5h0M925.9 428.6h0M988.9 297.4h0M1006.9 306.6h0M1020.5 305.9h0M961.6 271.3h0M982.3 279.8h0M916.1 274.5h0M1162.4 151.4h0M1088.7 351.3h0M944.8 108.7h0M932.9 330.8h0"/>
<path stroke="#feb77e" d="M926.3 337.6h0M987.3 173.9h0M937.6 305.2h0M744.9 319.8h0M949.8 211.3h0M995.1 302.7h0M921.7 431.5h0M978.6 342.9h0M925.0 317.5h0M972.2 297.9h0M1113.7 251.1h0M854.9 339.6h0M962.6 273.8h0M918.0 317.4h0M1003.4 294.2h0M960.6 282.8h0M836.9 394.7h0M954.3 288.4h0M987.0 283.2h0M985.7 285.4h0M929.8 137.5h0M1138.8 363.3h0M823.5 199.9h0M978.4 326.0h0M880.3 262.3h0M873.8 434.3h0M967.7 271.5h0M833.1 200.6h0M964.1 363.4h0M932.9 439.4h0"/>
<path stroke="#feb078" d="M1017.5 303.9h0M1024.2 302.3h0M911.2 425.8h0M963.6 266.5h0M885.3 362.7h0M929.4 314.7h0M961.8 133.3h0M937.9 328.3h0M974.5 277.0h0M1001.7 342.5h0M928.1 437.7h0M771.1 450.9h0M967.0 265.7h0M889.5 434.5h0M983.6 283.0h0M947.9 288.6h0M932.2 411.6h0M1030.4 294.8h0M1012.0 297.5h0M968.8 285.4h0M1007.5 317.0h0M875.8 417.3h0M723.2 282.6h0M821.8 402.4h0M970.6 293.7h0M973.7 271.5h0M894.7 168.7h0M933.9 419.6h0M970.7 329.8h0M874.8 465.4h0M910.1 468.3h0M868.4 430.7h0M951.1 283.3h0M783.5 262.0h0M929.6 325.6h0M978.8 280.3h0M1052.0 188.7h0M891.9 418.9h0M897.3 420.0h0M975.1 268.3h0M1001.7 303.5h0M832.2 391.3h0"/>
<path stroke="#fea772" d="M990.1 311.6h0M1012.3 285.9h0M962.3 263.3h0M897.9 363.2h0M978.9 274.6h0M944.1 448.5h0M968.6 262.9h0M998.7 313.8h0M888.0 426.0h0M767.8 200.8h0M989.1 279.7h0M959.4 290.9h0M1036.5 465.3h0M1061.6 176.7h0M1001.7 296.9h0M984.0 265.7h0M982.1 262.6h0M932.5 423.5h0M1129.4 339.7h0M910.3 434.3h0M972.0 291.7h0M970.7 94.5h0M1003.8 305.6h0M921.0 329.0h0M931.6 437.3h0M751.4 445.9h0M1027.1 306.1h0M944.1 111.4h0M939.1 291.2h0M963.2 471.2h0M982.6 185.8h0M855.0 444.0h0M916.2 439.2h0M922.2 439.2h0M880.5 434.0h0M1023.5 294.2h0"/>
<path stroke="#fe9d6c" d="M780.5 160.1h0M932.0 257.3h0M951.0 191.5h0M931.3 128.4h0M1013.7 305.2h0M869.5 428.5h0M1012.2 291.4h0M954.7 277.1h0M904.9 436.8h0M940.2 293.6h0M787.7 302.8h0M923.7 326.1h0M1009.0 297.4h0M995.1 291.3h0M937.3 202.6h0M984.2 300.0h0M946.2 274.1h0M971.0 437.2h0M1110.8 285.9h0M968.5 451.4h0M991.0 287.9h0M981.1 288.7h0M862.3 261.0h0M920.0 106.0h0M866.6 428.2h0M999.5 299.8h0M886.7 417.8h0M964.1 288.7h0M919.7 440.2h0M924.7 425.5h0"/>
<path stroke="#fd9668" d="M987.3 288.8h0M980.7 282.7h0M1021.7 297.5h0M989.9 299.7h0M973.7 299.9h0M935.7 291.7h0M953.0 273.9h0M970.0 283.5h0M893.0 366.3h0M1019.7 316.9h0M977.8 277.8h0M1022.2 314.3h0M890.3 354.3h0M919.0 443.1h0M1042.2 148.5h0M1017.4 299.8h0M985.9 274.6h0M1084.4 267.8h0M899.9 434.2h0M985.3 292.1h0M743.5 280.3h0M967.5 288.6h0M893.1 434.3h0M970.5 276.5h0M943.1 297.5h0M962.6 422.2h0M990.9 308.4h0"/>
<path stroke="#fc8c63" d="M908.1 443.7h0M877.0 434.9h0M973.5 425.8h0M931.4 431.7h0M1029.9 300.1h0M1031.2 302.8h0M954.2 191.0h0M988.8 274.3h0M1112.3 260.0h0M891.7 438.0h0M920.8 425.9h0M981.9 285.1h0M913.5 429.1h0M1010.4 311.6h0M982.5 291.8h0M808.0 223.4h0M952.8 280.4h0"/>
<path stroke="#fb835f" d="M967.3 282.3h0M908.3 431.3h0M1031.5 309.1h0M875.4 254.3h0M901.2 146.4h0M1000.4 305.4h0M968.1 296.9h0M888.0 431.7h0M1008.5 308.6h0M1030.6 311.3h0M1124.1 148.6h0M1016.3 311.4h0M992.7 303.3h0M930.6 322.5h0M933.9 409.1h0M1015.9 297.6h0M1021.9 292.2h0M787.5 297.6h0"/>
<path stroke="#f97b5d" d="M884.4 430.9h0M767.8 177.9h0M929.1 319.9h0M986.7 299.4h0M917.8 426.4h0M1029.1 297.1h0M1007.9 290.9h0M877.6 425.5h0M973.9 288.1h0M988.0 272.4h0M920.0 434.5h0M983.7 277.2h0M931.6 419.9h0M977.1 271.5h0M972.6 280.5h0M926.0 319.2h0M983.9 295.4h0M924.1 328.4h0M1000.1 288.5h0M991.9 314.5h0"/>
<path stroke="#f7725c" d="M944.0 288.7h0M974.0 283.0h0M964.4 271.0h0M952.9 480.3h0M770.8 326.2h0M957.1 300.2h0M939.0 320.3h0"/>
<path stroke="#f4695c" d="M941.2 283.4h0M864.1 428.9h0M957.1 291.6h0M939.3 331.2h0M939.0 286.0h0M878.5 431.4h0M972.5 268.6h0M938.1 317.3h0"/>
<path stroke="#f2625d" d="M1011.3 302.6h0M978.4 263.1h0M1013.0 299.6h0M894.7 431.4h0M1015.2 314.5h0M959.1 268.5h0M993.7 310.7h0M961.8 268.9h0"/>
<path stroke="#ed5a5f" d="M870.6 425.9h0M948.5 286.0h0M1016.7 293.7h0M955.7 268.9h0M919.6 325.1h0M1006.6 300.6h0M891.3 425.2h0M964.0 277.5h0M979.5 294.1h0M906.3 434.0h0M1004.9 307.6h0"/>
<path stroke="#e85362" d="M1028.3 302.5h0M1005.4 291.5h0M941.2 311.2h0M989.8 293.6h0M881.0 431.0h0"/>
<path stroke="#e34e65" d="M1016.3 305.1h0M939.3 297.8h0M955.1 285.4h0M997.0 294.1h0M981.8 274.6h0"/>
<path stroke="#dc4869" d="M1013.1 316.9h0M938.7 314.6h0M925.8 331.3h0M944.7 277.3h0M1033.9 300.2h0"/>
<path stroke="#d5446d" d="M1013.8 311.7h0M954.2 300.2h0M959.7 275.3h0M921.1 322.5h0"/>
<path stroke="#cf4070" d="M1009.5 288.6h0M942.5 286.0h0"/>
<path stroke="#c73d73" d="M1028.4 314.1h0M976.2 286.0h0"/>
<path stroke="#bf3a77" d="M978.3 291.1h0"/>
<path stroke="#b83779" d="M1011.9 274.9h0M1000.3 311.2h0M1016.4 316.5h0"/>
<path stroke="#a8327d" d="M1017.2 272.3h0M1013.2 282.8h0M1015.7 274.8h0"/>
<path stroke="#992d80" d="M1010.2 266.3h0M1014.0 276.9h0"/>
<path stroke="#832681" d="M1012.2 280.0h0M1012.7 271.7h0M1010.1 277.2h0"/>
<path stroke="#7b2382" d="M1016.6 265.8h0M1011.0 269.2h0"/>
<path stroke="#752181" d="M1014.8 280.2h0"/>
<path stroke="#6d1d81" d="M1009.2 274.5h0"/>
</g>
<use href="#grey" transform="translate(0,583)"/>
<g transform="translate(0,583)" fill="none" stroke-width="5.3" stroke-linecap="round">
<path stroke="#fdebac" d="M810.6 188.7h0M851.1 253.6h0M866.6 291.3h0M927.6 185.4h0M787.5 240.1h0M944.5 88.3h0M976.4 194.6h0M904.5 249.0h0M950.5 105.1h0M845.3 305.6h0M834.9 397.4h0M930.4 83.2h0M891.5 220.3h0M747.5 303.4h0M805.4 385.7h0M843.2 211.8h0M924.5 277.3h0M967.1 105.9h0M846.6 268.1h0M842.2 208.2h0M921.4 208.1h0M972.3 136.9h0M862.4 323.1h0M933.2 200.1h0M831.9 408.8h0M971.3 71.2h0M731.8 314.2h0M931.0 191.8h0M723.2 277.1h0M780.8 233.4h0M964.1 70.9h0M835.3 197.4h0M901.1 133.9h0M955.7 102.6h0M868.1 208.7h0M970.0 157.3h0M939.8 183.0h0M833.7 217.2h0M947.1 173.6h0M939.3 165.3h0M801.5 385.6h0M959.8 153.9h0M779.5 203.1h0M780.7 291.5h0M931.2 208.0h0M956.2 154.2h0M975.3 171.6h0M860.4 251.1h0M899.9 108.1h0M824.3 400.2h0M925.7 159.7h0M914.3 122.4h0M767.8 320.1h0M805.3 277.4h0M914.5 271.5h0M919.6 160.3h0M843.4 325.0h0M792.7 185.9h0M962.4 194.5h0M749.6 282.8h0M959.3 79.9h0M894.7 77.4h0M881.0 357.9h0M741.5 291.3h0M820.6 240.0h0M967.6 72.1h0M953.4 148.9h0M955.9 119.8h0M726.6 322.9h0M816.9 181.9h0M813.6 365.6h0M799.3 230.9h0M968.9 142.4h0M809.6 408.6h0M984.2 122.9h0M807.3 216.9h0M757.7 314.0h0M714.9 274.2h0M939.0 211.2h0M978.9 142.6h0M920.1 188.8h0M964.3 110.8h0M982.3 168.8h0M941.3 145.6h0M732.4 383.1h0M946.7 74.3h0M965.3 171.8h0M873.2 182.5h0M792.2 322.9h0M970.8 82.6h0M969.0 91.9h0M775.6 214.0h0M897.5 357.0h0M841.8 328.6h0M985.6 177.4h0M929.0 137.2h0M804.1 313.6h0M744.4 313.8h0M814.7 232.1h0M939.9 143.1h0M962.6 109.0h0M797.3 194.2h0M908.0 197.9h0M934.4 249.3h0M979.5 123.4h0M918.0 94.3h0M731.2 280.4h0M825.5 277.5h0M919.2 154.2h0M743.4 318.3h0M939.2 148.5h0M916.0 193.8h0M883.0 114.2h0M983.9 140.2h0M801.9 151.6h0M796.2 346.6h0M948.5 199.8h0M934.7 174.3h0M770.6 280.5h0M749.9 334.1h0M881.9 254.9h0M817.1 222.8h0M955.5 97.4h0M810.6 371.2h0M945.9 251.3h0M913.0 200.4h0M803.9 406.2h0M934.5 163.3h0M967.5 185.3h0M918.3 136.7h0M929.4 165.8h0M891.9 259.5h0M821.9 282.7h0M822.7 225.6h0M916.3 79.4h0M731.3 297.0h0M962.7 159.4h0M888.4 151.4h0M800.1 365.9h0M917.4 174.2h0M906.7 189.0h0M973.9 192.0h0M746.2 300.9h0M958.9 125.2h0M923.2 182.5h0M955.3 85.2h0M774.0 279.8h0M927.8 190.6h0M793.8 171.8h0M888.0 83.1h0M933.1 125.5h0M922.8 200.1h0M828.1 157.1h0M931.2 163.2h0M977.3 179.7h0M924.6 133.9h0M955.9 171.2h0M1009.7 218.8h0M934.3 202.8h0M807.3 228.5h0M890.8 253.9h0M726.3 272.0h0M751.5 269.0h0M820.4 222.3h0M743.5 268.5h0M953.9 77.4h0M845.0 175.0h0M966.1 91.0h0M820.0 188.3h0M841.3 186.2h0M749.1 300.3h0M798.7 294.5h0M883.3 142.2h0M966.6 177.7h0M781.1 303.8h0M917.5 198.1h0M884.9 260.3h0M871.9 322.4h0M917.6 151.6h0M778.0 297.2h0M950.7 174.3h0M752.7 277.4h0M799.2 305.5h0M794.7 165.7h0M954.3 157.8h0M936.2 90.8h0M871.5 254.6h0M919.4 206.1h0M816.2 219.8h0M964.3 180.2h0M926.5 108.2h0M726.4 282.8h0M728.2 263.2h0M840.7 171.0h0M938.1 93.9h0M871.7 197.1h0M972.4 188.9h0M789.6 191.3h0M946.6 79.7h0M924.3 157.5h0M858.4 271.1h0M964.7 85.9h0M721.7 267.8h0M792.4 168.6h0M852.0 328.4h0M977.5 174.3h0M892.3 145.4h0M849.7 251.5h0M842.1 191.2h0M896.2 172.0h0M962.4 115.1h0M952.1 211.4h0M798.8 196.8h0M924.2 100.1h0M953.8 173.9h0M811.9 283.5h0M901.8 145.9h0M760.8 297.6h0M931.1 94.1h0M962.3 91.6h0M840.4 211.2h0M818.3 237.4h0M827.2 297.2h0"/>
<path stroke="#fde3a5" d="M829.3 465.9h0M866.1 364.9h0M939.0 132.0h0M827.1 222.3h0M815.3 203.4h0M794.2 194.6h0M819.9 365.7h0M950.7 122.8h0M754.4 411.8h0M811.9 396.8h0M816.0 293.9h0M813.8 309.3h0M860.0 451.7h0M939.3 97.2h0M821.8 402.7h0M965.4 96.9h0M912.6 245.3h0M802.8 184.4h0M767.4 331.2h0M757.7 331.1h0M936.6 251.6h0M935.8 268.1h0M856.3 451.4h0M886.7 108.6h0M811.7 220.3h0M917.9 88.7h0M871.7 454.1h0M780.5 319.7h0M933.9 157.4h0M759.4 322.4h0M917.3 157.5h0M973.1 154.4h0M791.5 314.4h0M746.3 323.3h0M962.6 125.6h0M734.3 377.6h0M722.5 300.3h0M714.9 280.1h0M980.5 117.1h0M944.6 173.8h0M865.1 471.6h0M957.1 197.3h0M894.8 203.2h0M767.9 439.7h0M925.4 93.9h0M732.7 294.5h0M873.0 217.0h0M780.9 313.4h0M819.8 186.7h0M823.9 280.7h0M836.4 194.1h0M962.2 120.0h0M955.8 200.2h0M736.3 322.7h0M888.7 288.4h0M919.7 103.5h0M917.5 128.6h0M931.1 88.1h0M821.0 206.3h0M840.2 456.6h0M819.5 309.0h0M972.2 182.9h0M985.5 136.6h0M848.0 466.6h0M828.8 443.1h0M948.8 91.2h0M797.1 280.2h0M845.6 311.5h0M951.1 191.5h0M934.2 128.9h0M927.6 209.0h0M777.6 451.6h0M889.6 199.9h0M909.5 251.1h0M772.5 283.3h0M927.9 173.8h0M900.9 216.4h0M734.2 331.1h0M939.1 160.0h0M798.0 237.2h0M923.2 126.4h0M811.2 206.1h0M822.2 191.1h0M938.7 217.2h0M804.0 297.2h0M931.4 70.9h0M982.7 148.9h0M747.6 422.5h0M808.4 306.6h0M973.4 128.7h0M855.1 459.1h0M932.8 240.4h0M758.2 446.6h0M884.8 123.1h0M815.3 283.4h0M854.7 477.7h0M776.0 426.3h0M865.5 331.6h0M837.0 325.9h0M851.4 282.9h0M961.5 133.8h0M731.5 332.0h0M784.7 231.2h0M947.1 117.9h0M796.0 277.2h0M956.4 194.2h0M837.5 320.2h0M973.4 134.1h0M884.8 248.4h0M960.7 82.6h0M921.5 94.5h0M959.0 171.2h0M805.4 396.8h0M925.9 120.9h0M734.4 383.1h0M936.5 194.2h0M832.7 460.6h0M881.4 248.8h0M827.0 228.3h0M936.8 83.4h0M953.9 185.5h0M967.3 168.9h0M980.7 179.4h0M762.3 448.6h0M947.2 128.6h0M848.2 471.6h0M886.5 183.2h0M802.1 403.8h0M774.3 319.5h0M848.3 260.2h0M906.6 166.1h0M935.6 216.8h0M821.8 157.0h0M752.7 334.8h0M926.5 88.7h0M739.5 375.1h0M960.7 140.1h0M783.8 297.9h0M916.4 210.9h0M943.0 74.3h0M883.4 126.7h0M775.4 420.1h0M777.4 422.8h0M967.4 174.2h0M937.0 165.8h0M732.5 271.3h0M818.3 208.6h0M825.8 403.3h0M872.9 330.8h0M957.1 83.2h0M894.3 157.0h0M956.8 157.0h0M743.9 320.1h0M774.2 285.7h0M776.2 192.0h0M803.4 279.9h0M825.3 373.8h0M888.1 380.5h0M767.7 417.0h0M879.7 125.9h0M976.8 133.9h0M801.0 399.0h0M863.0 308.3h0M926.0 240.4h0M940.7 128.0h0M936.8 73.9h0M812.0 186.6h0M925.8 142.3h0M751.4 292.0h0M982.0 108.2h0M883.1 291.2h0M971.7 102.3h0M942.1 85.4h0M888.0 145.6h0M834.7 167.7h0M934.3 191.4h0M882.6 246.3h0M778.8 426.3h0M962.8 171.9h0M981.7 169.0h0"/>
<path stroke="#fdda9c" d="M1160.3 160.0h0M935.9 80.5h0M972.1 159.8h0M862.0 203.1h0M780.8 325.3h0M959.1 131.7h0M863.3 445.4h0M734.2 274.8h0M935.8 130.9h0M957.7 208.4h0M756.1 277.8h0M747.5 285.9h0M965.7 137.0h0M755.6 449.1h0M924.7 191.3h0M723.0 288.4h0M957.2 89.2h0M871.4 317.3h0M922.6 80.1h0M1016.4 472.1h0M764.0 182.9h0M919.8 108.7h0M794.3 354.0h0M958.8 199.9h0M868.2 259.5h0M815.9 397.4h0M836.1 356.5h0M948.1 209.4h0M906.5 126.9h0M981.6 136.6h0M969.1 131.5h0M939.9 120.5h0M922.7 148.0h0M937.6 157.5h0M787.5 314.6h0M782.8 157.0h0M936.6 257.0h0M945.8 103.3h0M804.3 286.4h0M843.1 315.1h0M775.9 271.4h0M939.9 204.9h0M782.2 168.6h0M964.3 94.9h0M833.6 462.9h0M786.3 327.8h0M772.0 269.1h0M909.8 245.3h0M784.4 268.4h0M838.0 306.3h0M759.2 328.4h0M941.7 174.5h0M869.8 308.0h0M951.7 205.7h0M899.7 137.4h0M936.0 240.0h0M919.1 257.7h0M810.0 285.3h0M995.7 411.7h0M937.2 191.3h0M831.8 471.9h0M844.9 179.7h0M926.2 245.3h0M974.4 186.0h0M1033.2 300.3h0M814.2 216.9h0M835.7 454.0h0M916.5 154.3h0M959.0 417.0h0M962.7 80.0h0M824.4 291.2h0M734.7 309.1h0M896.7 103.0h0M715.0 262.6h0M858.4 317.3h0M856.8 477.9h0M934.4 144.7h0M858.2 472.0h0M808.8 317.2h0M949.0 177.4h0M848.6 476.9h0M744.4 285.8h0M743.4 334.1h0M825.8 293.9h0M789.2 305.5h0M859.8 446.3h0M970.4 196.8h0M985.5 171.4h0M934.4 88.3h0M772.6 437.4h0M933.9 105.7h0M906.2 120.0h0M952.6 142.9h0M943.3 125.9h0M750.5 288.8h0M766.5 414.2h0M806.6 365.8h0M935.5 97.9h0M795.9 174.8h0M969.5 137.2h0M806.0 214.6h0M800.6 296.9h0M800.9 171.0h0M798.9 282.2h0M1021.8 192.3h0M887.9 259.6h0M959.5 148.2h0M933.1 211.2h0M746.2 438.0h0M745.5 294.2h0M737.6 332.2h0M836.4 205.4h0M747.8 319.6h0M721.5 262.2h0M762.7 294.5h0M978.6 166.5h0M926.8 86.1h0M922.5 91.4h0M1053.5 253.6h0M941.1 179.9h0M907.9 133.4h0M946.9 180.1h0M964.0 105.3h0M926.1 137.0h0M965.9 108.6h0M961.6 188.6h0M971.7 91.4h0M718.1 269.4h0M815.2 237.6h0M791.2 285.8h0M878.1 220.7h0M822.3 294.2h0M954.1 208.3h0M951.9 97.3h0M787.9 279.3h0M926.0 176.5h0M967.1 111.3h0M823.4 411.5h0M975.6 165.6h0M870.0 319.8h0M803.3 205.7h0M937.5 420.1h0M957.3 466.5h0M922.8 160.2h0M934.2 260.5h0M772.5 299.9h0M864.8 443.7h0"/>
<path stroke="#fed194" d="M830.5 308.7h0M858.2 208.6h0M817.4 200.1h0M862.5 474.5h0M822.2 168.0h0M869.7 142.8h0M819.3 374.4h0M872.1 202.5h0M945.8 268.6h0M987.6 180.0h0M949.0 79.8h0M959.1 97.9h0M807.5 314.1h0M794.2 211.4h0M960.2 99.6h0M831.2 329.2h0M744.8 297.5h0M944.3 117.6h0M930.9 266.4h0M978.7 189.1h0M877.2 314.5h0M718.7 285.9h0M932.4 148.5h0M969.2 159.8h0M811.1 222.6h0M836.8 159.5h0M746.4 317.0h0M929.8 183.1h0M969.3 148.7h0M970.4 135.4h0M917.3 117.1h0M836.9 467.9h0M964.0 174.4h0M874.2 357.2h0M916.0 115.0h0M810.1 171.5h0M1029.9 488.7h0M968.8 84.9h0M845.4 203.0h0M947.8 145.9h0M779.8 299.6h0M830.9 451.6h0M980.7 437.8h0M791.7 206.1h0M838.6 163.1h0M983.9 180.2h0M920.3 460.6h0M731.3 273.8h0M941.1 214.1h0M951.0 83.3h0M924.6 122.7h0M1004.8 297.1h0M795.8 242.0h0M902.3 160.5h0M823.8 451.9h0M981.4 172.4h0M750.1 265.7h0M787.2 222.5h0M962.6 73.5h0M862.3 288.5h0M780.4 434.5h0M881.8 220.1h0M932.0 168.8h0M926.9 117.1h0M937.7 271.0h0M881.8 465.6h0M797.7 234.4h0M888.5 100.6h0M830.8 446.4h0M949.6 148.2h0M832.1 214.4h0M774.4 291.8h0M798.5 388.8h0M853.6 140.2h0M747.8 428.6h0M952.6 159.7h0M894.4 197.0h0M910.7 151.3h0M925.8 148.5h0M888.4 271.7h0M957.7 106.0h0M971.4 194.5h0M1084.8 394.7h0M988.3 440.3h0M831.8 300.9h0M804.5 234.4h0M851.5 334.4h0M716.4 265.6h0M869.5 324.7h0M947.8 243.1h0M929.0 240.0h0M749.9 322.1h0M782.7 162.7h0M771.4 332.0h0M869.6 120.1h0M739.8 277.2h0M960.5 94.1h0M769.7 300.5h0M964.0 151.1h0M904.7 105.0h0M1036.4 477.4h0M754.8 445.7h0M918.4 134.2h0M981.4 142.4h0M847.1 274.1h0M917.6 186.1h0M833.0 177.3h0M891.8 191.6h0M1106.6 408.5h0M950.5 100.0h0M806.7 394.1h0M988.7 429.3h0M818.7 294.5h0M756.4 414.0h0M723.9 280.7h0M777.8 194.3h0M894.9 191.4h0M785.9 316.9h0M967.3 156.5h0M856.0 443.6h0M964.8 168.2h0M947.6 163.3h0M919.7 194.2h0M870.7 462.6h0M888.3 190.9h0M920.9 215.2h0M761.6 269.1h0M739.0 271.9h0M769.6 448.5h0M881.8 271.4h0M813.8 235.0h0M956.8 140.2h0M977.5 123.1h0M787.7 274.9h0M889.4 194.6h0"/>
<path stroke="#feca8d" d="M955.5 79.8h0M885.0 191.0h0M977.3 140.6h0M812.4 414.2h0M976.7 151.5h0M921.0 271.4h0M851.7 477.4h0M992.3 285.7h0M911.1 208.4h0M751.4 434.0h0M809.8 231.5h0M1000.7 419.7h0M920.7 191.7h0M951.7 208.5h0M837.4 440.1h0M988.4 177.4h0M871.5 145.5h0M830.8 469.0h0M965.7 126.1h0M943.0 206.1h0M940.7 202.7h0M758.9 317.5h0M934.2 150.7h0M903.5 456.8h0M774.7 171.1h0M949.5 205.4h0M912.7 176.4h0M847.6 309.1h0M741.0 429.1h0M943.8 123.7h0M924.4 180.1h0M950.6 260.7h0M824.9 459.7h0M852.8 465.8h0M930.9 140.5h0M868.1 202.8h0M915.6 108.7h0M851.6 443.0h0M970.8 163.3h0M945.5 136.7h0M872.0 368.4h0M788.6 163.5h0M785.0 200.1h0M877.5 122.4h0M772.6 443.2h0M929.2 205.2h0M1008.8 303.6h0M830.4 153.9h0M929.8 171.3h0M923.1 120.0h0M853.5 285.3h0M905.1 437.2h0M880.5 365.6h0M772.4 414.8h0M967.3 88.7h0M969.1 177.5h0M949.1 188.5h0M838.5 449.2h0M979.4 137.5h0M821.7 231.3h0M750.0 420.6h0M854.9 334.5h0M923.3 153.9h0M924.6 203.5h0M823.5 296.9h0M766.1 311.2h0M871.2 111.0h0M858.1 305.9h0M939.9 177.0h0M852.5 262.2h0M845.9 279.5h0M949.6 154.3h0M770.5 302.9h0M903.4 251.6h0M766.5 294.7h0M873.6 468.4h0M1043.3 437.1h0M803.5 365.2h0M823.2 211.4h0M718.7 376.9h0M828.5 368.4h0M846.5 474.6h0M861.7 334.0h0M858.2 328.7h0M972.5 119.7h0M894.3 362.4h0M827.3 166.3h0M772.3 425.4h0M737.2 290.2h0M942.6 160.5h0M910.8 140.3h0M947.8 106.0h0M941.6 191.9h0M927.8 134.3h0M824.8 379.7h0M922.7 166.7h0M937.9 152.2h0M826.7 160.3h0M965.8 182.1h0M921.2 163.3h0M911.4 425.9h0M980.1 156.6h0M942.6 79.6h0M917.5 208.6h0M949.1 114.6h0M885.4 277.1h0M959.7 197.7h0M833.0 360.2h0M792.0 214.1h0M1087.7 400.4h0M841.8 477.5h0M941.0 197.3h0M914.9 88.2h0M929.5 212.8h0M899.4 199.9h0M873.8 137.2h0M1018.3 440.0h0M916.1 256.8h0M955.7 474.9h0M925.2 249.2h0M731.5 325.5h0M838.8 295.0h0M843.5 366.4h0M753.9 331.9h0M757.7 416.9h0M741.4 297.1h0M748.1 417.4h0M968.8 417.6h0M882.9 97.1h0M737.8 303.1h0M772.9 271.9h0"/>
<path stroke="#fec185" d="M775.7 436.8h0M775.7 317.2h0M735.5 302.5h0M925.5 103.0h0M855.2 437.6h0M830.5 474.6h0M1102.5 408.3h0M744.1 422.9h0M944.1 144.7h0M855.7 475.1h0M1094.4 405.9h0M771.7 311.2h0M927.5 105.8h0M1013.7 322.6h0M854.5 248.7h0M851.4 322.8h0M807.6 285.9h0M863.6 440.3h0M772.4 420.5h0M852.2 455.2h0M809.3 225.3h0M944.2 465.8h0M1106.0 294.0h0M809.0 363.8h0M909.3 121.0h0M970.4 414.8h0M853.8 474.7h0M897.6 180.0h0M1106.3 402.9h0M771.8 294.6h0M976.0 124.9h0M932.7 171.0h0M1056.5 277.9h0M881.5 282.7h0M970.2 191.9h0M944.4 214.0h0M937.9 311.7h0M843.1 445.8h0M919.0 96.9h0M855.2 328.4h0M1093.4 391.4h0M846.3 445.7h0M934.5 323.3h0M949.4 280.8h0M983.3 282.0h0M839.5 439.5h0M859.3 434.8h0M868.8 265.6h0M940.0 468.3h0M936.5 108.6h0M831.3 463.4h0M833.4 188.9h0M845.2 477.6h0M845.4 442.8h0M752.9 448.4h0M761.2 434.8h0M828.8 454.4h0M893.1 109.1h0M858.5 460.1h0M847.6 311.2h0M793.7 320.2h0M971.0 174.8h0M876.3 274.5h0M763.8 417.0h0M916.2 85.3h0M773.7 451.4h0M960.2 174.3h0M919.0 246.1h0M1025.5 297.1h0M937.5 185.5h0M785.4 311.8h0M778.2 443.1h0M972.2 273.9h0M947.6 213.9h0M968.4 75.3h0M881.3 414.0h0M889.8 131.8h0M838.5 208.4h0M919.4 131.7h0M949.4 120.2h0M1102.2 419.8h0M1004.3 310.7h0M835.7 471.3h0M917.4 237.7h0M954.0 129.2h0M894.8 122.9h0M764.2 440.1h0M874.5 219.5h0M952.5 348.7h0M965.5 114.7h0M938.0 123.0h0M941.3 87.4h0M815.0 288.8h0M850.2 183.0h0M858.4 260.6h0M969.1 154.3h0M821.7 363.1h0M891.9 419.2h0M757.3 280.1h0M817.0 343.2h0M975.9 160.2h0M930.3 134.3h0M858.4 443.1h0M921.3 82.6h0M932.3 165.3h0M944.1 82.5h0M770.3 314.6h0M979.4 131.7h0M1087.3 388.9h0M743.3 420.7h0M978.8 183.1h0M904.9 374.7h0"/>
<path stroke="#feb77e" d="M1078.0 394.0h0M759.8 443.0h0M961.1 122.7h0M848.7 442.7h0M893.3 119.5h0M1094.7 394.6h0M934.2 140.5h0M831.6 179.9h0M889.7 217.3h0M844.0 474.8h0M1076.1 397.4h0M916.3 428.6h0M920.5 151.6h0M981.3 354.7h0M762.3 431.4h0M871.6 271.5h0M963.9 419.9h0M932.3 325.5h0M919.2 263.1h0M765.1 317.7h0M749.1 432.5h0M950.6 185.6h0M959.6 114.5h0M862.1 282.9h0M839.8 469.4h0M1029.8 442.4h0M1080.9 399.5h0M854.4 431.7h0M787.7 320.2h0M782.8 437.1h0M798.0 286.1h0M855.3 288.5h0M1089.3 409.3h0M740.2 432.8h0M762.4 300.6h0M929.4 474.2h0M944.5 168.8h0M942.5 331.6h0M755.8 431.0h0M799.2 397.4h0M1086.7 396.8h0M823.6 405.0h0M941.2 357.4h0M930.6 78.2h0M726.8 385.9h0M851.9 437.1h0M800.1 200.0h0M929.9 194.2h0M814.6 180.3h0M724.9 383.2h0M865.3 367.9h0M1007.5 437.8h0M1075.3 403.0h0M842.0 472.8h0M758.1 439.7h0M856.4 321.1h0M866.8 451.6h0M1087.6 405.7h0M857.0 468.5h0M975.3 183.0h0M850.8 452.1h0M837.5 457.5h0M911.1 454.1h0M926.6 90.9h0M930.7 106.2h0M841.8 460.7h0M949.6 182.8h0M1037.5 417.2h0M741.6 434.7h0M794.3 274.2h0M1046.6 477.7h0M890.7 105.9h0M1108.9 260.1h0M858.4 437.5h0M1145.0 185.0h0M754.2 435.0h0M939.4 80.2h0M980.2 442.7h0M761.2 423.5h0M1084.2 388.4h0M944.5 482.7h0M837.0 434.6h0M810.8 162.9h0M760.0 448.9h0M838.6 437.6h0M857.8 289.0h0M976.4 108.2h0M1010.3 391.0h0M755.8 420.6h0M867.7 246.3h0M762.7 414.2h0M1082.5 403.9h0M766.0 431.3h0M1098.6 402.8h0M752.0 437.5h0M744.0 331.1h0M916.3 262.3h0M845.5 437.1h0M782.0 442.8h0M972.8 451.0h0M776.0 322.9h0M942.0 91.9h0M957.2 306.2h0M883.1 131.5h0M773.0 190.7h0M843.7 451.6h0M966.0 160.5h0"/>
<path stroke="#feb078" d="M842.3 431.5h0M930.0 115.0h0M1026.5 466.2h0M1092.7 408.8h0M947.7 185.2h0M760.7 325.5h0M840.0 434.4h0M963.2 156.2h0M834.0 475.4h0M1004.0 425.4h0M805.8 351.7h0M934.4 99.9h0M723.4 362.5h0M1116.0 374.5h0M726.5 306.1h0M980.4 454.7h0M959.1 90.9h0M1023.6 368.8h0M1105.2 411.2h0M952.4 137.3h0M959.0 194.9h0M838.0 443.0h0M1086.6 403.5h0M1041.1 457.2h0M751.3 451.5h0M863.2 457.0h0M1006.7 448.3h0M1077.0 404.7h0M1094.9 417.0h0M830.1 457.4h0M929.9 143.1h0M975.6 143.1h0M842.9 468.6h0M882.1 140.5h0M883.3 468.9h0M752.2 424.8h0M1014.8 330.8h0M929.3 102.8h0M960.9 168.8h0M771.1 428.5h0M730.0 259.9h0M932.3 137.5h0M947.6 322.1h0M851.4 448.2h0M1033.7 349.3h0M758.0 428.8h0M1013.8 345.8h0M857.5 448.7h0M848.7 460.3h0M975.0 148.6h0M919.0 165.3h0M1003.5 481.8h0M879.9 468.4h0M826.9 451.4h0M811.4 240.6h0M952.7 73.6h0M948.5 159.9h0M797.5 405.9h0M901.4 180.4h0M1099.1 408.7h0M762.3 437.3h0M960.3 432.1h0M1120.7 176.9h0M753.7 451.8h0M769.3 271.4h0M856.1 434.5h0M761.2 417.8h0M748.2 435.0h0M1004.7 331.5h0M1018.7 320.0h0M869.7 451.5h0"/>
<path stroke="#fea772" d="M849.7 434.4h0M1046.6 448.7h0M909.1 445.5h0M840.0 462.7h0M1100.7 399.9h0M883.0 222.6h0M1066.9 259.8h0M759.5 420.0h0M756.0 425.7h0M850.0 445.6h0M825.4 454.5h0M845.7 317.7h0M842.5 465.7h0M909.2 103.3h0M931.3 151.2h0M942.2 172.2h0M841.2 437.3h0M744.8 434.7h0M865.6 448.1h0M971.8 200.0h0M1013.4 477.1h0M874.8 460.1h0M751.2 423.1h0M854.3 452.2h0M861.1 254.3h0M763.1 425.8h0M951.5 180.3h0M967.1 197.4h0M942.2 131.5h0M805.7 283.3h0M949.2 331.6h0M767.7 423.5h0M962.0 155.0h0M777.5 439.9h0M862.5 260.7h0M902.6 91.6h0M862.2 477.2h0M851.8 460.2h0M747.8 446.3h0M1125.7 174.5h0M876.4 417.3h0M749.5 449.2h0M871.8 465.8h0M846.3 440.2h0M936.1 405.9h0M850.1 468.7h0M871.8 294.0h0M744.0 428.5h0M1100.9 291.6h0M862.0 459.7h0M781.9 431.7h0M745.8 432.3h0M856.8 302.8h0M769.1 454.3h0M983.0 302.8h0M875.1 465.5h0M854.9 454.2h0M864.7 465.2h0M749.3 317.6h0M981.1 369.4h0M777.5 320.0h0M843.8 440.6h0M829.4 202.8h0M770.2 417.4h0M1038.2 337.0h0M980.1 345.4h0M961.9 86.0h0"/>
<path stroke="#fe9d6c" d="M850.3 479.4h0M964.5 414.0h0M984.5 151.0h0M770.9 446.6h0M868.2 466.0h0M1021.7 325.8h0M771.3 423.2h0M1002.1 486.5h0M944.1 104.9h0M747.9 451.7h0M779.2 418.9h0M1003.1 323.3h0M818.5 174.3h0M891.0 88.7h0M1079.6 397.1h0M749.4 442.7h0M845.5 254.6h0M955.2 462.9h0M865.3 437.6h0M751.2 297.9h0M863.8 462.5h0M916.2 148.7h0M779.5 431.6h0M910.8 466.1h0M861.6 471.4h0M757.3 297.4h0M854.1 457.3h0M747.0 442.9h0M784.6 227.5h0M947.9 265.6h0M826.6 445.7h0M1084.9 405.7h0M823.7 445.6h0M843.8 456.7h0M776.0 443.1h0M729.8 288.0h0M838.9 471.5h0M825.8 442.6h0M878.5 140.0h0M911.2 437.7h0M1091.2 388.1h0M735.8 276.7h0M965.1 331.6h0M868.0 459.7h0M1122.2 174.9h0M1042.6 442.4h0M747.2 426.2h0M762.5 443.1h0M1047.7 440.9h0M907.5 431.9h0M1050.8 457.2h0M955.3 285.8h0M853.6 462.9h0M781.0 429.0h0M972.5 440.0h0M861.9 466.0h0"/>
<path stroke="#fd9668" d="M834.2 439.6h0M1030.4 483.6h0M765.6 442.8h0M751.2 417.6h0M853.8 434.6h0M760.3 428.4h0M833.0 445.8h0M858.9 465.3h0M783.7 223.2h0M757.7 451.0h0M998.6 360.2h0M937.1 443.5h0M946.5 142.2h0M753.9 439.8h0M743.2 442.7h0M951.4 145.2h0M937.9 77.4h0M758.7 425.5h0M1024.2 311.2h0M966.5 199.8h0M1012.4 297.0h0M759.2 414.0h0M776.9 428.7h0M834.8 477.1h0M991.7 451.5h0M1089.1 231.1h0M769.9 426.7h0M824.2 457.4h0M1109.1 174.4h0M876.4 468.4h0M827.2 457.4h0M835.7 448.5h0M848.7 431.8h0M940.5 72.0h0M1096.6 403.4h0M855.0 465.6h0M834.6 465.7h0M872.8 211.0h0M758.8 434.6h0M752.7 419.7h0M748.1 440.2h0M846.1 460.0h0M760.4 438.0h0M862.2 443.6h0M942.1 422.7h0M854.7 471.2h0M1137.7 376.8h0M861.7 454.5h0M836.5 463.2h0M1082.8 392.0h0M770.7 434.1h0M863.4 469.6h0M853.8 440.6h0M938.9 463.5h0M877.4 465.6h0M960.4 339.3h0M775.6 414.2h0M831.8 466.2h0"/>
<path stroke="#fc8c63" d="M1001.5 450.8h0M844.1 336.9h0M960.0 460.5h0M842.5 442.7h0M838.6 453.9h0M783.8 428.8h0M769.4 437.0h0M873.2 457.5h0M1134.3 376.8h0M850.2 474.5h0M992.5 411.3h0M842.1 448.3h0M924.3 425.4h0M849.9 462.3h0M866.3 469.6h0M768.0 445.3h0M990.3 413.9h0M987.9 349.3h0M1098.3 412.3h0M846.1 480.4h0M832.2 443.4h0M842.9 434.8h0M780.3 439.7h0M769.7 442.6h0M878.3 460.0h0M766.7 420.4h0M945.5 399.7h0M939.0 297.0h0M872.5 462.8h0M761.5 412.0h0M769.6 431.1h0M767.2 411.5h0M860.3 475.0h0M1046.5 465.3h0M762.8 420.2h0M774.1 263.0h0M777.0 434.0h0M765.8 448.4h0M743.4 426.2h0M945.2 405.7h0M984.3 454.4h0M749.4 454.1h0M1013.9 426.1h0M844.7 453.6h0M760.4 451.3h0M820.1 457.4h0M742.7 436.9h0M995.4 325.3h0M860.0 457.2h0M857.1 440.4h0M763.5 422.6h0M1027.1 299.4h0M825.1 386.2h0M1084.0 399.0h0M927.2 157.3h0M928.5 437.4h0"/>
<path stroke="#fb835f" d="M962.8 441.0h0M834.4 468.7h0M822.1 460.8h0M877.2 462.5h0M771.4 440.1h0M866.4 457.0h0M761.2 445.6h0M1089.7 402.5h0M975.4 422.9h0M773.7 428.9h0M766.0 425.9h0M835.5 443.2h0M772.3 448.3h0M856.6 462.4h0M835.4 459.7h0M948.1 294.4h0M960.8 419.9h0M759.4 454.6h0M768.5 434.4h0M771.8 451.2h0M1045.0 446.3h0M847.6 451.6h0M751.3 439.9h0M1157.1 160.4h0M777.9 446.3h0M755.1 429.0h0M838.8 465.8h0M850.0 439.8h0M1053.3 442.9h0M972.2 342.8h0M846.7 469.0h0M984.9 422.1h0M1100.7 411.8h0M1172.2 146.2h0"/>
<path stroke="#f97b5d" d="M764.1 411.9h0M774.1 440.1h0M863.6 451.5h0M775.8 431.5h0M736.8 425.9h0M881.2 471.4h0M839.8 446.6h0M956.3 480.1h0M1032.0 451.5h0M836.5 474.5h0M742.5 431.0h0M1034.7 457.6h0M857.8 457.5h0M772.5 432.4h0M869.5 457.4h0M1016.7 385.7h0M832.1 448.9h0M939.6 440.0h0M743.0 289.0h0M760.5 440.0h0M850.4 458.1h0M774.0 422.7h0M757.4 423.4h0M844.3 463.2h0M865.4 460.3h0M862.3 449.1h0M855.1 448.7h0M853.6 446.2h0"/>
<path stroke="#f7725c" d="M768.1 428.5h0M764.3 428.4h0M826.8 468.0h0M749.2 437.2h0M841.1 454.7h0M756.6 436.4h0M859.9 468.5h0M1118.4 374.3h0M751.5 428.3h0M1135.5 374.0h0M905.2 185.5h0M990.0 451.8h0M878.1 471.7h0M763.9 446.0h0M846.6 462.8h0M764.2 433.9h0M871.5 459.9h0M755.0 416.9h0M839.1 451.3h0M868.9 454.0h0M848.9 453.8h0M920.2 434.4h0M825.9 448.7h0M832.0 454.2h0M845.1 471.8h0M1089.3 385.6h0M839.1 459.9h0"/>
<path stroke="#f4695c" d="M1094.8 331.1h0M854.2 468.9h0M774.5 417.0h0M858.7 455.3h0M1090.9 400.0h0M860.3 440.3h0M1082.4 340.8h0M869.2 474.3h0M848.5 449.1h0M1089.7 358.3h0M866.8 462.9h0M746.1 419.5h0M1122.5 379.9h0M1086.1 353.5h0M1003.8 476.7h0M1114.1 176.7h0M774.8 434.0h0M832.9 451.1h0M1088.6 337.7h0M1145.5 368.4h0M840.5 475.2h0M769.1 414.7h0M1139.2 185.0h0M1027.1 441.3h0M847.2 434.4h0M995.1 484.5h0M845.8 448.5h0M998.6 428.6h0M859.9 463.4h0M1131.0 376.4h0M828.9 470.3h0M1009.9 339.8h0M997.4 483.0h0"/>
<path stroke="#f2625d" d="M1129.2 379.5h0M752.2 431.3h0M869.7 468.1h0M753.2 443.1h0M1141.8 368.6h0M837.4 452.1h0M845.3 465.4h0M768.1 451.9h0M828.5 460.0h0M759.7 431.6h0M1101.0 337.0h0M1135.9 363.3h0M1095.9 225.8h0M970.4 339.8h0M1103.1 362.9h0M751.3 446.4h0M866.8 473.3h0M828.8 448.7h0M1099.0 414.8h0M836.8 445.3h0M765.9 437.2h0M838.4 477.1h0M762.6 454.3h0"/>
<path stroke="#ed5a5f" d="M826.8 463.6h0M1124.5 331.8h0M1138.9 357.2h0M1122.9 373.9h0M1114.1 348.9h0M1126.8 357.5h0M871.7 472.3h0M978.6 275.0h0M868.7 476.6h0M910.6 431.1h0M1147.5 353.7h0M847.5 457.5h0M1140.5 142.7h0M749.9 425.3h0M1140.4 365.3h0M779.4 436.8h0M774.2 445.7h0M1079.3 333.9h0M1133.6 365.7h0M768.8 419.5h0M1127.5 376.9h0M1119.2 368.1h0M754.5 422.7h0"/>
<path stroke="#e85362" d="M1120.5 377.3h0M1147.0 366.5h0M1139.1 369.6h0M1123.6 383.0h0M868.6 471.9h0M833.5 456.6h0M1103.1 345.9h0M869.0 448.8h0M1149.2 351.3h0M1125.6 374.0h0M883.8 429.3h0M744.4 440.4h0M750.1 414.2h0M1141.1 348.5h0M753.2 414.3h0"/>
<path stroke="#e34e65" d="M1112.8 369.1h0M1098.8 333.9h0M830.2 439.8h0M848.4 437.2h0M1087.5 342.9h0M851.8 471.3h0M1148.9 357.3h0M1154.3 354.4h0"/>
<path stroke="#dc4869" d="M1087.9 332.1h0M1136.1 339.8h0M1092.9 357.7h0M1138.2 362.8h0M1117.5 377.0h0M755.7 442.5h0M1085.4 344.7h0M856.7 445.6h0M864.6 454.1h0M1107.7 365.3h0M1123.6 377.7h0"/>
<path stroke="#d5446d" d="M1155.4 351.3h0M1097.5 359.7h0M1110.6 366.4h0M1142.3 345.6h0M1083.7 336.8h0M1118.8 379.5h0M1125.1 340.5h0M1080.2 339.9h0M1101.8 354.5h0M1092.3 351.1h0M862.0 436.5h0M1108.4 368.3h0"/>
<path stroke="#cf4070" d="M1147.1 360.4h0M1129.0 374.4h0M1086.2 334.6h0M1094.2 342.8h0M1129.3 368.8h0M1126.0 334.3h0M1130.9 365.9h0M1126.0 379.6h0M1105.9 334.7h0M1130.9 382.8h0M1106.3 348.3h0M1117.4 354.4h0M1088.1 360.2h0M1107.8 342.8h0M1128.1 366.2h0M1140.8 359.9h0M1093.1 363.8h0"/>
<path stroke="#c73d73" d="M1081.0 343.3h0M1122.5 368.6h0M1085.8 356.9h0M1098.3 366.0h0M1103.7 360.1h0M1132.6 339.8h0M1112.4 334.8h0M1114.4 337.7h0M1087.2 348.7h0M1127.2 371.3h0M1080.8 348.3h0M1105.8 357.1h0M1151.7 349.3h0M1114.8 342.6h0M1092.8 334.4h0M1147.3 348.5h0M1098.5 339.8h0M1139.4 345.6h0M1124.2 342.7h0"/>
<path stroke="#bf3a77" d="M1130.7 354.2h0M1115.1 345.3h0M1153.6 348.8h0M1111.5 337.3h0M1137.6 371.6h0M1117.4 365.8h0M1120.5 371.7h0M1090.6 354.1h0M1141.2 370.9h0M1128.8 334.2h0M1099.0 351.5h0M1110.1 342.9h0M1117.5 360.3h0M1132.2 374.6h0M1095.9 362.4h0M1117.4 342.6h0M1143.9 348.9h0M1104.1 343.3h0"/>
<path stroke="#b83779" d="M1094.1 348.5h0M1123.9 337.1h0M1128.8 339.9h0M1126.1 363.1h0M1134.0 348.8h0M1129.5 346.0h0M1120.2 336.8h0M1141.3 354.5h0M1135.3 368.5h0M1096.0 356.8h0M1110.9 371.1h0M1102.4 357.6h0M1081.0 336.3h0M1089.1 340.4h0M1132.0 358.4h0M1094.3 360.1h0"/>
<path stroke="#b0357b" d="M1121.4 345.4h0M1089.1 351.7h0M1136.9 354.6h0M1077.9 337.1h0M1099.6 362.5h0M1119.0 351.1h0M1120.3 354.3h0M1104.0 354.4h0M1115.5 365.7h0M1149.6 345.6h0M1101.3 365.6h0M1102.4 339.6h0M1029.7 225.9h0M1120.6 331.2h0M1084.2 349.8h0M1100.6 343.0h0M1142.4 357.1h0"/>
<path stroke="#a8327d" d="M1113.7 354.3h0M1091.7 360.4h0M1132.1 362.8h0M1116.1 369.5h0M1091.4 348.9h0M1104.9 337.2h0M1111.2 354.7h0M1035.4 222.5h0M1122.8 363.5h0M1080.7 331.8h0M1115.6 362.5h0M1096.1 351.8h0M1133.9 343.4h0M1084.4 343.3h0M1144.5 360.5h0M1129.6 360.0h0M1128.5 362.5h0M1141.8 363.1h0"/>
<path stroke="#a1307e" d="M1144.8 355.1h0M1093.0 346.0h0M1097.3 343.2h0M1097.4 354.4h0M1115.3 340.3h0M1152.0 351.3h0M1079.8 345.8h0M1127.6 354.7h0M1131.7 345.4h0M1094.6 337.0h0M1107.3 360.1h0M1118.0 372.1h0M1075.7 351.9h0"/>
<path stroke="#992d80" d="M1144.8 357.0h0M1119.0 340.5h0M1124.3 353.9h0M1110.3 360.3h0M1081.4 354.0h0M1093.1 339.7h0M1043.7 220.3h0M1124.1 361.0h0M1047.0 214.3h0M1097.0 348.8h0M1126.9 359.9h0M1140.7 343.7h0M1120.7 360.5h0M1097.4 337.5h0M1150.5 355.2h0M1085.9 339.5h0"/>
<path stroke="#912b81" d="M1107.3 337.6h0M1124.0 365.7h0M1100.4 360.0h0M1144.1 342.5h0M1116.2 335.1h0M1121.4 365.1h0M1094.4 354.7h0M1134.6 359.8h0M1125.2 346.2h0M1046.6 220.0h0M1116.0 351.8h0M1142.1 351.4h0M1101.1 331.3h0M1119.2 346.2h0M1100.7 348.6h0M1145.6 351.5h0M1122.3 340.7h0M1108.9 345.4h0M1133.6 371.6h0"/>
<path stroke="#8b2981" d="M1114.2 360.6h0M1032.4 217.6h0M1098.6 357.0h0M1135.1 357.7h0M1122.5 356.9h0M1148.5 363.7h0M1138.4 340.2h0M1105.2 348.5h0M1041.6 218.1h0M1127.1 336.9h0M1106.1 340.1h0M1126.2 351.3h0M1130.2 342.7h0M1144.1 365.4h0"/>
<path stroke="#832681" d="M1106.2 363.5h0M1119.1 363.1h0M1085.9 350.7h0M1136.9 360.4h0M1102.9 351.8h0M1113.1 356.8h0M1033.5 220.0h0M1112.7 351.8h0M1123.6 348.6h0M1115.7 356.7h0M1134.3 353.6h0M1047.7 217.3h0M1116.9 337.6h0"/>
<path stroke="#7b2382" d="M1039.4 217.4h0M1028.2 218.2h0M1137.3 365.5h0M1035.9 217.0h0M1109.3 362.4h0M1122.4 351.3h0M1091.6 336.7h0M1112.4 345.7h0M1038.7 222.9h0M1126.4 348.5h0M1028.4 223.0h0"/>
<path stroke="#752181" d="M1134.8 351.8h0M1119.8 357.1h0M1129.7 357.4h0M1039.8 225.5h0M1136.6 342.9h0M1121.2 347.9h0M1109.3 351.2h0M1111.0 348.4h0M1124.1 370.5h0M1094.3 365.8h0"/>
<path stroke="#6d1d81" d="M1087.6 353.5h0M1122.8 334.1h0M1107.9 355.0h0M1033.8 225.1h0M1130.9 348.9h0M1105.6 346.0h0M1129.0 351.6h0M1105.7 351.3h0M1083.3 345.8h0M1029.5 220.6h0M1137.5 349.5h0"/>
<path stroke="#651a80" d="M1128.2 342.9h0M1040.2 219.5h0M1144.9 345.8h0M1038.0 225.8h0M1120.3 342.6h0M1082.4 351.5h0M1032.4 223.1h0"/>
<path stroke="#5f187f" d="M1096.2 345.8h0M1117.7 348.5h0M1045.2 216.8h0M1112.4 340.1h0M1109.4 357.4h0M1145.2 361.7h0M1109.2 340.9h0M1098.9 346.4h0M1040.6 223.2h0"/>
<path stroke="#57157e" d="M1037.1 220.4h0M1089.2 345.4h0M1091.0 343.2h0M1112.2 362.9h0M1132.0 351.0h0"/>
<path stroke="#4f127b" d="M1089.4 363.3h0M1135.4 346.6h0M1096.4 339.7h0"/>
</g>
<text class="ti" transform="translate(268.5 38.9) scale(0.96 1)">GAD1</text>
<text class="ti" transform="translate(941.5 38.8) scale(0.96 1)">PVALB</text>
<text class="ti" transform="translate(269.0 621.8) scale(0.96 1)">SST</text>
<text class="ti" transform="translate(942.0 621.8) scale(0.96 1)">PDGFRA</text>
<rect x="528.05" y="52.70" width="15.75" height="465.05" fill="url(#cbg)"/>
<rect x="528.05" y="52.70" width="15.75" height="465.05" fill="none" stroke="#000" stroke-width="1.9"/>
<line x1="543.80" x2="551.70" y1="517.75" y2="517.75" stroke="#000" stroke-width="1.9"/>
<text transform="translate(560.50 530.05) scale(0.945 1)" class="tk">0.0</text>
<line x1="543.80" x2="551.70" y1="440.24" y2="440.24" stroke="#000" stroke-width="1.9"/>
<text transform="translate(560.50 452.54) scale(0.945 1)" class="tk">0.5</text>
<line x1="543.80" x2="551.70" y1="362.73" y2="362.73" stroke="#000" stroke-width="1.9"/>
<text transform="translate(560.50 375.03) scale(0.945 1)" class="tk">1.0</text>
<line x1="543.80" x2="551.70" y1="285.23" y2="285.23" stroke="#000" stroke-width="1.9"/>
<text transform="translate(560.50 297.53) scale(0.945 1)" class="tk">1.5</text>
<line x1="543.80" x2="551.70" y1="207.72" y2="207.72" stroke="#000" stroke-width="1.9"/>
<text transform="translate(560.50 220.02) scale(0.945 1)" class="tk">2.0</text>
<line x1="543.80" x2="551.70" y1="130.21" y2="130.21" stroke="#000" stroke-width="1.9"/>
<text transform="translate(560.50 142.51) scale(0.945 1)" class="tk">2.5</text>
<line x1="543.80" x2="551.70" y1="52.70" y2="52.70" stroke="#000" stroke-width="1.9"/>
<text transform="translate(560.50 65.00) scale(0.945 1)" class="tk">3.0</text>
<rect x="1200.05" y="52.70" width="15.75" height="465.05" fill="url(#cbg)"/>
<rect x="1200.05" y="52.70" width="15.75" height="465.05" fill="none" stroke="#000" stroke-width="1.9"/>
<line x1="1215.80" x2="1223.70" y1="517.75" y2="517.75" stroke="#000" stroke-width="1.9"/>
<text transform="translate(1232.50 530.05) scale(0.945 1)" class="tk">0.0</text>
<line x1="1215.80" x2="1223.70" y1="443.22" y2="443.22" stroke="#000" stroke-width="1.9"/>
<text transform="translate(1232.50 455.52) scale(0.945 1)" class="tk">0.5</text>
<line x1="1215.80" x2="1223.70" y1="368.70" y2="368.70" stroke="#000" stroke-width="1.9"/>
<text transform="translate(1232.50 381.00) scale(0.945 1)" class="tk">1.0</text>
<line x1="1215.80" x2="1223.70" y1="294.17" y2="294.17" stroke="#000" stroke-width="1.9"/>
<text transform="translate(1232.50 306.47) scale(0.945 1)" class="tk">1.5</text>
<line x1="1215.80" x2="1223.70" y1="219.64" y2="219.64" stroke="#000" stroke-width="1.9"/>
<text transform="translate(1232.50 231.94) scale(0.945 1)" class="tk">2.0</text>
<line x1="1215.80" x2="1223.70" y1="145.11" y2="145.11" stroke="#000" stroke-width="1.9"/>
<text transform="translate(1232.50 157.41) scale(0.945 1)" class="tk">2.5</text>
<line x1="1215.80" x2="1223.70" y1="70.59" y2="70.59" stroke="#000" stroke-width="1.9"/>
<text transform="translate(1232.50 82.89) scale(0.945 1)" class="tk">3.0</text>
<rect x="528.05" y="635.80" width="15.75" height="465.90" fill="url(#cbg)"/>
<rect x="528.05" y="635.80" width="15.75" height="465.90" fill="none" stroke="#000" stroke-width="1.9"/>
<line x1="543.80" x2="551.70" y1="1101.70" y2="1101.70" stroke="#000" stroke-width="1.9"/>
<text transform="translate(560.50 1114.00) scale(0.945 1)" class="tk">0</text>
<line x1="543.80" x2="551.70" y1="977.79" y2="977.79" stroke="#000" stroke-width="1.9"/>
<text transform="translate(560.50 990.09) scale(0.945 1)" class="tk">1</text>
<line x1="543.80" x2="551.70" y1="853.88" y2="853.88" stroke="#000" stroke-width="1.9"/>
<text transform="translate(560.50 866.18) scale(0.945 1)" class="tk">2</text>
<line x1="543.80" x2="551.70" y1="729.97" y2="729.97" stroke="#000" stroke-width="1.9"/>
<text transform="translate(560.50 742.27) scale(0.945 1)" class="tk">3</text>
<rect x="1200.05" y="635.80" width="15.75" height="465.90" fill="url(#cbg)"/>
<rect x="1200.05" y="635.80" width="15.75" height="465.90" fill="none" stroke="#000" stroke-width="1.9"/>
<line x1="1215.80" x2="1223.70" y1="1101.70" y2="1101.70" stroke="#000" stroke-width="1.9"/>
<text transform="translate(1232.50 1114.00) scale(0.945 1)" class="tk">0.0</text>
<line x1="1215.80" x2="1223.70" y1="1029.80" y2="1029.80" stroke="#000" stroke-width="1.9"/>
<text transform="translate(1232.50 1042.10) scale(0.945 1)" class="tk">0.5</text>
<line x1="1215.80" x2="1223.70" y1="957.90" y2="957.90" stroke="#000" stroke-width="1.9"/>
<text transform="translate(1232.50 970.20) scale(0.945 1)" class="tk">1.0</text>
<line x1="1215.80" x2="1223.70" y1="886.01" y2="886.01" stroke="#000" stroke-width="1.9"/>
<text transform="translate(1232.50 898.31) scale(0.945 1)" class="tk">1.5</text>
<line x1="1215.80" x2="1223.70" y1="814.11" y2="814.11" stroke="#000" stroke-width="1.9"/>
<text transform="translate(1232.50 826.41) scale(0.945 1)" class="tk">2.0</text>
<line x1="1215.80" x2="1223.70" y1="742.21" y2="742.21" stroke="#000" stroke-width="1.9"/>
<text transform="translate(1232.50 754.51) scale(0.945 1)" class="tk">2.5</text>
<line x1="1215.80" x2="1223.70" y1="670.31" y2="670.31" stroke="#000" stroke-width="1.9"/>
<text transform="translate(1232.50 682.61) scale(0.945 1)" class="tk">3.0</text>
</svg></body></html>
